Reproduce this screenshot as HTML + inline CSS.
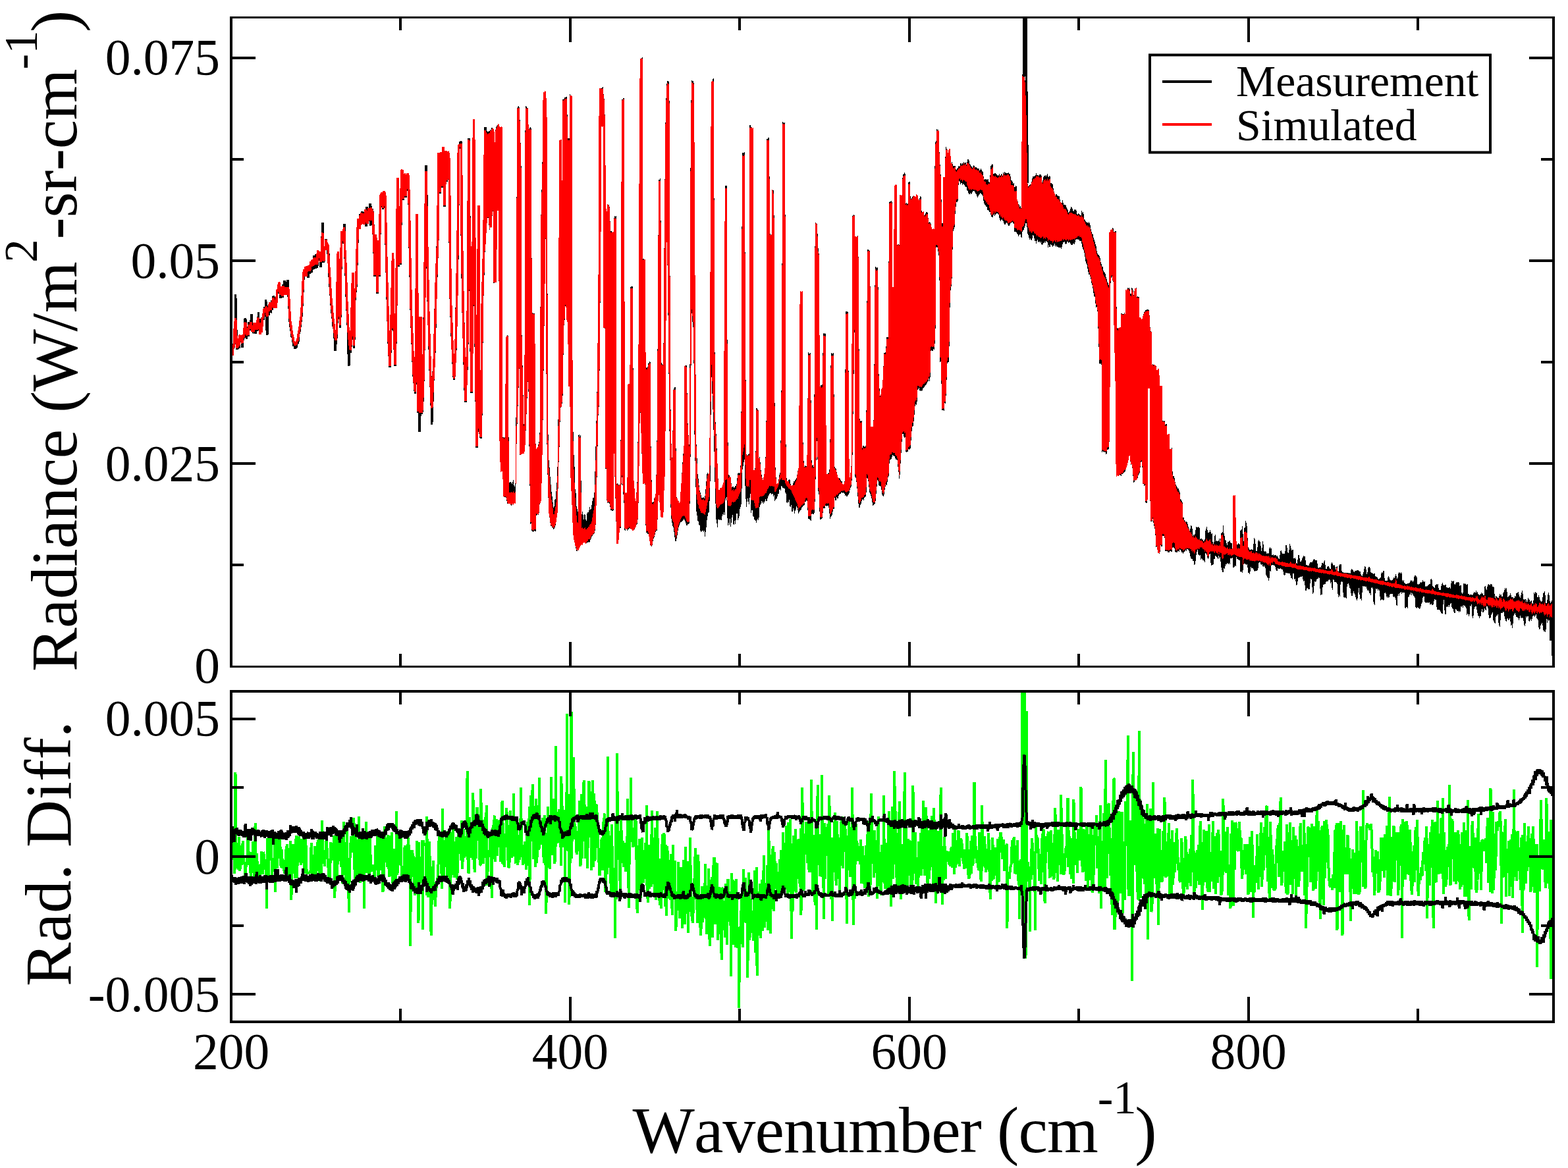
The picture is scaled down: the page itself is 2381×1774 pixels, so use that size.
<!DOCTYPE html>
<html lang="en"><head><meta charset="utf-8"><title>Radiance spectrum: measurement vs simulated</title>
<style>
html,body{margin:0;padding:0;background:#fff;}
body{width:2381px;height:1774px;overflow:hidden;}
svg{display:block;}
text{font-family:"Liberation Serif",serif;fill:#000;}
</style></head><body>
<svg xmlns="http://www.w3.org/2000/svg" width="2381" height="1774" viewBox="0 0 2381 1774">
<rect width="2381" height="1774" fill="#fff"/>
<g stroke-width="3.6" stroke-linejoin="bevel" stroke-linecap="butt" shape-rendering="crispEdges">
<clipPath id="ct"><rect x="351" y="26" width="2008" height="987"/></clipPath>
<g clip-path="url(#ct)">
<path fill="none" stroke="#000" d="M351.3 540.7L352.1 531.7L352.9 540.1L353.7 523.5L354.5 529.8L355.3 522.7L356.1 499.0L356.8 502.4L357.6 484.4L357.6 447.1L358.3 479.8L359.1 520.7L360.0 530.4L360.9 520.4L361.8 526.2L362.7 529.2L363.6 513.5L364.5 513.5L365.4 519.6L366.3 509.9L367.2 518.9L368.1 527.6L369.1 510.6L370.0 513.5L370.9 508.0L371.8 491.7L371.8 484.3L372.7 484.6L373.6 502.6L374.5 515.3L375.4 496.5L376.3 506.2L377.2 510.4L378.1 489.0L379.0 498.0L379.9 501.4L380.9 486.0L381.8 496.2L381.8 477.1L382.7 492.2L383.6 490.5L384.5 504.4L385.4 505.9L386.3 492.1L387.2 495.3L388.1 507.0L389.0 492.6L389.9 498.9L390.7 502.9L391.5 480.9L392.3 485.3L392.3 474.3L393.0 489.9L393.7 483.7L394.5 500.8L395.2 506.1L395.9 499.1L396.7 504.4L397.4 503.1L398.2 481.8L399.0 484.4L399.9 485.7L400.8 472.6L401.7 466.1L402.6 480.5L403.5 471.7L403.5 455.3L404.3 465.7L405.0 497.1L405.7 508.8L406.3 479.0L407.2 463.9L408.1 478.8L409.0 464.4L409.9 460.0L410.8 475.3L411.7 468.1L412.6 456.1L413.5 471.2L414.4 456.3L415.4 449.3L416.3 467.7L417.2 464.4L418.1 450.8L419.0 465.4L419.9 459.0L420.8 442.8L421.7 440.8L422.6 445.3L423.5 429.9L424.4 433.2L425.3 446.3L426.2 453.1L427.2 444.5L428.1 439.9L429.0 452.3L429.9 432.4L430.8 441.7L431.7 426.2L432.6 441.3L433.5 428.6L434.4 446.3L435.3 444.3L436.2 429.9L437.0 425.4L437.7 439.9L439.0 462.0L440.2 487.4L441.0 496.3L441.8 496.7L442.6 505.6L443.5 512.9L444.4 511.7L445.3 520.1L446.1 526.0L446.9 521.7L447.6 529.3L448.4 528.3L449.2 525.3L450.0 528.3L450.8 520.5L451.7 521.9L452.6 520.4L453.5 507.5L454.4 505.6L455.3 501.5L456.2 491.2L457.1 487.4L458.0 477.8L458.9 462.0L460.2 432.9L461.1 419.3L462.0 411.0L462.8 420.3L463.6 408.0L464.4 414.6L465.3 417.8L466.2 406.5L467.1 409.2L468.0 421.6L468.9 407.1L469.8 413.7L470.7 415.3L471.6 397.2L472.5 400.1L473.5 413.4L474.4 398.5L475.3 404.6L476.2 409.0L477.1 388.5L478.0 393.7L478.9 407.5L479.8 386.0L480.7 399.2L481.6 406.7L482.5 384.3L483.4 386.5L484.3 396.0L485.3 382.9L486.2 391.9L487.1 405.7L488.0 395.5L488.9 362.9L489.8 355.6L489.8 338.2L491.1 398.3L491.9 396.3L492.6 378.2L493.4 376.5L494.3 375.6L495.2 362.7L496.2 373.7L496.9 369.8L497.6 386.3L498.3 380.1L499.1 389.6L499.8 411.2L500.7 427.6L501.6 440.2L502.5 451.7L503.4 465.6L504.1 475.3L504.9 477.9L505.6 487.4L506.4 496.9L507.2 496.9L508.0 507.4L509.2 533.3L509.8 521.0L510.7 514.6L511.6 501.9L512.5 414.8L513.4 385.7L514.3 469.3L515.2 396.6L516.5 498.3L517.6 414.8L518.8 354.9L519.8 359.5L520.7 369.4L521.6 362.3L522.5 349.4L522.8 340.3L523.7 383.9L524.5 396.3L525.2 414.8L525.9 439.7L526.7 462.0L527.6 476.4L528.5 498.3L529.7 556.0L530.6 523.7L531.6 533.0L532.5 535.5L533.2 507.8L533.9 487.4L535.2 436.6L536.1 418.4L536.8 477.2L537.5 529.2L538.8 451.1L539.7 443.4L540.6 440.2L541.9 396.6L542.6 373.5L543.4 345.8L544.3 335.0L545.2 332.4L546.0 345.4L546.8 325.5L547.7 337.6L548.5 322.9L549.4 338.0L550.2 320.6L551.0 335.9L551.9 324.1L552.7 336.5L553.5 322.1L554.4 338.4L555.2 322.3L556.0 344.1L556.9 314.2L557.7 334.2L558.5 318.0L559.4 336.0L560.2 315.9L561.0 332.5L561.9 309.1L562.7 342.7L563.5 313.2L564.4 335.6L565.2 317.2L566.1 323.3L567.0 349.5L567.9 367.4L569.1 420.0L569.9 387.0L570.6 358.3L571.4 389.3L572.2 412.9L573.0 445.5L573.8 408.1L574.6 367.4L575.3 392.5L576.0 420.0L576.9 340.2L578.2 298.3L578.9 300.3L579.7 294.7L580.6 303.8L581.5 318.3L582.4 306.7L583.3 291.9L584.2 294.2L585.1 301.9L585.8 345.9L586.6 387.3L587.3 413.7L588.1 449.4L588.9 470.9L589.7 503.6L590.4 524.9L591.2 538.0L592.0 558.0L592.7 536.1L593.5 508.0L594.2 485.4L595.0 455.8L595.8 416.8L596.6 386.5L597.8 485.4L598.6 512.4L599.3 530.5L600.0 556.2L600.7 522.6L601.5 485.4L602.2 418.4L602.9 358.3L603.8 272.0L604.6 342.6L605.5 405.4L606.2 356.4L606.9 314.6L608.0 401.8L608.8 335.3L609.6 262.0L610.9 260.2L611.6 278.5L612.4 303.7L613.3 287.9L614.2 265.6L615.1 281.0L616.0 300.1L616.9 287.3L617.8 269.2L618.7 265.2L619.6 265.6L620.3 282.3L621.1 296.5L622.3 376.5L623.3 420.6L624.2 467.3L625.1 493.4L626.0 513.7L626.9 539.9L627.8 562.2L628.7 578.3L629.6 583.5L630.5 596.5L630.5 598.1L631.2 553.3L632.0 503.6L632.9 327.4L634.1 503.6L635.1 627.3L636.3 482.7L636.9 656.2L637.8 629.2L638.5 552.1L639.2 482.7L640.5 629.2L641.4 616.8L642.3 596.5L643.6 542.0L644.3 482.6L645.0 430.9L645.9 348.5L646.9 261.7L647.2 251.5L647.9 312.2L648.7 376.5L649.6 423.7L650.5 467.3L651.4 496.5L652.3 531.0L653.2 560.2L654.0 577.8L654.8 605.0L655.6 621.9L655.6 645.3L656.3 619.4L657.0 603.2L657.7 578.3L658.7 556.1L659.6 539.9L660.5 507.0L661.4 465.8L662.3 430.9L663.2 409.8L664.1 378.8L665.0 358.3L665.9 234.4L666.8 267.8L667.7 294.4L668.6 260.2L669.6 232.6L670.5 261.5L671.4 285.3L672.3 253.6L673.2 225.4L674.1 273.3L675.0 314.3L675.9 270.4L676.8 230.8L677.7 256.9L678.6 276.2L679.5 250.0L680.4 231.7L681.4 242.6L682.3 249.0L683.2 358.3L684.1 449.1L685.0 471.0L685.9 501.4L686.8 521.7L687.7 536.8L688.6 559.9L689.5 576.5L690.4 556.7L691.3 541.6L692.2 521.7L693.2 472.6L694.1 430.9L694.8 389.0L695.5 340.2L696.4 222.6L697.1 221.0L697.9 226.1L698.6 222.6L699.3 215.4L700.1 216.1L700.4 219.9L701.3 358.3L702.2 415.8L703.1 467.3L704.0 501.4L705.0 539.9L705.9 578.2L706.8 611.0L707.7 585.7L708.6 564.8L709.5 539.9L710.8 434.6L711.7 214.5L711.7 209.7L712.4 289.2L713.1 376.5L714.0 376.5L714.9 489.5L715.9 596.5L716.8 529.2L717.7 467.3L718.6 329.0L719.5 183.1L720.4 313.7L721.3 449.1L722.0 507.2L722.8 558.0L724.0 680.0L725.3 558.0L726.0 432.5L726.7 314.0L727.7 650.9L728.6 657.6L729.5 658.7L730.4 665.5L731.3 568.4L732.2 467.3L733.1 435.1L734.0 409.6L734.9 376.5L735.8 286.3L736.7 199.9L736.7 193.4"/>
<path fill="#000" stroke="none" d="M737.3 194.7L738.2 198.1L739.1 198.5L740.0 200.1L741.1 200.4L742.2 198.7L742.7 198.7L743.6 199.2L744.5 197.1L745.4 198.4L746.4 194.0L747.3 191.9L747.6 195.4L749.1 195.4L749.4 195.4L750.9 201.2L751.3 226.6L751.8 201.2L753.0 194.9L754.2 191.4L754.9 191.4L756.1 189.0L757.2 188.3L758.2 191.0L759.1 194.0L760.0 193.0L760.8 193.6L761.7 192.1L762.5 193.0L763.1 663.5L764.5 663.5L765.4 664.9L766.3 663.5L767.2 665.4L767.8 511.0L768.8 511.9L769.8 509.7L770.8 509.1L771.8 510.4L772.3 635.3L773.0 732.6L774.0 733.8L775.0 729.5L775.9 734.2L776.9 732.8L777.9 736.0L778.8 730.1L779.8 728.3L780.7 739.3L781.7 739.3L782.7 732.7L783.2 648.1L784.1 609.6L784.7 164.0L785.7 164.1L786.7 161.6L787.7 161.1L788.7 163.1L789.2 171.3L790.1 202.1L790.9 230.8L791.7 259.2L792.3 499.3L793.3 545.3L794.3 589.8L795.3 635.2L796.3 679.0L796.8 355.4L797.7 160.3L798.7 161.0L799.7 161.7L800.7 164.8L801.7 163.4L802.3 187.0L803.5 196.1L804.5 193.9L805.4 192.7L806.8 196.2L807.5 391.8L808.1 476.3L809.0 474.4L809.9 477.6L810.8 475.4L811.7 475.9L812.6 526.3L813.5 673.8L814.4 682.2L815.4 680.8L816.4 679.5L817.4 675.2L818.4 672.7L819.5 660.0L820.3 503.6L821.2 345.5L822.1 289.1L823.2 287.3L824.1 171.2L824.8 139.8L825.7 140.8L826.7 139.8L827.7 137.9L828.6 139.5L829.3 149.5L830.4 149.8L831.3 385.9L832.2 647.8L833.5 698.9L834.4 708.2L835.3 721.3L836.2 731.4L837.1 744.7L838.0 750.0L839.0 757.8L839.9 767.1L840.8 772.1L841.7 768.5L842.6 757.6L843.5 758.0L844.4 747.4L845.3 738.4L846.2 715.7L847.1 696.2L848.0 569.4L848.9 210.9L850.0 213.8L851.1 212.6L852.6 212.6L852.9 274.7L854.0 272.6L854.4 150.6L855.3 151.2L856.2 150.6L857.1 147.8L858.0 147.4L858.9 147.8L859.8 146.2L860.7 147.3L861.3 158.9L862.0 209.8L863.5 209.8L864.9 209.8L865.3 142.3L866.2 145.8L867.1 144.0L868.0 146.5L868.9 145.8L869.5 547.5L870.7 674.8L871.6 692.9L872.5 709.0L873.5 743.0L874.4 746.6L875.3 768.1L876.2 772.4L877.1 773.4L878.0 781.7L878.4 661.3L879.4 660.1L880.5 662.6L881.6 661.3L882.2 711.4L883.4 781.8L884.5 776.8L885.5 781.6L886.6 789.1L887.6 780.0L888.6 781.7L889.7 790.3L890.7 790.8L891.7 777.7L892.8 777.8L893.8 778.7L894.9 773.5L895.9 767.4L896.9 777.9L898.0 769.0L898.9 765.0L899.8 759.4L900.7 755.2L901.6 755.9L902.5 747.9L903.4 720.7L904.3 686.0L905.6 636.4L907.0 572.4L908.5 422.2L909.2 193.9L910.3 134.5L911.4 135.0L912.5 134.5L913.0 134.5L913.9 133.4L914.9 132.8L915.8 132.2L916.5 142.6L917.9 152.6L918.8 183.5L919.4 242.5L920.7 329.3L921.6 320.2L922.1 310.7L923.1 310.5L924.2 312.6L925.2 309.1L926.1 322.2L927.0 351.3L928.5 351.3L929.2 350.9L930.4 353.4L931.6 352.8L932.1 331.8L933.0 329.5L933.9 326.7L934.8 329.9L935.7 328.1L936.1 735.7L937.0 733.8L937.9 733.9L938.8 735.7L939.7 737.0L940.6 735.9L941.5 737.0L943.0 635.2L943.7 148.1L944.8 151.4L945.8 150.4L946.9 148.7L947.9 149.9L948.4 411.3L949.2 747.6L950.3 749.2L951.3 749.0L952.4 747.6L953.3 584.1L954.4 582.5L955.4 583.8L956.4 584.7L957.0 438.5L957.9 435.0L958.8 434.6L959.7 435.0L960.6 435.0L961.2 501.0L962.4 728.4L963.3 739.0L964.2 751.9L965.1 765.1L966.1 754.7L967.0 739.0L967.9 726.2L969.1 620.2L970.2 365.6L971.0 149.5L972.0 89.2L973.0 89.7L974.0 88.5L975.0 87.4L976.0 87.2L976.4 393.0L977.3 392.6L978.2 394.4L979.1 393.9L980.0 395.3L980.6 562.0L981.5 558.0L982.4 558.6L983.3 558.7L984.2 551.1L985.1 552.8L986.0 548.9L986.9 548.4L987.8 550.2L988.4 671.7L989.3 719.3L990.2 762.9L991.3 763.3L992.4 762.9L993.3 757.2L994.2 756.8L995.1 751.8L996.0 746.9L996.9 701.7L997.8 654.6L998.7 499.8L1000.0 272.5L1001.1 274.1L1002.2 271.5L1003.3 271.0L1004.2 551.0L1005.2 552.4L1006.2 554.1L1007.3 553.6L1008.4 389.8L1009.3 294.8L1010.2 198.8L1011.4 151.5L1012.7 123.4L1014.2 123.0L1015.3 124.4L1016.4 123.9L1017.8 496.6L1018.7 654.6L1019.9 682.9L1021.1 706.6L1022.0 592.3L1023.0 591.4L1024.0 588.6L1025.0 586.8L1026.0 588.8L1026.9 752.1L1027.8 756.2L1028.7 757.5L1029.6 760.3L1030.5 761.7L1031.4 763.9L1032.3 765.7L1033.2 752.0L1034.1 740.3L1035.1 725.5L1036.0 708.0L1036.9 697.7L1037.8 685.3L1038.7 675.0L1039.2 557.4L1040.1 555.6L1041.0 553.6L1042.0 556.2L1042.9 554.7L1044.1 636.9L1045.0 651.2L1045.9 668.7L1046.9 679.2L1047.8 497.3L1048.7 194.5L1050.1 121.8L1051.2 122.6L1052.2 123.4L1053.2 121.8L1054.1 133.7L1055.0 314.5L1055.9 497.2L1057.4 673.1L1058.5 696.2L1059.6 721.6L1060.7 728.3L1061.7 739.4L1062.8 746.6L1063.9 748.1L1065.0 755.9L1066.1 756.0L1067.2 756.5L1068.3 755.0L1069.4 757.5L1070.5 752.7L1071.4 744.1L1072.3 732.9L1073.2 723.4L1074.1 714.5L1075.0 722.9L1075.9 719.1L1076.8 720.4L1078.1 620.5L1078.8 276.5L1080.1 124.5L1081.0 123.8L1081.9 123.5L1082.8 118.5L1083.7 119.1L1084.6 321.6L1085.9 628.0L1086.8 646.7L1087.7 662.5L1088.6 682.7L1089.5 703.9L1090.4 725.1L1091.3 744.0L1092.2 745.0L1093.2 742.7L1094.1 740.7L1095.0 742.0L1095.9 740.3L1096.8 738.7L1097.7 736.4L1098.6 733.1L1099.5 537.0L1100.4 344.1L1101.3 282.0L1102.2 281.6L1103.1 282.5L1104.0 282.0L1104.6 559.3L1105.9 720.6L1106.8 721.0L1107.7 722.7L1108.6 723.9L1109.5 724.6L1110.4 733.2L1111.3 740.6L1112.4 739.3L1113.4 738.6L1114.5 741.1L1115.5 739.9L1116.6 737.8L1117.7 738.5L1118.6 734.1L1119.5 726.3L1120.4 718.8L1121.3 718.0L1122.2 720.1L1123.1 717.1L1124.0 718.8L1125.3 688.9L1126.4 361.6L1127.3 231.4L1128.4 232.5L1129.6 231.9L1130.7 230.6L1131.3 342.5L1132.2 517.4L1133.1 689.7L1134.0 690.7L1134.9 692.5L1135.8 690.3L1136.7 689.9L1137.6 688.7L1138.5 190.1L1140.0 190.1L1140.0 191.2L1140.9 194.0L1141.8 193.4L1142.7 196.1L1143.6 194.4L1144.5 714.9L1145.4 715.1L1146.4 711.0L1147.3 712.3L1148.0 620.6L1148.9 620.0L1149.9 620.7L1150.8 622.7L1151.8 622.6L1152.3 696.1L1153.6 693.4L1154.5 701.7L1155.4 712.6L1156.3 720.6L1157.2 723.0L1158.2 731.3L1159.1 726.7L1160.0 724.1L1160.9 718.5L1161.8 707.6L1162.7 691.0L1163.6 632.9L1164.1 211.3L1165.1 211.4L1166.1 209.6L1167.1 208.8L1168.1 209.6L1169.1 352.9L1170.0 357.1L1170.9 356.5L1171.8 355.9L1172.1 287.8L1173.2 288.4L1174.3 289.2L1175.4 290.5L1176.3 584.1L1177.2 706.2L1178.1 716.3L1179.0 734.9L1179.9 735.9L1180.9 733.2L1181.8 734.9L1182.7 725.8L1183.6 720.8L1184.5 718.4L1185.4 674.9L1186.3 634.8L1187.6 384.6L1188.1 185.4L1189.1 184.4L1190.1 187.6L1191.1 185.5L1192.1 185.6L1192.7 390.3L1193.6 707.5L1194.5 725.6L1195.4 731.0L1196.3 731.9L1197.2 730.5L1198.1 726.2L1199.0 729.4L1199.9 728.8L1200.8 737.6L1201.7 738.1L1202.8 737.0L1203.9 736.9L1205.0 731.1L1206.1 731.1L1207.2 730.2L1208.1 727.5L1209.0 727.9L1209.9 724.7L1210.8 719.7L1211.7 714.1L1212.6 710.2L1213.5 619.0L1214.1 476.5L1215.0 443.6L1216.0 441.7L1217.0 445.4L1218.0 441.7L1219.0 443.6L1219.5 672.4L1220.8 708.7L1221.7 709.0L1222.6 707.1L1223.5 708.3L1224.4 707.9L1225.3 707.4L1226.2 638.4L1227.2 534.6L1228.1 536.6L1229.0 536.8L1229.9 536.4L1230.8 535.3L1231.7 626.7L1232.6 706.6L1233.5 707.2L1234.4 705.0L1235.3 709.4L1236.2 708.8L1237.1 404.8L1238.0 337.6L1239.1 338.4L1240.2 341.9L1241.3 335.7L1241.7 372.0L1242.8 379.4L1243.9 388.5L1244.9 588.3L1245.9 586.6L1246.9 583.6L1247.9 585.5L1248.9 583.7L1249.9 506.9L1250.8 505.8L1251.8 507.0L1252.8 506.0L1253.8 507.7L1254.4 634.9L1255.3 720.3L1256.2 721.5L1257.1 717.9L1258.0 719.8L1258.9 716.1L1260.2 710.6L1261.3 563.2L1262.0 536.3L1263.0 536.7L1263.9 537.4L1264.9 536.0L1265.8 536.2L1266.6 606.7L1267.5 708.6L1268.6 711.5L1269.8 712.2L1270.7 718.5L1271.6 721.4L1272.5 725.2L1273.5 725.6L1274.4 726.2L1275.3 726.6L1276.2 728.3L1277.1 731.4L1278.0 731.2L1278.9 731.6L1279.8 736.1L1280.7 736.7L1281.9 733.8L1283.1 728.5L1283.4 584.3L1284.0 472.7L1285.0 473.1L1286.0 472.4L1287.0 473.8L1288.0 475.1L1288.9 631.3L1289.8 729.4L1290.7 723.9L1291.6 717.8L1292.5 709.8L1293.4 573.2L1294.0 328.0L1295.0 327.0L1296.0 326.4L1297.0 326.0L1298.0 328.0L1298.5 358.9L1299.2 358.9L1300.1 359.7L1301.1 360.1L1302.0 357.8L1302.9 358.7L1304.0 415.9L1304.9 619.7L1305.6 638.5L1306.6 639.4L1307.5 640.0L1308.5 638.5L1309.2 680.3L1310.7 676.7L1311.6 677.4L1312.5 678.1L1313.4 678.8L1314.3 677.2L1315.2 677.1L1316.1 526.0L1317.0 379.3L1318.0 378.4L1319.0 378.9L1320.0 380.7L1321.0 380.7L1322.1 498.3L1322.5 648.6L1323.4 649.0L1324.3 648.2L1325.2 649.2L1326.1 647.7L1327.0 626.8L1328.1 469.2L1328.8 406.6L1329.8 404.6L1330.8 406.8L1331.8 407.2L1332.8 405.9L1333.9 452.2L1334.6 584.8L1335.8 592.1L1337.0 607.3L1337.9 592.7L1338.8 591.1L1339.7 589.1L1341.2 566.5L1342.1 536.5L1343.1 535.8L1344.1 536.1L1345.2 533.9L1346.1 512.1L1347.0 511.2L1347.9 512.3L1348.8 512.1L1349.2 447.4L1350.1 307.2L1350.6 307.2L1351.5 306.2L1352.4 305.8L1353.3 304.1L1354.3 307.0L1355.2 306.1L1355.5 436.7L1357.0 436.7L1357.9 281.9L1358.9 283.0L1359.9 280.2L1360.9 279.6L1361.9 281.3L1362.4 372.5L1363.5 370.9L1364.6 370.9L1365.7 371.8L1366.1 296.1L1367.1 295.9L1368.1 297.3L1369.2 296.7L1370.2 297.3L1370.6 263.1L1371.5 265.1L1372.4 264.0L1373.3 261.9L1374.2 264.1L1375.1 264.0L1375.5 308.5L1376.6 307.9L1377.7 309.9L1378.8 308.5L1379.1 277.2L1380.1 276.7L1381.1 275.2L1382.0 275.9L1382.4 297.8L1383.3 302.0L1384.2 301.1L1385.1 300.8L1386.0 297.8L1386.9 298.6L1387.8 297.4L1388.8 298.6L1389.7 298.7L1390.6 299.9L1391.5 295.6L1392.4 296.5L1393.3 296.5L1394.2 301.2L1395.1 303.7L1396.0 304.5L1396.9 299.1L1397.8 298.1L1398.7 299.2L1399.3 318.7L1400.3 323.0L1401.3 322.9L1402.3 321.3L1403.3 323.2L1403.6 329.6L1404.7 325.4L1405.7 323.2L1406.7 321.7L1407.7 322.3L1408.7 323.6L1409.6 331.4L1410.5 338.1L1411.4 336.5L1412.4 338.1L1413.3 339.0L1414.2 342.9L1415.1 348.3L1416.0 347.6L1416.9 348.7L1417.8 346.8L1418.7 348.3L1419.1 267.7L1420.5 216.4L1421.4 216.4L1422.3 196.4L1423.3 196.9L1424.2 196.6L1425.1 198.8L1426.0 198.5L1426.3 226.1L1427.2 245.2L1428.2 260.8L1429.1 271.7L1430.0 340.2L1431.0 338.8L1432.0 340.2L1432.3 269.3L1433.8 269.3L1434.5 269.3L1436.0 223.0L1436.9 223.9L1437.8 227.5L1438.7 227.5L1439.6 232.9L1441.0 226.6L1441.8 226.6L1442.9 226.0L1444.1 247.8L1445.0 247.5L1445.9 244.6L1446.9 251.0L1447.8 252.4L1448.7 252.3L1449.6 251.8L1450.5 251.8L1451.4 256.3L1452.3 258.9L1453.2 255.5L1454.1 257.4L1455.0 252.0L1455.6 252.4L1456.6 252.9L1457.6 251.8L1458.6 247.8L1459.6 247.5L1460.6 249.8L1461.6 247.7L1462.7 248.6L1463.7 245.7L1464.8 249.1L1465.8 245.5L1466.8 247.1L1467.7 250.2L1468.6 245.9L1469.6 241.1L1470.5 242.0L1471.4 243.4L1472.3 248.3L1473.2 249.6L1474.1 251.4L1475.1 252.1L1476.1 255.0L1477.1 254.4L1478.1 250.4L1479.0 251.5L1480.0 251.9L1481.0 255.9L1482.0 252.4L1483.0 255.5L1484.0 255.0L1485.0 257.1L1486.0 254.8L1487.1 258.3L1488.1 260.9L1489.1 254.5L1490.2 257.4L1491.2 260.1L1492.2 258.8L1493.2 266.0L1494.1 273.2L1495.0 272.9L1495.9 271.8L1496.8 272.8L1497.7 273.3L1498.6 271.9L1499.5 273.4L1500.4 271.5L1501.3 276.3L1502.2 276.8L1503.1 276.5L1504.0 252.8L1505.0 252.1L1506.0 250.5L1507.0 247.5L1508.0 252.8L1508.6 266.1L1509.7 263.3L1510.8 263.2L1511.9 262.3L1512.9 265.0L1514.0 264.1L1515.1 267.6L1516.2 266.3L1517.3 263.8L1518.4 266.8L1519.5 266.3L1520.4 263.9L1521.3 264.7L1522.4 267.3L1523.5 262.3L1524.6 264.4L1525.7 260.9L1526.7 262.6L1527.8 263.1L1528.9 263.0L1530.0 263.9L1531.1 261.0L1532.2 263.8L1533.1 264.1L1534.0 263.3L1534.9 271.3L1535.8 275.5L1536.9 273.1L1537.9 277.7L1539.0 279.3L1540.0 276.1L1540.0 285.7L1540.9 282.4L1541.8 285.3L1542.7 281.7L1543.6 283.5L1544.5 302.7L1545.4 305.8L1546.4 309.8L1547.3 309.4L1548.2 314.4L1549.1 312.3L1550.0 314.9L1550.9 316.9L1551.3 258.9L1552.0 115.0L1553.0 111.1L1554.0 112.3L1555.0 113.4L1556.0 112.5L1557.2 134.1L1558.2 156.2L1559.1 198.0L1559.6 234.1L1560.3 277.9L1561.8 284.3L1562.7 281.3L1563.6 281.2L1564.5 280.2L1565.4 280.7L1566.3 276.5L1567.2 273.0L1568.1 268.2L1569.1 266.9L1570.0 268.3L1570.9 267.9L1571.8 266.2L1572.7 266.0L1573.6 262.9L1574.5 266.1L1575.5 266.2L1576.6 265.5L1577.6 267.0L1578.6 265.1L1579.7 264.5L1580.7 265.3L1581.8 267.7L1582.7 279.5L1583.6 273.4L1584.5 268.8L1585.4 267.3L1586.4 267.5L1587.4 265.3L1588.4 267.8L1589.4 266.8L1590.4 263.9L1591.4 267.9L1592.5 268.7L1593.5 267.3L1594.5 267.9L1595.4 278.0L1596.3 278.0L1597.2 278.9L1598.1 279.0L1599.0 282.0L1599.9 288.2L1600.8 293.0L1601.7 294.0L1602.6 296.8L1603.5 294.7L1604.5 294.7L1605.4 297.5L1606.3 297.4L1607.2 297.6L1608.1 298.4L1609.0 297.4L1609.9 307.2L1610.8 306.3L1611.7 308.0L1612.6 308.0L1613.5 303.7L1614.4 307.2L1615.4 311.3L1616.3 311.5L1617.2 310.9L1618.1 311.7L1619.0 312.1L1619.9 316.5L1620.8 317.6L1621.7 319.8L1622.8 324.6L1623.9 320.2L1625.0 320.0L1626.1 314.4L1627.2 314.3L1628.2 316.3L1629.2 318.9L1630.3 321.4L1631.3 317.8L1632.3 319.2L1633.4 317.9L1634.4 319.7L1635.3 324.0L1636.2 326.7L1637.1 324.5L1638.0 323.0L1639.0 326.4L1639.9 325.8L1640.8 327.0L1641.7 326.7L1642.6 319.2L1643.5 322.8L1644.4 321.7L1645.3 322.8L1646.2 332.3L1647.1 334.3L1648.0 334.6L1648.9 337.5L1649.9 336.8L1650.8 338.7L1651.7 337.5L1652.6 339.0L1653.5 337.3L1654.4 338.3L1655.3 340.8L1656.2 347.1L1657.1 349.8L1658.0 354.7L1658.9 355.6L1659.8 356.9L1660.7 361.7L1661.7 364.5L1662.6 367.8L1663.5 370.9L1664.4 373.6L1665.3 379.5L1666.2 384.0L1667.1 387.4L1668.0 386.8L1669.3 388.0L1670.4 391.4L1671.5 397.9L1672.5 400.9L1673.5 405.0L1674.4 404.2L1675.3 410.3L1676.2 412.4L1677.1 414.0L1678.0 414.8L1678.9 416.1L1679.8 422.7L1680.7 424.2L1681.6 428.1L1682.8 431.0L1684.0 434.5L1684.3 352.7L1685.3 352.7L1686.2 349.0L1687.1 349.2L1688.0 347.7L1688.9 348.3L1689.8 344.9L1691.1 349.5L1691.6 352.4L1692.5 351.6L1693.4 350.7L1694.3 350.7L1695.2 350.0L1695.6 498.9L1696.6 498.1L1697.6 498.9L1698.0 497.5L1699.0 498.9L1700.1 497.7L1701.1 497.1L1702.1 496.1L1702.5 476.1L1703.6 476.2L1704.6 476.9L1705.7 477.3L1706.7 477.2L1707.8 474.7L1708.9 477.6L1709.2 440.3L1710.3 441.6L1711.3 439.4L1712.4 436.6L1713.4 438.0L1714.3 436.5L1715.2 436.7L1716.1 442.9L1717.0 450.3L1717.9 443.5L1718.8 434.2L1719.8 439.2L1720.7 442.1L1721.6 448.5L1722.5 442.1L1723.4 437.6L1724.5 437.8L1725.6 437.3L1726.1 451.3L1727.0 449.7L1727.9 451.0L1728.8 451.1L1729.7 450.5L1730.3 482.1L1731.4 482.6L1732.5 483.8L1733.4 485.2L1734.3 485.2L1735.2 480.2L1736.1 479.4L1737.0 474.5L1737.9 473.2L1738.8 472.7L1739.2 471.6L1740.4 471.1L1741.5 470.3L1742.5 470.3L1743.4 470.3L1744.8 471.7L1745.5 479.3L1746.1 491.5L1747.0 503.3L1747.9 503.2L1748.8 504.4L1749.2 554.3L1750.6 552.5L1751.5 554.0L1752.4 553.8L1753.3 553.9L1754.3 555.4L1755.2 554.4L1756.1 559.6L1757.0 564.4L1757.9 560.5L1759.0 560.7L1760.1 560.5L1761.2 586.0L1762.4 586.0L1763.3 586.2L1764.2 586.4L1765.1 586.0L1765.5 639.0L1766.5 639.4L1767.4 640.3L1768.4 637.7L1769.1 645.0L1770.1 644.1L1771.1 644.1L1772.0 645.0L1772.4 660.4L1773.3 660.8L1774.2 660.2L1775.1 659.3L1776.0 660.4L1776.4 682.2L1777.3 682.2L1778.2 682.4L1779.1 680.0L1780.0 679.2L1780.6 722.4L1781.5 722.5L1782.4 722.4L1783.3 724.5L1784.2 730.3L1785.1 734.5L1786.0 738.0L1786.9 738.9L1787.8 740.7L1788.8 743.0L1789.7 742.3L1790.6 745.5L1791.5 747.8L1792.4 758.3L1793.5 759.0L1794.6 761.2L1795.7 762.9L1796.4 786.0L1797.5 786.1L1798.6 790.7L1799.6 790.9L1800.6 793.3L1801.5 792.0L1802.4 792.9L1803.3 795.2L1804.2 798.7L1805.1 801.7L1806.0 803.6L1806.9 807.7L1807.8 800.7L1808.7 797.0L1809.6 798.9L1810.5 803.1L1811.4 813.8L1812.4 811.7L1813.3 814.2L1814.2 810.8L1815.1 810.3L1816.0 798.6L1816.9 801.8L1817.8 801.0L1818.7 801.2L1819.6 800.0L1820.5 800.7L1821.4 799.2L1822.3 819.0L1823.3 818.1L1824.3 818.0L1825.3 819.6L1826.4 819.1L1827.4 821.7L1828.4 821.2L1829.5 819.4L1830.5 805.6L1831.4 803.1L1832.3 799.0L1833.2 803.5L1834.1 808.5L1835.1 809.0L1836.0 809.9L1836.9 806.4L1837.8 804.4L1838.7 809.1L1839.6 811.0L1840.6 809.7L1841.6 824.6L1842.6 826.4L1843.6 822.6L1844.6 813.2L1845.6 811.4L1846.7 823.9L1847.7 820.4L1848.7 822.1L1849.6 821.9L1850.5 821.2L1851.4 817.4L1852.3 822.0L1853.2 826.8L1853.8 810.2L1854.7 809.8L1855.6 809.2L1856.5 808.4L1857.4 795.4L1858.1 811.0L1859.1 809.7L1860.0 819.8L1861.0 819.8L1862.0 822.8L1863.0 827.8L1863.9 827.3L1864.9 821.1L1865.9 824.1L1866.8 821.5L1867.8 820.9L1868.8 824.8L1869.8 824.8L1870.8 824.5L1871.5 834.8L1871.9 786.6L1872.3 754.0L1873.2 751.8L1874.1 754.5L1875.0 751.5L1875.9 754.0L1876.5 786.6L1877.4 820.2L1878.1 832.9L1878.8 822.7L1879.8 828.9L1880.8 822.9L1881.8 827.6L1882.8 826.6L1883.2 805.2L1884.1 806.9L1885.0 803.4L1885.9 805.0L1886.8 796.4L1887.3 808.0L1888.6 823.3L1889.5 802.0L1890.4 802.8L1891.3 790.4L1892.2 793.0L1893.2 795.0L1894.1 804.7L1895.0 831.1L1896.0 830.3L1897.0 836.0L1898.0 834.3L1899.1 836.0L1900.1 833.3L1901.1 834.9L1902.1 835.9L1903.1 833.7L1904.1 816.0L1905.1 819.1L1906.1 817.7L1907.1 836.4L1908.1 837.5L1909.1 836.3L1910.1 823.2L1911.1 820.1L1912.1 821.1L1913.0 823.3L1914.0 823.2L1915.1 835.8L1916.1 839.1L1917.1 822.1L1918.2 822.0L1919.2 836.5L1920.3 838.6L1921.3 836.3L1922.3 837.9L1923.4 840.6L1924.4 840.2L1925.4 841.5L1926.5 839.8L1927.5 832.8L1928.6 831.0L1929.5 833.5L1930.4 831.8L1931.3 842.9L1932.3 842.7L1933.3 842.0L1934.2 844.0L1935.2 843.2L1936.2 843.9L1937.1 842.1L1938.1 845.0L1939.0 844.9L1940.0 843.0L1940.0 842.8L1941.0 848.2L1942.0 848.2L1943.0 848.9L1944.0 837.9L1945.0 835.6L1946.1 836.9L1947.1 841.5L1948.1 840.5L1949.1 842.3L1950.1 840.2L1951.1 842.6L1952.1 828.4L1953.1 827.5L1954.1 827.8L1955.1 838.9L1956.1 840.0L1957.1 840.0L1958.2 825.7L1959.1 826.7L1960.0 832.7L1960.9 833.9L1961.8 836.6L1962.7 834.1L1963.6 835.3L1964.5 848.2L1965.4 847.7L1966.3 847.8L1967.2 846.3L1968.1 854.9L1969.1 856.2L1970.0 856.6L1971.0 843.6L1972.0 842.4L1973.0 844.0L1974.0 852.1L1975.0 853.0L1976.0 853.6L1977.0 849.1L1978.0 847.5L1979.0 844.6L1980.0 843.8L1981.0 845.4L1982.0 844.0L1983.0 858.2L1984.0 857.1L1985.0 859.3L1986.0 858.9L1987.0 859.0L1988.0 858.9L1989.0 854.0L1990.0 853.5L1991.0 854.1L1992.0 854.8L1993.0 853.2L1994.0 850.8L1995.0 848.6L1996.0 849.6L1997.0 851.4L1998.0 850.6L1999.0 851.6L2000.0 850.2L2001.0 861.5L2001.9 862.4L2002.9 862.6L2003.9 860.9L2004.9 861.1L2005.9 863.0L2006.9 855.8L2007.9 855.1L2008.9 855.6L2009.9 856.9L2010.9 850.6L2011.9 850.9L2012.9 863.0L2013.9 864.2L2014.9 864.4L2015.9 859.5L2016.9 860.8L2017.9 860.2L2018.9 863.9L2019.9 864.8L2020.8 864.0L2021.7 854.2L2022.6 854.5L2023.5 855.6L2024.4 858.0L2025.3 859.5L2026.2 858.4L2027.2 858.7L2028.1 865.0L2029.0 865.4L2029.9 858.2L2030.8 861.2L2031.7 867.9L2032.7 868.3L2033.7 857.3L2034.7 856.9L2035.7 857.0L2036.7 857.6L2037.7 868.8L2038.8 869.0L2039.8 868.7L2040.8 870.5L2041.8 869.5L2042.8 869.5L2043.8 869.9L2044.8 869.8L2045.8 869.5L2046.8 869.6L2047.8 869.6L2048.8 871.0L2049.9 869.2L2050.9 871.6L2051.9 862.5L2052.9 864.2L2053.9 864.8L2054.9 867.3L2055.9 868.4L2056.9 868.9L2057.9 866.1L2058.9 867.1L2059.9 867.2L2060.9 864.7L2062.0 866.2L2063.0 865.5L2064.0 868.6L2065.0 867.8L2066.0 869.2L2067.0 874.3L2068.0 874.3L2069.0 875.6L2070.0 869.1L2071.0 868.7L2072.0 859.9L2073.1 861.0L2074.1 860.7L2075.1 872.2L2076.1 872.6L2077.1 862.8L2078.0 862.4L2078.9 860.7L2079.8 861.8L2080.7 863.9L2081.7 869.7L2082.7 869.8L2083.7 869.6L2084.7 871.4L2085.7 871.9L2086.8 871.0L2087.8 871.5L2088.8 876.4L2089.8 876.1L2090.8 875.7L2091.8 877.5L2092.8 879.8L2093.8 880.6L2094.8 878.6L2095.8 877.6L2096.8 877.2L2097.8 868.9L2098.8 869.3L2099.8 869.7L2100.8 865.5L2101.8 868.0L2102.8 882.8L2103.9 881.1L2104.9 881.8L2105.9 882.9L2106.9 881.3L2107.9 874.9L2108.9 875.7L2109.9 877.1L2110.9 881.1L2111.9 881.0L2112.9 882.1L2113.9 880.9L2114.9 881.1L2115.9 877.1L2116.9 877.3L2117.9 877.9L2118.8 873.9L2119.8 871.3L2120.7 875.7L2121.6 879.1L2122.6 877.3L2123.6 870.3L2124.6 868.9L2125.6 869.6L2126.5 870.9L2127.5 869.3L2128.5 870.6L2129.5 880.7L2130.5 882.6L2131.5 881.1L2132.5 885.2L2133.5 885.8L2134.5 886.5L2135.5 887.1L2136.5 886.5L2137.5 885.6L2138.5 885.9L2139.5 885.6L2140.5 885.5L2141.5 883.1L2142.5 881.4L2143.5 882.2L2144.5 882.4L2145.5 884.0L2146.4 883.1L2147.4 876.7L2148.4 873.5L2149.4 873.8L2150.4 875.0L2151.4 876.1L2152.4 887.1L2153.4 888.4L2154.4 887.4L2155.4 887.3L2156.4 885.1L2157.4 884.0L2158.4 885.3L2159.4 884.5L2160.4 880.4L2161.4 882.4L2162.4 883.8L2163.4 882.0L2164.4 891.5L2165.4 889.5L2166.4 890.7L2167.3 890.7L2168.3 889.1L2169.3 888.2L2170.3 886.9L2171.3 888.9L2172.3 879.7L2173.3 879.6L2174.2 876.6L2175.1 889.1L2176.0 891.8L2176.9 891.0L2177.9 893.1L2178.9 893.3L2179.8 886.8L2180.8 888.1L2181.8 887.0L2182.8 888.0L2183.8 887.1L2184.8 895.5L2185.8 895.8L2186.8 896.3L2187.8 896.3L2188.8 887.7L2189.8 886.0L2190.8 884.8L2191.8 889.0L2192.8 889.0L2193.8 889.6L2194.7 887.2L2195.7 888.7L2196.7 892.3L2197.7 891.7L2198.7 893.9L2199.7 893.1L2200.7 892.3L2201.7 891.5L2202.7 894.4L2203.7 883.5L2204.7 882.0L2205.7 882.8L2206.7 882.5L2207.7 882.1L2208.7 888.4L2209.6 887.9L2210.6 886.1L2211.6 884.3L2212.6 885.2L2213.6 883.5L2214.6 884.0L2215.6 885.3L2216.6 890.4L2217.6 888.6L2218.6 889.6L2219.6 900.8L2220.6 902.1L2221.6 900.2L2222.6 884.9L2223.6 887.3L2224.6 885.5L2225.5 887.4L2226.5 887.5L2227.5 888.0L2228.5 887.0L2229.5 901.6L2230.5 901.7L2231.5 904.3L2232.5 903.1L2233.5 903.1L2234.5 902.9L2235.6 903.8L2236.6 902.7L2237.6 901.2L2238.6 899.3L2239.6 899.7L2240.6 899.9L2241.6 896.7L2242.6 899.9L2243.6 899.3L2244.6 902.7L2245.6 902.9L2246.7 904.2L2247.7 902.7L2248.7 901.5L2249.7 899.8L2250.7 903.0L2251.7 900.4L2252.7 904.6L2253.7 903.5L2254.7 887.8L2255.7 890.6L2256.7 894.2L2257.7 896.0L2258.8 889.7L2259.8 887.4L2260.8 887.5L2261.8 888.6L2262.8 889.2L2263.8 886.3L2264.8 887.7L2265.8 888.7L2266.8 892.0L2267.8 890.2L2268.8 893.1L2269.9 906.9L2270.9 908.3L2271.9 902.3L2272.9 907.8L2273.9 906.7L2274.9 908.4L2275.9 908.0L2276.9 903.4L2277.9 901.5L2278.9 905.9L2279.9 900.9L2280.9 909.2L2282.0 903.7L2283.0 897.9L2284.0 900.7L2285.0 891.5L2286.0 894.6L2287.0 895.3L2288.0 891.7L2289.0 906.3L2290.0 908.5L2291.0 903.0L2292.0 906.0L2293.1 901.4L2294.1 901.6L2295.1 907.5L2296.1 905.4L2297.1 908.1L2298.1 906.5L2299.1 912.8L2300.1 902.2L2301.1 908.4L2302.1 902.1L2303.1 900.5L2304.1 901.8L2305.2 898.3L2306.2 901.3L2307.2 905.1L2308.2 908.3L2309.2 905.9L2310.2 901.4L2311.2 896.1L2312.2 899.1L2313.2 909.3L2314.2 910.9L2315.2 910.2L2316.3 909.4L2317.3 914.7L2318.3 909.7L2319.3 915.6L2320.3 907.7L2321.3 909.5L2322.3 910.2L2323.3 914.3L2324.3 913.0L2325.2 911.3L2326.2 914.9L2327.2 917.0L2328.2 918.3L2329.2 898.2L2330.2 904.8L2331.1 897.1L2332.1 901.7L2333.1 897.0L2334.1 906.5L2335.1 907.8L2336.1 905.8L2337.0 902.6L2338.0 910.4L2339.0 911.5L2340.0 914.6L2341.0 914.0L2342.1 910.8L2343.1 900.8L2344.1 900.6L2345.2 898.2L2346.2 897.8L2347.2 915.9L2348.3 916.3L2349.3 912.6L2350.3 904.0L2351.4 899.3L2352.5 903.6L2353.6 913.6L2354.7 917.1L2355.8 912.8L2357.1 911.2L2358.0 913.0L2358.9 917.0L2358.9 937.9L2358.0 1014.5L2357.1 1014.6L2355.8 973.4L2354.7 972.3L2353.6 975.2L2352.5 942.1L2351.4 942.7L2350.3 940.6L2349.3 947.1L2348.3 938.4L2347.2 963.6L2346.2 957.7L2345.2 960.0L2344.1 959.1L2343.1 955.8L2342.1 945.0L2341.0 946.9L2340.0 948.7L2339.0 952.4L2338.0 958.1L2337.0 954.4L2336.1 951.7L2335.1 935.1L2334.1 943.0L2333.1 936.3L2332.1 931.1L2331.1 937.1L2330.2 936.7L2329.2 934.1L2328.2 935.4L2327.2 936.7L2326.2 941.7L2325.2 944.2L2324.3 939.1L2323.3 942.6L2322.3 944.3L2321.3 943.3L2320.3 933.7L2319.3 937.0L2318.3 938.4L2317.3 934.8L2316.3 950.1L2315.2 950.8L2314.2 948.0L2313.2 940.3L2312.2 938.6L2311.2 938.2L2310.2 939.5L2309.2 938.0L2308.2 934.1L2307.2 941.7L2306.2 941.6L2305.2 938.4L2304.1 938.5L2303.1 935.9L2302.1 937.7L2301.1 931.3L2300.1 930.1L2299.1 934.8L2298.1 934.8L2297.1 955.6L2296.1 952.1L2295.1 946.9L2294.1 951.8L2293.1 939.2L2292.0 938.1L2291.0 943.4L2290.0 940.7L2289.0 938.1L2288.0 942.8L2287.0 945.0L2286.0 941.6L2285.0 938.3L2284.0 933.4L2283.0 927.3L2282.0 930.7L2280.9 931.7L2279.9 929.1L2278.9 933.6L2277.9 954.8L2276.9 946.8L2275.9 954.3L2274.9 932.3L2273.9 933.5L2272.9 936.5L2271.9 931.8L2270.9 946.2L2269.9 947.7L2268.8 942.2L2267.8 947.5L2266.8 929.1L2265.8 932.4L2264.8 932.2L2263.8 938.5L2262.8 938.4L2261.8 938.9L2260.8 938.1L2259.8 924.9L2258.8 922.2L2257.7 919.2L2256.7 926.5L2255.7 926.7L2254.7 923.6L2253.7 927.9L2252.7 929.9L2251.7 931.3L2250.7 924.9L2249.7 926.9L2248.7 936.7L2247.7 935.5L2246.7 939.1L2245.6 935.5L2244.6 935.5L2243.6 931.3L2242.6 926.1L2241.6 920.9L2240.6 920.5L2239.6 921.7L2238.6 923.8L2237.6 935.0L2236.6 939.2L2235.6 937.6L2234.5 918.4L2233.5 921.1L2232.5 920.4L2231.5 933.3L2230.5 935.7L2229.5 933.1L2228.5 932.3L2227.5 934.3L2226.5 924.3L2225.5 921.8L2224.6 920.2L2223.6 920.0L2222.6 918.3L2221.6 923.1L2220.6 919.9L2219.6 921.7L2218.6 920.6L2217.6 929.2L2216.6 927.7L2215.6 929.7L2214.6 928.0L2213.6 927.6L2212.6 928.1L2211.6 925.7L2210.6 924.5L2209.6 931.0L2208.7 931.3L2207.7 929.8L2206.7 925.4L2205.7 924.0L2204.7 923.3L2203.7 916.4L2202.7 916.1L2201.7 918.3L2200.7 923.0L2199.7 918.7L2198.7 921.8L2197.7 921.1L2196.7 919.4L2195.7 933.1L2194.7 932.8L2193.8 933.4L2192.8 910.6L2191.8 912.3L2190.8 932.1L2189.8 932.8L2188.8 931.0L2187.8 929.9L2186.8 927.6L2185.8 925.5L2184.8 926.0L2183.8 925.3L2182.8 926.1L2181.8 926.5L2180.8 910.1L2179.8 911.5L2178.9 909.7L2177.9 909.3L2176.9 917.9L2176.0 917.1L2175.1 921.4L2174.2 917.1L2173.3 916.8L2172.3 918.1L2171.3 917.8L2170.3 913.8L2169.3 914.9L2168.3 916.6L2167.3 914.0L2166.4 915.0L2165.4 915.8L2164.4 914.9L2163.4 914.2L2162.4 904.8L2161.4 905.8L2160.4 907.9L2159.4 916.2L2158.4 917.4L2157.4 921.7L2156.4 924.2L2155.4 925.0L2154.4 923.4L2153.4 922.9L2152.4 922.0L2151.4 924.0L2150.4 922.5L2149.4 922.2L2148.4 905.8L2147.4 906.0L2146.4 905.4L2145.5 902.9L2144.5 900.7L2143.5 904.5L2142.5 900.3L2141.5 903.2L2140.5 902.8L2139.5 905.6L2138.5 906.5L2137.5 923.9L2136.5 922.0L2135.5 921.9L2134.5 924.1L2133.5 923.4L2132.5 899.9L2131.5 899.6L2130.5 899.8L2129.5 900.1L2128.5 902.4L2127.5 899.1L2126.5 900.0L2125.6 900.7L2124.6 905.7L2123.6 902.2L2122.6 903.9L2121.6 919.9L2120.7 921.4L2119.8 911.2L2118.8 909.3L2117.9 905.8L2116.9 906.5L2115.9 908.3L2114.9 901.8L2113.9 902.9L2112.9 901.4L2111.9 902.1L2110.9 902.1L2109.9 905.4L2108.9 909.7L2107.9 904.4L2106.9 907.4L2105.9 908.3L2104.9 902.1L2103.9 901.6L2102.8 897.1L2101.8 909.7L2100.8 912.8L2099.8 911.3L2098.8 909.6L2097.8 910.4L2096.8 913.4L2095.8 909.5L2094.8 897.7L2093.8 894.3L2092.8 898.0L2091.8 893.2L2090.8 896.1L2089.8 893.9L2088.8 892.7L2087.8 919.6L2086.8 916.2L2085.7 918.5L2084.7 894.2L2083.7 892.5L2082.7 891.0L2081.7 905.0L2080.7 900.3L2079.8 901.5L2078.9 898.6L2078.0 896.3L2077.1 895.7L2076.1 898.2L2075.1 891.1L2074.1 890.5L2073.1 891.7L2072.0 890.0L2071.0 889.5L2070.0 892.8L2069.0 887.3L2068.0 913.1L2067.0 910.2L2066.0 908.5L2065.0 911.1L2064.0 894.4L2063.0 892.6L2062.0 907.2L2060.9 911.7L2059.9 911.4L2058.9 908.5L2057.9 903.4L2056.9 902.2L2055.9 898.3L2054.9 898.5L2053.9 905.7L2052.9 905.2L2051.9 905.0L2050.9 894.1L2049.9 893.7L2048.8 890.5L2047.8 885.2L2046.8 888.6L2045.8 884.0L2044.8 909.1L2043.8 909.3L2042.8 905.8L2041.8 908.8L2040.8 907.1L2039.8 907.0L2038.8 884.1L2037.7 883.1L2036.7 883.6L2035.7 884.4L2034.7 906.8L2033.7 902.8L2032.7 907.6L2031.7 906.2L2030.8 887.1L2029.9 885.3L2029.0 884.1L2028.1 883.4L2027.2 884.7L2026.2 883.3L2025.3 880.8L2024.4 880.4L2023.5 896.6L2022.6 893.6L2021.7 882.8L2020.8 887.0L2019.9 882.4L2018.9 879.6L2017.9 879.6L2016.9 883.3L2015.9 881.6L2014.9 884.2L2013.9 882.2L2012.9 887.2L2011.9 886.2L2010.9 887.2L2009.9 890.4L2008.9 885.1L2007.9 904.2L2006.9 902.3L2005.9 903.3L2004.9 904.4L2003.9 878.5L2002.9 876.4L2001.9 879.3L2001.0 878.9L2000.0 878.3L1999.0 882.6L1998.0 883.0L1997.0 884.9L1996.0 881.6L1995.0 898.6L1994.0 902.4L1993.0 901.8L1992.0 881.7L1991.0 879.2L1990.0 878.4L1989.0 894.5L1988.0 895.6L1987.0 894.9L1986.0 894.7L1985.0 892.2L1984.0 896.2L1983.0 898.2L1982.0 895.9L1981.0 883.1L1980.0 880.1L1979.0 886.1L1978.0 874.6L1977.0 874.9L1976.0 877.8L1975.0 875.1L1974.0 877.8L1973.0 876.5L1972.0 877.2L1971.0 879.4L1970.0 886.5L1969.1 889.7L1968.1 888.7L1967.2 879.2L1966.3 879.4L1965.4 880.0L1964.5 870.8L1963.6 869.5L1962.7 880.6L1961.8 877.7L1960.9 878.6L1960.0 878.3L1959.1 871.1L1958.2 871.5L1957.1 871.2L1956.1 870.2L1955.1 870.6L1954.1 870.6L1953.1 870.0L1952.1 870.0L1951.1 874.6L1950.1 873.9L1949.1 872.1L1948.1 866.0L1947.1 864.8L1946.1 864.7L1945.0 863.5L1944.0 862.6L1943.0 864.6L1942.0 864.2L1941.0 863.1L1940.0 862.5L1940.0 867.1L1939.0 867.2L1938.1 867.4L1937.1 862.7L1936.2 860.0L1935.2 859.1L1934.2 858.3L1933.3 857.3L1932.3 858.6L1931.3 857.3L1930.4 859.6L1929.5 867.7L1928.6 865.5L1927.5 878.6L1926.5 881.7L1925.4 877.5L1924.4 877.1L1923.4 875.3L1922.3 872.2L1921.3 860.8L1920.3 860.9L1919.2 858.8L1918.2 861.4L1917.1 858.5L1916.1 856.4L1915.1 859.3L1914.0 854.7L1913.0 854.2L1912.1 854.3L1911.1 855.6L1910.1 867.3L1909.1 864.6L1908.1 869.1L1907.1 864.8L1906.1 869.0L1905.1 867.8L1904.1 866.3L1903.1 864.3L1902.1 862.4L1901.1 863.4L1900.1 862.1L1899.1 860.8L1898.0 874.3L1897.0 869.1L1896.0 870.9L1895.0 869.5L1894.1 856.5L1893.2 857.8L1892.2 857.4L1891.3 857.2L1890.4 855.8L1889.5 856.4L1888.6 855.8L1887.3 867.9L1886.8 869.5L1885.9 869.7L1885.0 866.7L1884.1 871.0L1883.2 867.1L1882.8 850.3L1881.8 851.8L1880.8 849.9L1879.8 848.9L1878.8 849.9L1878.1 848.5L1877.4 845.9L1876.5 860.1L1875.9 859.0L1875.0 859.7L1874.1 861.2L1873.2 862.0L1872.3 861.5L1871.9 861.4L1871.5 847.2L1870.8 847.3L1869.8 849.7L1868.8 844.4L1867.8 858.5L1866.8 854.7L1865.9 856.4L1864.9 856.7L1863.9 855.0L1863.0 855.8L1862.0 857.4L1861.0 856.0L1860.0 864.1L1859.1 864.7L1858.1 862.4L1857.4 869.8L1856.5 869.4L1855.6 866.8L1854.7 861.8L1853.8 860.9L1853.2 845.3L1852.3 846.0L1851.4 848.1L1850.5 844.2L1849.6 849.4L1848.7 846.9L1847.7 846.3L1846.7 845.8L1845.6 843.9L1844.6 848.8L1843.6 847.9L1842.6 856.6L1841.6 858.4L1840.6 857.7L1839.6 859.1L1838.7 858.2L1837.8 841.6L1836.9 840.6L1836.0 843.3L1835.1 850.0L1834.1 847.8L1833.2 847.3L1832.3 841.4L1831.4 840.4L1830.5 839.5L1829.5 854.2L1828.4 852.2L1827.4 851.0L1826.4 850.7L1825.3 848.5L1824.3 848.1L1823.3 850.4L1822.3 840.6L1821.4 844.5L1820.5 842.9L1819.6 843.1L1818.7 834.8L1817.8 837.6L1816.9 837.7L1816.0 850.8L1815.1 853.2L1814.2 859.2L1813.3 857.6L1812.4 850.9L1811.4 851.6L1810.5 849.2L1809.6 849.5L1808.7 847.7L1807.8 848.4L1806.9 838.9L1806.0 840.4L1805.1 833.6L1804.2 835.0L1803.3 833.7L1802.4 833.9L1801.5 836.7L1800.6 835.0L1799.6 836.8L1798.6 838.4L1797.5 839.2L1796.4 840.7L1795.7 838.5L1794.6 839.2L1793.5 837.3L1792.4 835.1L1791.5 835.3L1790.6 837.7L1789.7 837.4L1788.8 836.6L1787.8 838.8L1786.9 839.8L1786.0 838.4L1785.1 839.7L1784.2 836.7L1783.3 831.3L1782.4 832.2L1781.5 831.1L1780.6 830.6L1780.0 837.2L1779.1 837.8L1778.2 837.4L1777.3 836.3L1776.4 837.2L1776.0 838.4L1775.1 839.5L1774.2 838.9L1773.3 839.2L1772.4 836.5L1772.0 836.5L1771.1 837.9L1770.1 836.7L1769.1 837.1L1768.4 812.6L1767.4 813.9L1766.5 814.2L1765.5 813.8L1765.1 830.2L1764.2 830.2L1763.3 829.7L1762.4 828.2L1761.2 840.9L1760.1 840.9L1759.0 839.9L1757.9 839.2L1757.0 828.3L1756.1 831.7L1755.2 830.8L1754.3 807.2L1753.3 802.4L1752.4 798.0L1751.5 793.7L1750.6 788.0L1749.2 792.5L1748.8 792.5L1747.9 792.1L1747.0 792.5L1746.1 735.3L1745.5 589.5L1744.8 589.5L1743.4 589.5L1742.5 760.2L1741.5 763.8L1740.4 763.6L1739.2 762.7L1738.8 736.7L1737.9 738.1L1737.0 736.8L1736.1 733.7L1735.2 734.3L1734.3 702.2L1733.4 701.0L1732.5 702.2L1731.4 711.1L1730.3 719.5L1729.7 719.5L1728.8 721.2L1727.9 724.4L1727.0 727.2L1726.1 729.1L1725.6 729.1L1724.5 730.4L1723.4 729.1L1722.5 731.6L1721.6 733.4L1720.7 725.4L1719.8 712.9L1718.8 705.1L1717.9 706.2L1717.0 705.6L1716.1 696.6L1715.2 688.5L1714.3 693.3L1713.4 699.4L1712.4 702.8L1711.3 706.8L1710.3 710.1L1709.2 713.0L1708.9 716.4L1707.8 716.1L1706.7 717.9L1705.7 718.5L1704.6 720.5L1703.6 719.5L1702.5 722.7L1702.1 722.7L1701.1 721.9L1700.1 720.5L1699.0 722.0L1698.0 723.3L1697.6 723.2L1696.6 722.1L1695.6 723.2L1695.2 723.5L1694.3 699.9L1693.4 561.5L1692.5 536.3L1691.6 508.8L1691.1 427.8L1689.8 427.8L1688.9 421.6L1688.0 417.0L1687.1 425.6L1686.2 431.6L1685.3 638.6L1684.3 679.5L1684.0 682.0L1682.8 683.2L1681.6 682.5L1680.7 688.6L1679.8 691.1L1678.9 687.3L1678.0 685.9L1677.1 686.8L1676.2 686.8L1675.3 685.4L1674.4 685.1L1673.5 686.6L1672.5 554.0L1671.5 552.4L1670.4 552.7L1669.3 551.8L1668.0 511.5L1667.1 488.1L1666.2 465.0L1665.3 466.8L1664.4 467.3L1663.5 460.6L1662.6 451.2L1661.7 451.0L1660.7 446.3L1659.8 439.8L1658.9 434.0L1658.0 432.1L1657.1 428.2L1656.2 421.5L1655.3 420.0L1654.4 416.6L1653.5 416.6L1652.6 413.7L1651.7 409.8L1650.8 403.5L1649.9 399.9L1648.9 399.9L1648.0 393.2L1647.1 386.7L1646.2 383.1L1645.3 378.5L1644.4 377.7L1643.5 374.9L1642.6 370.2L1641.7 366.7L1640.8 364.4L1639.9 368.0L1639.0 363.4L1638.0 363.9L1637.1 364.3L1636.2 361.8L1635.3 364.2L1634.4 362.7L1633.4 364.5L1632.3 368.6L1631.3 371.5L1630.3 369.6L1629.2 369.7L1628.2 373.0L1627.2 371.3L1626.1 372.1L1625.0 369.0L1623.9 366.7L1622.8 370.0L1621.7 367.9L1620.8 365.1L1619.9 369.9L1619.0 371.2L1618.1 370.7L1617.2 369.0L1616.3 366.9L1615.4 367.8L1614.4 368.4L1613.5 370.9L1612.6 374.7L1611.7 378.9L1610.8 375.5L1609.9 376.3L1609.0 375.3L1608.1 376.9L1607.2 375.2L1606.3 375.4L1605.4 375.2L1604.5 372.5L1603.5 374.8L1602.6 373.4L1601.7 369.6L1600.8 373.5L1599.9 372.0L1599.0 375.0L1598.1 375.0L1597.2 371.6L1596.3 371.6L1595.4 371.2L1594.5 374.6L1593.5 374.9L1592.5 372.2L1591.4 376.1L1590.4 367.1L1589.4 366.9L1588.4 366.1L1587.4 369.0L1586.4 366.9L1585.4 369.6L1584.5 369.2L1583.6 371.0L1582.7 372.0L1581.8 372.3L1580.7 367.1L1579.7 368.9L1578.6 367.2L1577.6 366.9L1576.6 368.3L1575.5 363.9L1574.5 365.8L1573.6 370.1L1572.7 365.3L1571.8 366.4L1570.9 365.8L1570.0 357.4L1569.1 359.3L1568.1 355.4L1567.2 364.9L1566.3 365.3L1565.4 363.5L1564.5 362.2L1563.6 363.9L1562.7 361.9L1561.8 357.1L1560.3 355.1L1559.6 345.8L1559.1 343.4L1558.2 337.1L1557.2 339.4L1556.0 345.4L1555.0 346.4L1554.0 351.6L1553.0 347.4L1552.0 356.5L1551.3 362.2L1550.9 361.9L1550.0 356.6L1549.1 355.3L1548.2 356.0L1547.3 357.0L1546.4 359.0L1545.4 355.7L1544.5 355.4L1543.6 353.6L1542.7 352.3L1541.8 351.6L1540.9 354.3L1540.0 349.7L1540.0 339.4L1539.0 340.9L1537.9 336.7L1536.9 337.8L1535.8 337.4L1534.9 338.4L1534.0 339.5L1533.1 342.5L1532.2 342.9L1531.1 342.3L1530.0 340.6L1528.9 337.6L1527.8 338.3L1526.7 340.9L1525.7 341.0L1524.6 339.0L1523.5 336.4L1522.4 334.5L1521.3 332.5L1520.4 334.7L1519.5 336.1L1518.4 333.4L1517.3 330.7L1516.2 324.3L1515.1 325.3L1514.0 323.6L1512.9 324.8L1511.9 324.6L1510.8 329.6L1509.7 324.2L1508.6 326.2L1508.0 330.7L1507.0 328.3L1506.0 331.3L1505.0 326.6L1504.0 326.0L1503.1 319.2L1502.2 323.6L1501.3 318.9L1500.4 318.7L1499.5 318.7L1498.6 314.0L1497.7 314.5L1496.8 312.6L1495.9 311.2L1495.0 311.2L1494.1 307.1L1493.2 303.6L1492.2 295.4L1491.2 295.9L1490.2 294.3L1489.1 293.5L1488.1 292.6L1487.1 296.0L1486.0 296.9L1485.0 298.4L1484.0 300.7L1483.0 294.5L1482.0 295.1L1481.0 293.1L1480.0 290.8L1479.0 288.6L1478.1 290.3L1477.1 289.5L1476.1 293.1L1475.1 294.8L1474.1 295.0L1473.2 291.6L1472.3 295.7L1471.4 295.1L1470.5 293.2L1469.6 290.2L1468.6 289.6L1467.7 284.1L1466.8 284.9L1465.8 283.2L1464.8 281.1L1463.7 280.3L1462.7 278.2L1461.6 280.8L1460.6 277.7L1459.6 277.5L1458.6 279.9L1457.6 276.7L1456.6 274.7L1455.6 276.9L1455.0 306.5L1454.1 304.1L1453.2 308.5L1452.3 307.1L1451.4 315.4L1450.5 325.1L1449.6 344.5L1448.7 347.5L1447.8 349.0L1446.9 355.1L1445.9 417.9L1445.0 430.6L1444.1 438.6L1442.9 443.0L1441.8 512.1L1441.0 550.5L1439.6 550.1L1438.7 547.7L1437.8 570.6L1436.9 592.3L1436.0 613.1L1434.5 611.9L1433.8 624.8L1432.3 622.3L1432.0 621.6L1431.0 623.9L1430.0 623.0L1429.1 548.9L1428.2 548.5L1427.2 550.4L1426.3 389.3L1426.0 390.7L1425.1 386.4L1424.2 379.4L1423.3 375.2L1422.3 375.0L1421.4 375.7L1420.5 500.1L1419.1 530.8L1418.7 531.8L1417.8 528.3L1416.9 533.2L1416.0 533.1L1415.1 532.8L1414.2 531.1L1413.3 533.2L1412.4 578.6L1411.4 579.5L1410.5 574.7L1409.6 579.5L1408.7 579.3L1407.7 581.8L1406.7 583.1L1405.7 585.4L1404.7 585.8L1403.6 588.0L1403.3 588.7L1402.3 588.6L1401.3 590.9L1400.3 593.5L1399.3 594.2L1398.7 593.4L1397.8 593.2L1396.9 594.4L1396.0 591.0L1395.1 588.2L1394.2 592.0L1393.3 592.2L1392.4 612.6L1391.5 615.0L1390.6 614.3L1389.7 613.9L1388.8 627.1L1387.8 636.1L1386.9 647.0L1386.0 647.7L1385.1 647.6L1384.2 658.4L1383.3 671.8L1382.4 682.3L1382.0 681.6L1381.1 682.8L1380.1 683.4L1379.1 681.6L1378.8 686.1L1377.7 686.3L1376.6 686.9L1375.5 685.5L1375.1 662.5L1374.2 665.1L1373.3 664.9L1372.4 662.2L1371.5 658.8L1370.6 659.2L1370.2 659.1L1369.2 677.1L1368.1 694.0L1367.1 710.3L1366.1 727.6L1365.7 728.3L1364.6 717.5L1363.5 709.0L1362.4 698.3L1361.9 697.9L1360.9 697.1L1359.9 698.3L1358.9 692.7L1357.9 692.9L1357.0 692.6L1355.5 691.0L1355.2 692.5L1354.3 694.7L1353.3 697.3L1352.4 698.4L1351.5 697.5L1350.6 699.2L1350.1 725.6L1349.2 721.7L1348.8 723.3L1347.9 730.0L1347.0 735.0L1346.1 739.2L1345.2 734.6L1344.1 741.9L1343.1 745.1L1342.1 754.5L1341.2 754.4L1339.7 752.4L1338.8 746.2L1337.9 739.9L1337.0 737.3L1335.8 738.6L1334.6 737.7L1333.9 733.1L1332.8 726.5L1331.8 736.1L1330.8 746.0L1329.8 759.0L1328.8 765.5L1328.1 765.1L1327.0 766.2L1326.1 768.5L1325.2 767.7L1324.3 761.4L1323.4 756.2L1322.5 753.0L1322.1 750.3L1321.0 750.3L1320.0 745.7L1319.0 734.5L1318.0 727.6L1317.0 726.4L1316.1 726.0L1315.2 759.4L1314.3 752.3L1313.4 755.1L1312.5 756.1L1311.6 759.9L1310.7 758.3L1309.2 759.8L1308.5 761.2L1307.5 764.6L1306.6 766.1L1305.6 771.2L1304.9 770.8L1304.0 770.5L1302.9 758.5L1302.0 747.0L1301.1 737.4L1300.1 728.3L1299.2 724.4L1298.5 723.7L1298.0 474.7L1297.0 536.9L1296.0 599.7L1295.0 658.9L1294.0 723.8L1293.4 731.7L1292.5 739.0L1291.6 740.3L1290.7 743.0L1289.8 748.1L1288.9 750.0L1288.0 752.1L1287.0 752.8L1286.0 754.9L1285.0 752.1L1284.0 752.0L1283.4 752.7L1283.1 751.1L1281.9 749.5L1280.7 747.9L1279.8 749.2L1278.9 747.8L1278.0 747.5L1277.1 749.0L1276.2 750.8L1275.3 750.3L1274.4 750.8L1273.5 752.8L1272.5 756.8L1271.6 757.7L1270.7 754.3L1269.8 759.5L1268.6 760.2L1267.5 756.1L1266.6 772.7L1265.8 771.5L1264.9 774.7L1263.9 781.4L1263.0 782.5L1262.0 784.6L1261.3 785.4L1260.2 788.5L1258.9 771.8L1258.0 770.4L1257.1 766.6L1256.2 768.9L1255.3 768.4L1254.4 767.5L1253.8 767.0L1252.8 771.6L1251.8 772.6L1250.8 771.1L1249.9 774.2L1248.9 787.7L1247.9 787.2L1246.9 789.2L1245.9 787.7L1244.9 791.9L1243.9 752.8L1242.8 746.8L1241.7 743.0L1241.3 649.4L1240.2 678.4L1239.1 712.3L1238.0 741.8L1237.1 779.8L1236.2 777.9L1235.3 782.3L1234.4 781.1L1233.5 779.8L1232.6 779.3L1231.7 791.3L1230.8 789.9L1229.9 791.2L1229.0 786.2L1228.1 789.1L1227.2 788.1L1226.2 769.6L1225.3 758.7L1224.4 760.1L1223.5 761.7L1222.6 761.8L1221.7 766.4L1220.8 768.5L1219.5 768.2L1219.0 771.0L1218.0 768.9L1217.0 773.6L1216.0 774.7L1215.0 776.1L1214.1 776.0L1213.5 777.7L1212.6 780.3L1211.7 775.1L1210.8 772.5L1209.9 767.7L1209.0 770.8L1208.1 775.9L1207.2 775.9L1206.1 782.8L1205.0 768.9L1203.9 775.0L1202.8 780.9L1201.7 767.4L1200.8 766.8L1199.9 775.1L1199.0 760.5L1198.1 757.7L1197.2 766.0L1196.3 761.0L1195.4 764.7L1194.5 762.7L1193.6 750.3L1192.7 751.0L1192.1 739.7L1191.1 744.4L1190.1 739.6L1189.1 742.8L1188.1 739.9L1187.6 738.9L1186.3 737.8L1185.4 745.9L1184.5 742.5L1183.6 743.8L1182.7 750.4L1181.8 749.1L1180.9 753.1L1179.9 756.4L1179.0 758.2L1178.1 757.4L1177.2 759.4L1176.3 761.7L1175.4 750.7L1174.3 754.2L1173.2 747.7L1172.1 751.1L1171.8 752.0L1170.9 748.5L1170.0 749.3L1169.1 749.3L1168.1 751.3L1167.1 752.7L1166.1 755.2L1165.1 758.3L1164.1 762.9L1163.6 761.0L1162.7 757.4L1161.8 760.2L1160.9 761.9L1160.0 765.0L1159.1 765.2L1158.2 760.8L1157.2 765.3L1156.3 760.3L1155.4 765.8L1154.5 767.1L1153.6 768.9L1152.3 789.3L1151.8 791.3L1150.8 787.1L1149.9 788.8L1148.9 791.4L1148.0 797.1L1147.3 788.8L1146.4 790.0L1145.4 788.4L1144.5 784.9L1143.6 784.3L1142.7 776.0L1141.8 771.0L1140.9 782.2L1140.0 774.6L1140.0 747.7L1138.5 756.0L1137.6 766.5L1136.7 762.9L1135.8 755.9L1134.9 758.9L1134.0 766.4L1133.1 772.7L1132.2 749.5L1131.3 734.2L1130.7 697.0L1129.6 700.9L1128.4 708.9L1127.3 714.3L1126.4 745.8L1125.3 770.4L1124.0 769.6L1123.1 775.3L1122.2 788.2L1121.3 786.5L1120.4 790.4L1119.5 780.1L1118.6 779.5L1117.7 788.7L1116.6 796.0L1115.5 790.5L1114.5 797.0L1113.4 796.1L1112.4 779.7L1111.3 787.8L1110.4 794.7L1109.5 799.8L1108.6 787.0L1107.7 798.1L1106.8 790.8L1105.9 800.8L1104.6 791.9L1104.0 754.7L1103.1 756.0L1102.2 762.7L1101.3 754.7L1100.4 785.4L1099.5 778.2L1098.6 781.8L1097.7 781.0L1096.8 779.9L1095.9 791.5L1095.0 788.8L1094.1 791.1L1093.2 787.2L1092.2 791.0L1091.3 788.6L1090.4 789.0L1089.5 801.0L1088.6 795.6L1087.7 793.3L1086.8 773.4L1085.9 749.2L1084.6 688.8L1083.7 658.6L1082.8 630.5L1081.9 605.0L1081.0 589.7L1080.1 558.4L1078.8 719.5L1078.1 747.5L1076.8 778.4L1075.9 778.4L1075.0 780.8L1074.1 786.7L1073.2 791.5L1072.3 804.6L1071.4 808.0L1070.5 814.7L1069.4 805.1L1068.3 808.8L1067.2 804.4L1066.1 807.5L1065.0 806.2L1063.9 810.3L1062.8 797.8L1061.7 798.6L1060.7 792.3L1059.6 791.8L1058.5 783.0L1057.4 776.4L1055.9 715.4L1055.0 679.6L1054.1 643.0L1053.2 503.0L1052.2 494.2L1051.2 486.0L1050.1 469.5L1048.7 679.3L1047.8 752.0L1046.9 794.2L1045.9 796.9L1045.0 796.0L1044.1 796.2L1042.9 799.9L1042.0 796.1L1041.0 793.4L1040.1 790.3L1039.2 790.2L1038.7 788.3L1037.8 788.9L1036.9 792.8L1036.0 789.7L1035.1 793.7L1034.1 791.9L1033.2 793.6L1032.3 795.7L1031.4 798.5L1030.5 801.2L1029.6 805.6L1028.7 812.3L1027.8 817.0L1026.9 820.4L1026.0 825.1L1025.0 818.8L1024.0 813.4L1023.0 803.3L1022.0 799.4L1021.1 798.7L1019.9 789.5L1018.7 786.3L1017.8 712.3L1016.4 649.8L1015.3 549.1L1014.2 449.6L1012.7 347.3L1011.4 501.6L1010.2 710.8L1009.3 727.9L1008.4 747.1L1007.3 784.7L1006.2 785.4L1005.2 785.8L1004.2 784.7L1003.3 784.8L1002.2 770.2L1001.1 757.7L1000.0 746.7L998.7 784.6L997.8 805.5L996.9 805.9L996.0 805.5L995.1 809.6L994.2 813.1L993.3 816.8L992.4 818.1L991.3 822.6L990.2 830.2L989.3 830.1L988.4 829.2L987.8 829.2L986.9 824.7L986.0 819.1L985.1 812.2L984.2 810.5L983.3 810.5L982.4 809.3L981.5 809.4L980.6 809.0L980.0 736.4L979.1 735.9L978.2 733.0L977.3 735.7L976.4 734.9L976.0 734.9L975.0 703.5L974.0 673.7L973.0 642.8L972.0 611.5L971.0 675.4L970.2 729.9L969.1 784.4L967.9 794.6L967.0 797.5L966.1 797.3L965.1 802.0L964.2 802.4L963.3 804.5L962.4 804.9L961.2 805.8L960.6 805.8L959.7 803.1L958.8 803.6L957.9 803.4L957.0 801.1L956.4 803.9L955.4 801.9L954.4 804.3L953.3 803.9L952.4 806.6L951.3 803.8L950.3 803.3L949.2 807.7L948.4 805.0L947.9 768.7L946.9 755.7L945.8 740.9L944.8 728.5L943.7 713.1L943.0 802.1L941.5 802.1L940.6 807.1L939.7 817.4L938.8 825.6L937.9 825.7L937.0 825.9L936.1 826.9L935.7 798.7L934.8 766.0L933.9 736.7L933.0 707.0L932.1 674.6L931.6 775.3L930.4 776.1L929.2 775.3L928.5 775.3L927.0 775.3L926.1 764.6L925.2 764.6L924.2 763.1L923.1 763.6L922.1 764.4L921.6 764.4L920.7 711.7L919.4 711.7L918.8 498.5L917.9 498.5L916.5 497.4L915.8 191.1L914.9 192.9L913.9 192.4L913.0 191.5L912.5 356.2L911.4 472.5L910.3 585.3L909.2 631.1L908.5 631.1L907.0 702.0L905.6 766.0L904.3 802.9L903.4 806.2L902.5 810.2L901.6 811.5L900.7 810.8L899.8 814.2L898.9 813.5L898.0 816.7L896.9 819.3L895.9 821.0L894.9 825.0L893.8 822.9L892.8 824.4L891.7 824.2L890.7 825.4L889.7 825.2L888.6 824.5L887.6 823.3L886.6 824.2L885.5 824.9L884.5 828.5L883.4 826.5L882.2 828.4L881.6 828.3L880.5 830.5L879.4 832.9L878.4 835.6L878.0 835.6L877.1 834.4L876.2 838.0L875.3 836.9L874.4 832.9L873.5 828.5L872.5 823.9L871.6 820.6L870.7 815.8L869.5 794.0L868.9 773.8L868.0 756.6L867.1 736.3L866.2 719.4L865.3 586.8L864.9 586.8L863.5 586.8L862.0 488.8L861.3 488.4L860.7 488.4L859.8 472.0L858.9 458.0L858.0 474.9L857.1 494.3L856.2 494.3L855.3 552.2L854.4 608.1L854.0 608.1L852.9 618.2L852.6 618.2L851.1 619.9L850.0 660.5L848.9 702.1L848.0 702.1L847.1 775.9L846.2 780.4L845.3 787.3L844.4 794.1L843.5 798.2L842.6 800.5L841.7 802.5L840.8 805.6L839.9 801.4L839.0 803.0L838.0 799.7L837.1 798.7L836.2 798.5L835.3 792.6L834.4 784.9L833.5 780.4L832.2 748.7L831.3 712.4L830.4 668.8L829.3 543.9L828.6 356.9L827.7 420.1L826.7 482.5L825.7 549.5L824.8 612.3L824.1 676.3L823.2 699.6L822.1 754.1L821.2 765.0L820.3 764.0L819.5 766.0L818.4 780.5L817.4 782.3L816.4 781.4L815.4 782.2L814.4 783.0L813.5 807.5L812.6 807.5L811.7 806.3L810.8 805.8L809.9 808.0L809.0 807.8L808.1 806.2L807.5 806.2L806.8 794.4L805.4 795.8L804.5 737.8L803.5 677.8L802.3 577.5L801.7 575.7L800.7 600.6L799.7 625.0L798.7 650.1L797.7 674.1L796.8 681.4L796.3 689.6L795.3 687.7L794.3 689.2L793.3 688.3L792.3 689.4L791.7 690.0L790.9 690.0L790.1 691.7L789.2 690.0L788.7 554.3L787.7 584.4L786.7 612.6L785.7 639.5L784.7 665.9L784.1 693.1L783.2 758.5L782.7 764.8L781.7 763.7L780.7 763.3L779.8 766.7L778.8 764.7L777.9 766.3L776.9 767.7L775.9 767.9L775.0 766.3L774.0 764.1L773.0 765.0L772.3 765.0L771.8 765.0L770.8 765.8L769.8 762.3L768.8 756.9L767.8 754.5L767.2 754.5L766.3 754.6L765.4 754.6L764.5 753.9L763.1 715.7L762.5 715.7L761.7 715.7L760.8 717.0L760.0 716.0L759.1 689.7L758.2 659.4L757.2 319.5L756.1 319.2L754.9 319.9L754.2 428.9L753.0 429.3L751.8 428.9L751.3 428.9L750.9 429.6L749.4 429.6L749.1 320.7L747.6 320.7L747.3 345.8L746.4 344.1L745.4 345.8L744.5 344.4L743.6 349.0L742.7 347.4L742.2 332.0L741.1 330.5L740.0 330.5L739.1 345.3L738.2 358.0L737.3 374.0Z"/>
<path fill="#000" stroke="none" d="M1553 26L1559.8 26L1560 116L1561 160L1562 278L1558.5 278L1557 116L1553 116Z"/>
<path fill="none" stroke="#f00" d="M351.3 539.7L352.1 533.2L352.9 539.7L353.7 527.1L354.5 528.8L355.3 523.2L356.1 500.2L356.8 497.5L357.6 483.4L358.3 499.1L359.1 519.7L360.0 528.6L360.9 519.5L361.8 525.2L362.7 524.7L363.6 508.7L364.5 512.5L365.4 519.3L366.3 509.0L367.2 517.9L368.1 521.2L369.1 508.3L370.0 512.5L370.9 504.8L371.8 490.7L372.7 490.2L373.6 501.6L374.5 510.0L375.4 498.7L376.3 505.2L377.2 509.0L378.1 493.6L379.0 497.0L379.9 499.2L380.9 489.2L381.8 495.2L382.7 503.6L383.6 496.6L384.5 503.4L385.4 502.9L386.3 490.1L387.2 494.3L388.1 500.6L389.0 490.3L389.9 497.9L390.7 500.7L391.5 482.5L392.3 484.3L393.0 497.0L393.7 490.0L394.5 499.8L395.2 507.9L395.9 497.3L396.7 503.4L397.4 504.4L398.2 482.7L399.0 483.4L399.9 480.5L400.8 471.6L401.7 468.1L402.6 474.6L403.5 470.7L404.5 465.3L405.4 480.4L406.3 478.0L407.2 467.2L408.1 472.4L409.0 463.4L409.9 459.4L410.8 470.4L411.7 467.1L412.6 458.8L413.5 464.9L414.4 455.3L415.4 452.3L416.3 468.2L417.2 463.4L418.1 455.4L419.0 467.4L419.9 458.0L420.8 441.7L421.7 439.8L422.6 442.3L423.5 428.9L424.4 431.0L425.3 445.3L426.2 447.7L427.2 443.5L428.1 435.6L429.0 449.9L429.9 434.0L430.8 440.7L431.7 447.5L432.6 436.6L433.5 447.7L434.4 445.3L435.2 436.6L436.1 447.7L436.9 436.5L437.7 438.9L439.0 458.0L440.2 483.4L441.0 490.0L441.8 494.2L442.6 501.6L443.5 507.9L444.4 510.7L445.3 516.1L446.1 519.4L446.9 519.3L447.6 522.8L448.4 524.3L449.2 521.9L450.0 522.3L450.8 518.1L451.7 517.9L452.6 513.0L453.5 505.9L454.4 501.6L455.3 496.0L456.2 488.3L457.1 483.4L458.0 471.5L458.9 458.0L460.2 428.9L461.1 414.1L462.0 409.0L462.8 419.1L463.6 405.5L464.4 412.6L465.3 419.8L466.2 404.3L467.1 407.2L468.0 411.9L468.9 403.7L469.8 411.7L470.7 410.1L471.6 398.7L472.5 398.1L473.5 404.9L474.4 394.6L475.3 402.6L476.2 402.7L477.1 392.4L478.0 391.7L478.9 401.7L479.8 390.7L480.7 397.2L481.6 401.7L482.5 380.3L483.4 384.5L484.3 391.4L485.3 382.5L486.2 389.9L487.1 397.7L488.0 393.5L488.9 366.8L489.8 353.6L491.1 396.3L491.9 395.4L492.6 375.5L493.4 374.5L494.3 380.2L495.2 364.0L496.2 371.7L496.9 379.8L497.6 370.6L498.3 378.1L499.1 396.9L499.8 407.2L500.7 421.0L501.6 436.2L502.5 449.7L503.4 461.6L504.1 467.4L504.9 477.1L505.6 483.4L506.4 489.0L507.2 497.2L508.0 503.4L508.9 509.3L509.8 517.0L510.7 508.5L511.6 497.9L512.5 410.8L513.4 381.7L514.3 465.3L515.2 392.6L516.5 494.3L517.6 410.8L518.8 350.9L519.8 357.7L520.7 365.4L521.6 356.5L522.5 345.4L523.7 379.9L524.5 394.2L525.2 410.8L525.9 434.9L526.7 458.0L527.6 475.0L528.5 494.3L529.2 503.7L529.9 510.1L530.6 519.7L531.6 526.4L532.5 531.5L533.2 506.3L533.9 483.4L535.2 432.6L536.1 414.4L536.8 471.0L537.5 525.2L538.8 447.1L539.7 441.2L540.6 436.2L541.9 392.6L542.6 367.7L543.4 341.8L544.3 332.1L545.2 334.4L546.0 347.7L546.8 327.0L547.7 342.0L548.5 323.0L549.4 339.9L550.2 324.5L551.0 339.1L551.9 323.7L552.7 341.2L553.5 323.6L554.4 338.3L555.2 318.3L556.0 334.2L556.9 319.6L557.7 340.4L558.5 321.4L559.4 334.6L560.2 315.8L561.0 334.1L561.9 321.1L562.7 335.3L563.5 315.4L564.4 331.3L565.2 318.3L566.1 325.3L567.0 349.6L567.9 365.4L569.1 418.0L569.9 385.4L570.6 356.3L571.4 386.6L572.2 412.6L573.0 443.5L573.8 405.3L574.6 365.4L575.3 390.6L576.0 418.0L576.9 338.2L578.2 296.3L578.9 296.0L579.7 292.7L580.6 302.6L581.5 316.3L582.4 304.3L583.3 289.9L584.2 294.0L585.1 299.9L585.8 343.4L586.6 385.3L587.3 413.0L588.1 444.3L588.9 470.8L589.7 501.6L590.4 521.5L591.2 537.0L592.0 556.0L592.7 532.8L593.5 505.9L594.2 483.4L595.0 451.9L595.8 415.7L596.6 384.5L597.8 483.4L598.6 508.1L599.3 529.8L600.0 554.2L600.7 519.8L601.5 483.4L602.2 418.2L602.9 356.3L603.8 270.0L604.6 337.7L605.5 403.4L606.2 356.9L606.9 312.6L608.0 399.8L608.8 331.1L609.6 260.0L610.9 258.2L611.6 278.8L612.4 301.7L613.3 283.8L614.2 263.6L615.1 279.0L616.0 298.1L616.9 283.5L617.8 267.2L618.7 264.8L619.6 263.6L620.3 281.0L621.1 294.5L622.3 374.5L623.3 418.0L624.2 465.3L625.1 491.4L626.0 512.5L626.9 537.9L627.8 559.0L628.7 576.3L629.6 583.5L630.5 594.5L631.2 548.9L632.0 501.6L632.9 325.4L634.1 501.6L635.1 625.3L636.3 480.7L637.0 552.3L637.8 627.2L638.5 555.7L639.2 480.7L640.5 627.2L641.4 609.3L642.3 594.5L643.6 540.0L644.3 485.8L645.0 428.9L645.9 343.3L646.9 259.7L647.8 318.1L648.7 374.5L649.6 418.9L650.5 465.3L651.4 496.9L652.3 525.8L653.2 558.2L654.0 579.7L654.8 597.6L655.6 619.9L656.3 606.0L657.0 589.0L657.7 576.3L658.7 558.7L659.6 537.9L660.5 499.7L661.4 467.1L662.3 428.9L663.2 402.9L664.1 381.9L665.0 356.3L665.9 232.4L666.8 261.8L667.7 292.4L668.6 263.1L669.6 230.6L670.5 256.1L671.4 283.3L672.3 254.3L673.2 223.4L674.1 266.3L675.0 312.3L675.9 271.9L676.8 228.8L677.7 250.3L678.6 274.2L679.5 253.9L680.4 229.7L681.4 236.9L682.3 247.0L683.2 356.3L684.1 447.1L685.0 472.4L685.9 494.6L686.8 519.7L687.7 539.8L688.6 555.0L689.5 574.5L690.4 557.9L691.3 536.9L692.2 519.7L693.2 475.2L694.1 428.9L694.8 382.2L695.5 338.2L696.4 220.6L697.1 222.4L697.9 219.8L698.6 220.6L699.5 221.0L700.4 217.9L701.3 356.3L702.2 408.9L703.1 465.3L704.0 503.3L705.0 537.9L705.9 571.7L706.8 609.0L707.7 585.9L708.6 560.1L709.5 537.9L710.8 432.6L711.7 212.5L712.4 295.3L713.1 374.5L714.0 374.5L714.9 483.8L715.9 594.5L716.8 530.8L717.7 465.3L718.6 322.2L719.5 181.1L720.4 315.4L721.3 447.1L722.0 500.4L722.8 556.0L724.0 678.0L725.3 556.0L726.0 435.3L726.7 312.0L727.7 648.9L728.6 652.1L729.5 659.2L730.4 663.5L731.3 563.7L732.2 465.3L733.1 435.8L734.0 404.0L734.9 374.5L735.8 286.9L736.7 197.9"/>
<path fill="#f00" stroke="none" d="M737.3 197.9L738.2 201.4L739.1 201.7L740.0 203.4L741.1 203.7L742.2 201.6L742.7 201.6L743.6 202.2L744.5 197.7L745.4 199.0L746.4 197.3L747.3 195.2L747.6 195.2L749.1 195.2L749.4 195.2L750.9 201.6L751.3 227.0L751.8 201.6L753.0 196.0L754.2 192.5L754.9 192.5L756.1 188.6L757.2 188.0L758.2 190.7L759.1 193.5L760.0 192.5L760.8 193.1L761.7 191.6L762.5 192.5L763.1 665.4L764.5 665.4L765.4 666.9L766.3 665.5L767.2 665.4L767.8 511.0L768.8 511.9L769.8 509.7L770.8 509.7L771.8 511.0L772.3 638.2L773.0 747.1L774.0 748.9L775.0 746.7L775.9 748.9L776.9 746.4L777.9 748.6L778.8 747.1L779.8 746.1L780.7 748.8L781.7 748.9L782.7 747.1L783.2 661.8L784.1 620.0L784.7 164.3L785.7 164.5L786.7 164.6L787.7 164.1L788.7 164.3L789.2 172.5L790.1 203.3L790.9 232.0L791.7 261.5L792.3 501.6L793.3 548.0L794.3 592.5L795.3 637.9L796.3 681.7L796.8 358.1L797.7 163.4L798.7 164.2L799.7 164.8L800.7 164.9L801.7 163.4L802.3 187.0L803.5 196.1L804.5 197.3L805.4 196.1L806.8 197.0L807.5 392.6L808.1 477.1L809.0 475.2L809.9 478.8L810.8 476.6L811.7 477.1L812.6 527.0L813.5 674.5L814.4 681.7L815.4 680.4L816.4 679.0L817.4 677.0L818.4 674.5L819.5 661.8L820.3 505.4L821.2 347.2L822.1 292.4L823.2 290.5L824.1 170.7L824.8 139.3L825.7 140.3L826.7 139.5L827.7 137.6L828.6 139.3L829.3 149.3L830.4 149.3L831.3 385.4L832.2 656.3L833.5 710.8L834.4 721.0L835.3 733.1L836.2 747.1L837.1 756.3L838.0 762.8L839.0 767.1L839.9 776.1L840.8 783.4L841.7 780.2L842.6 775.5L843.5 769.8L844.4 765.3L845.3 748.3L846.2 729.7L847.1 710.8L848.0 570.6L848.9 212.1L850.0 213.3L851.1 212.1L852.6 212.1L852.9 274.2L854.0 274.2L854.4 152.2L855.3 152.8L856.2 152.2L857.1 150.4L858.0 150.0L858.9 150.4L859.8 149.3L860.7 150.4L861.3 162.0L862.0 212.8L863.5 212.8L864.9 212.8L865.3 145.3L866.2 145.3L867.1 143.5L868.0 146.0L868.9 145.3L869.5 547.0L870.7 692.6L871.6 715.4L872.5 733.4L873.5 756.2L874.4 768.5L875.3 779.8L876.2 792.5L877.1 794.4L878.0 792.5L878.4 663.6L879.4 662.4L880.5 664.9L881.6 663.6L882.2 728.9L883.4 801.6L884.5 801.4L885.5 802.5L886.6 803.6L887.6 801.9L888.6 801.3L889.7 804.6L890.7 803.4L891.7 801.8L892.8 801.6L893.8 799.3L894.9 799.9L895.9 795.6L896.9 795.8L898.0 794.3L898.9 790.8L899.8 783.2L900.7 779.6L901.6 774.3L902.5 768.9L903.4 739.5L904.3 710.8L905.6 638.2L907.0 574.2L908.5 421.7L909.2 193.4L910.3 134.0L911.4 134.5L912.5 134.0L913.0 134.0L913.9 135.2L914.9 134.6L915.8 134.0L916.5 143.5L917.9 153.5L918.8 184.3L919.4 243.3L920.7 329.1L921.6 320.0L922.1 310.5L923.1 310.3L924.2 312.4L925.2 310.5L926.1 323.6L927.0 352.7L928.5 352.7L929.2 352.3L930.4 352.9L931.6 352.3L932.1 331.3L933.0 332.6L933.9 329.8L934.8 333.1L935.7 331.3L936.1 737.1L937.0 735.2L937.9 735.3L938.8 737.1L939.7 738.4L940.6 736.0L941.5 737.1L943.0 638.2L943.7 151.1L944.8 152.7L945.8 151.6L946.9 149.9L947.9 151.1L948.4 410.8L949.2 747.1L950.3 748.7L951.3 748.5L952.4 747.1L953.3 584.2L954.4 582.6L955.4 583.3L956.4 584.2L957.0 438.0L957.9 437.9L958.8 437.6L959.7 437.9L960.6 438.0L961.2 501.6L962.4 728.9L963.3 739.2L964.2 752.1L965.1 765.3L966.1 754.9L967.0 741.8L967.9 728.9L969.1 620.0L970.2 365.4L971.0 149.3L972.0 89.0L973.0 89.4L974.0 88.2L975.0 89.3L976.0 89.0L976.4 394.8L977.3 394.4L978.2 393.9L979.1 393.4L980.0 394.8L980.6 561.5L981.5 560.8L982.4 561.4L983.3 561.5L984.2 553.0L985.1 554.6L986.0 551.7L986.9 551.2L987.8 553.0L988.4 674.5L989.3 721.7L990.2 765.3L991.3 765.6L992.4 765.3L993.3 759.5L994.2 757.0L995.1 752.0L996.0 747.1L996.9 701.9L997.8 656.3L998.7 501.6L1000.0 274.2L1001.1 275.8L1002.2 274.7L1003.3 274.2L1004.2 554.2L1005.2 553.0L1006.2 554.7L1007.3 554.2L1008.4 390.8L1009.3 295.8L1010.2 199.8L1011.4 154.4L1012.7 126.2L1014.2 126.2L1015.3 127.7L1016.4 127.1L1017.8 497.9L1018.7 656.3L1019.9 683.4L1021.1 707.2L1022.0 592.9L1023.0 592.0L1024.0 592.7L1025.0 590.9L1026.0 592.9L1026.9 756.2L1027.8 755.7L1028.7 757.0L1029.6 759.8L1030.5 761.2L1031.4 763.5L1032.3 765.3L1033.2 751.6L1034.1 739.9L1035.1 725.1L1036.0 710.8L1036.9 700.5L1037.8 688.0L1038.7 674.5L1039.2 556.9L1040.1 555.1L1041.0 555.8L1042.0 558.5L1042.9 556.9L1044.1 638.2L1045.0 652.4L1045.9 670.0L1046.9 683.5L1047.8 501.6L1048.7 198.8L1050.1 124.9L1051.2 125.7L1052.2 126.5L1053.2 124.9L1054.1 134.4L1055.0 315.2L1055.9 497.9L1057.4 674.5L1058.5 703.6L1059.6 728.9L1060.7 735.6L1061.7 741.3L1062.8 748.5L1063.9 751.9L1065.0 759.8L1066.1 759.0L1067.2 759.4L1068.3 758.0L1069.4 760.4L1070.5 759.8L1071.4 751.2L1072.3 740.1L1073.2 730.6L1074.1 721.7L1075.0 722.4L1075.9 718.6L1076.8 719.9L1078.1 620.0L1078.8 276.0L1080.1 124.0L1081.0 123.3L1081.9 123.0L1082.8 123.4L1083.7 124.0L1084.6 324.5L1085.9 630.9L1086.8 649.6L1087.7 665.4L1088.6 685.6L1089.5 704.4L1090.4 725.6L1091.3 743.5L1092.2 744.5L1093.2 742.2L1094.1 740.2L1095.0 741.5L1095.9 739.8L1096.8 738.2L1097.7 735.9L1098.6 732.6L1099.5 536.5L1100.4 343.6L1101.3 286.0L1102.2 285.6L1103.1 286.5L1104.0 286.0L1104.6 563.3L1105.9 725.3L1106.8 725.7L1107.7 723.4L1108.6 724.6L1109.5 725.3L1110.4 733.9L1111.3 745.3L1112.4 743.9L1113.4 743.2L1114.5 745.8L1115.5 744.5L1116.6 742.8L1117.7 743.5L1118.6 737.9L1119.5 730.1L1120.4 721.7L1121.3 720.9L1122.2 723.0L1123.1 720.0L1124.0 721.7L1125.3 692.6L1126.4 365.4L1127.3 235.2L1128.4 237.1L1129.6 236.5L1130.7 235.2L1131.3 343.6L1132.2 518.5L1133.1 690.8L1134.0 691.5L1134.9 693.4L1135.8 691.1L1136.7 690.7L1137.6 692.6L1138.5 193.9L1140.0 193.9L1140.0 193.9L1140.9 193.5L1141.8 192.9L1142.7 195.6L1143.6 193.9L1144.5 714.4L1145.4 714.6L1146.4 713.1L1147.3 714.4L1148.0 622.7L1148.9 621.6L1149.9 622.3L1150.8 624.4L1151.8 622.7L1152.3 696.3L1153.6 696.3L1154.5 704.6L1155.4 715.5L1156.3 723.5L1157.2 725.9L1158.2 730.8L1159.1 726.2L1160.0 723.6L1160.9 718.0L1161.8 707.1L1162.7 692.6L1163.6 634.5L1164.1 213.0L1165.1 213.0L1166.1 213.0L1167.1 212.2L1168.1 213.0L1169.1 356.3L1170.0 357.4L1170.9 356.9L1171.8 356.3L1172.1 288.2L1173.2 288.8L1174.3 293.8L1175.4 295.1L1176.3 588.7L1177.2 710.8L1178.1 720.9L1179.0 734.4L1179.9 735.4L1180.9 732.7L1181.8 734.4L1182.7 729.2L1183.6 724.2L1184.5 721.7L1185.4 678.2L1186.3 638.2L1187.6 387.2L1188.1 188.0L1189.1 187.0L1190.1 189.6L1191.1 187.5L1192.1 188.0L1192.7 392.6L1193.6 710.8L1194.5 728.9L1195.4 730.8L1196.3 731.7L1197.2 730.2L1198.1 732.6L1199.0 735.8L1199.9 735.2L1200.8 737.5L1201.7 738.0L1202.8 736.9L1203.9 736.8L1205.0 736.8L1206.1 736.9L1207.2 734.4L1208.1 731.1L1209.0 730.9L1209.9 727.1L1210.8 720.3L1211.7 714.7L1212.6 710.8L1213.5 619.6L1214.1 477.1L1215.0 443.1L1216.0 441.2L1217.0 444.9L1218.0 441.2L1219.0 443.1L1219.5 674.5L1220.8 710.8L1221.7 710.3L1222.6 708.3L1223.5 709.6L1224.4 709.1L1225.3 707.2L1226.2 638.2L1227.2 537.9L1228.1 539.9L1229.0 539.4L1229.9 539.0L1230.8 537.9L1231.7 630.9L1232.6 710.8L1233.5 711.4L1234.4 709.1L1235.3 711.5L1236.2 710.8L1237.1 407.2L1238.0 340.0L1239.1 338.0L1240.2 341.5L1241.3 340.0L1241.7 376.3L1242.8 383.7L1243.9 388.1L1244.9 587.8L1245.9 586.2L1246.9 587.7L1247.9 589.6L1248.9 587.8L1249.9 511.0L1250.8 509.1L1251.8 510.3L1252.8 509.3L1253.8 511.0L1254.4 634.5L1255.3 719.9L1256.2 721.1L1257.1 719.3L1258.0 721.2L1258.9 719.9L1260.2 714.4L1261.3 566.9L1262.0 540.1L1263.0 540.4L1263.9 541.2L1264.9 539.8L1265.8 540.1L1266.6 610.5L1267.5 710.8L1268.6 713.7L1269.8 714.4L1270.7 718.6L1271.6 721.6L1272.5 725.3L1273.5 725.8L1274.4 728.6L1275.3 729.1L1276.2 730.8L1277.1 733.8L1278.0 732.4L1278.9 732.8L1279.8 735.6L1280.7 736.2L1281.9 734.3L1283.1 728.9L1283.4 588.7L1284.0 477.1L1285.0 477.5L1286.0 476.8L1287.0 475.7L1288.0 477.1L1288.9 630.9L1289.8 728.9L1290.7 723.5L1291.6 717.4L1292.5 710.8L1293.4 574.2L1294.0 329.1L1295.0 328.1L1296.0 327.5L1297.0 327.1L1298.0 329.1L1298.5 359.0L1299.2 359.0L1300.1 359.9L1301.1 360.3L1302.0 358.0L1302.9 359.0L1304.0 416.2L1304.9 620.0L1305.6 640.9L1306.6 641.8L1307.5 642.3L1308.5 640.9L1309.2 683.5L1310.7 679.9L1311.6 680.6L1312.5 680.6L1313.4 681.3L1314.3 680.0L1315.2 679.9L1316.1 528.8L1317.0 382.1L1318.0 381.2L1319.0 380.4L1320.0 382.2L1321.0 382.1L1322.1 499.8L1322.5 648.1L1323.4 648.5L1324.3 647.7L1325.2 648.7L1326.1 648.1L1327.0 627.3L1328.1 472.5L1328.8 409.9L1329.8 409.0L1330.8 411.2L1331.8 411.6L1332.8 409.9L1333.9 456.2L1334.6 588.7L1335.8 596.1L1337.0 606.9L1337.9 592.4L1338.8 590.7L1339.7 588.7L1341.2 566.9L1342.1 537.0L1343.1 538.2L1344.1 538.6L1345.2 537.0L1346.1 515.2L1347.0 514.3L1347.9 515.4L1348.8 515.2L1349.2 448.9L1350.1 308.7L1350.6 308.7L1351.5 307.8L1352.4 308.4L1353.3 306.7L1354.3 309.6L1355.2 308.7L1355.5 436.2L1357.0 436.2L1357.9 281.5L1358.9 282.5L1359.9 279.8L1360.9 279.8L1361.9 281.5L1362.4 372.7L1363.5 371.1L1364.6 371.7L1365.7 372.7L1366.1 296.9L1367.1 295.5L1368.1 296.9L1369.2 296.3L1370.2 296.9L1370.6 266.4L1371.5 268.4L1372.4 267.3L1373.3 265.2L1374.2 267.4L1375.1 266.4L1375.5 310.9L1376.6 310.3L1377.7 312.3L1378.8 310.9L1379.1 280.0L1380.1 279.5L1381.1 279.3L1382.0 280.0L1382.4 302.0L1383.3 303.2L1384.2 302.3L1385.1 302.0L1386.0 299.0L1386.9 298.2L1387.8 296.9L1388.8 298.2L1389.7 298.2L1390.6 299.4L1391.5 295.1L1392.4 296.0L1393.3 296.0L1394.2 300.7L1395.1 303.3L1396.0 304.1L1396.9 303.1L1397.8 302.2L1398.7 303.3L1399.3 322.7L1400.3 322.5L1401.3 322.4L1402.3 320.8L1403.3 322.7L1403.6 329.1L1404.7 328.9L1405.7 326.6L1406.7 325.2L1407.7 325.8L1408.7 325.4L1409.6 333.2L1410.5 340.0L1411.4 338.4L1412.4 340.0L1413.3 340.0L1414.2 343.9L1415.1 348.1L1416.0 347.4L1416.9 348.5L1417.8 346.6L1418.7 348.1L1419.1 270.6L1420.5 219.2L1421.4 219.2L1422.3 199.2L1423.3 197.7L1424.2 197.3L1425.1 199.5L1426.0 199.2L1426.3 227.9L1427.2 247.0L1428.2 262.6L1429.1 276.0L1430.0 344.5L1431.0 343.2L1432.0 344.5L1432.3 269.1L1433.8 269.1L1434.5 269.1L1436.0 227.0L1436.9 228.0L1437.8 227.0L1438.7 227.0L1439.6 232.4L1441.0 226.1L1441.8 226.1L1442.9 226.1L1444.1 247.9L1445.0 247.6L1445.9 247.9L1446.9 254.2L1447.8 255.7L1448.7 255.5L1449.6 254.2L1450.5 254.2L1451.4 260.3L1452.3 261.5L1453.2 258.7L1454.1 260.2L1455.0 256.0L1455.6 256.0L1456.6 255.6L1457.6 255.0L1458.6 251.5L1459.6 250.6L1460.6 251.9L1461.6 250.4L1462.7 251.0L1463.7 247.8L1464.8 252.2L1465.8 248.3L1466.8 250.6L1467.7 251.8L1468.6 247.1L1469.6 247.0L1470.5 248.3L1471.4 248.3L1472.3 250.7L1473.2 253.0L1474.1 254.2L1475.1 255.4L1476.1 257.6L1477.1 256.9L1478.1 253.3L1479.0 254.0L1480.0 254.8L1481.0 259.4L1482.0 256.4L1483.0 258.0L1484.0 258.1L1485.0 259.7L1486.0 257.7L1487.1 261.0L1488.1 264.4L1489.1 260.2L1490.2 262.7L1491.2 265.8L1492.2 265.1L1493.2 267.1L1494.1 274.2L1495.0 276.5L1495.9 275.0L1496.8 276.0L1497.7 280.9L1498.6 279.6L1499.5 281.1L1500.4 278.8L1501.3 279.6L1502.2 278.8L1503.1 279.6L1504.0 255.1L1505.0 258.0L1506.0 256.2L1507.0 253.5L1508.0 255.1L1508.6 268.8L1509.7 268.1L1510.8 268.2L1511.9 267.1L1512.9 269.8L1514.0 268.8L1515.1 271.0L1516.2 269.4L1517.3 266.8L1518.4 268.7L1519.5 268.8L1520.4 266.2L1521.3 266.9L1522.4 269.5L1523.5 264.3L1524.6 266.9L1525.7 264.3L1526.7 266.9L1527.8 267.6L1528.9 265.6L1530.0 265.3L1531.1 264.3L1532.2 266.9L1533.1 266.5L1534.0 270.6L1534.9 278.5L1535.8 282.0L1536.9 280.3L1537.9 280.7L1539.0 282.2L1540.0 282.0L1540.0 290.5L1540.9 289.5L1541.8 292.2L1542.7 289.1L1543.6 290.5L1544.5 303.3L1545.4 306.4L1546.4 310.4L1547.3 312.8L1548.2 317.8L1549.1 315.6L1550.0 315.9L1550.9 317.8L1551.3 259.7L1552.0 116.2L1553.0 114.8L1554.0 116.3L1555.0 117.4L1556.0 116.2L1557.2 138.0L1558.2 159.8L1559.1 201.6L1559.6 237.9L1560.3 279.6L1561.8 286.0L1562.7 282.8L1563.6 282.6L1564.5 281.9L1565.4 280.7L1566.3 276.9L1567.2 277.4L1568.1 272.7L1569.1 271.2L1570.0 272.4L1570.9 271.3L1571.8 269.9L1572.7 269.6L1573.6 266.3L1574.5 267.8L1575.5 268.2L1576.6 267.3L1577.6 269.2L1578.6 269.7L1579.7 269.3L1580.7 269.9L1581.8 267.8L1582.7 279.6L1583.6 279.4L1584.5 274.8L1585.4 273.3L1586.4 273.4L1587.4 272.2L1588.4 274.9L1589.4 273.8L1590.4 270.7L1591.4 275.0L1592.5 273.3L1593.5 271.7L1594.5 272.4L1595.4 282.4L1596.3 284.6L1597.2 285.4L1598.1 285.7L1599.0 288.7L1599.9 288.4L1600.8 293.2L1601.7 294.2L1602.6 296.9L1603.5 299.1L1604.5 299.1L1605.4 301.8L1606.3 302.5L1607.2 302.3L1608.1 303.6L1609.0 302.5L1609.9 307.8L1610.8 307.3L1611.7 308.7L1612.6 309.9L1613.5 311.3L1614.4 314.1L1615.4 317.4L1616.3 317.4L1617.2 317.2L1618.1 317.8L1619.0 318.6L1619.9 321.5L1620.8 321.6L1621.7 325.4L1622.8 326.8L1623.9 322.8L1625.0 322.9L1626.1 322.4L1627.2 322.7L1628.2 323.4L1629.2 324.4L1630.3 325.0L1631.3 324.6L1632.3 325.8L1633.4 325.1L1634.4 327.3L1635.3 326.6L1636.2 329.2L1637.1 326.9L1638.0 326.4L1639.0 328.3L1639.9 328.9L1640.8 329.4L1641.7 328.3L1642.6 327.3L1643.5 330.2L1644.4 329.3L1645.3 330.9L1646.2 335.4L1647.1 336.9L1648.0 338.2L1648.9 341.2L1649.9 342.1L1650.8 343.3L1651.7 341.8L1652.6 345.5L1653.5 343.1L1654.4 344.5L1655.3 346.5L1656.2 349.1L1657.1 353.2L1658.0 358.1L1658.9 359.1L1659.8 363.5L1660.7 368.4L1661.7 370.4L1662.6 374.5L1663.5 377.0L1664.4 379.9L1665.3 385.9L1666.2 387.2L1667.1 391.2L1668.0 390.8L1669.3 392.6L1670.4 395.1L1671.5 403.2L1672.5 405.3L1673.5 409.0L1674.4 411.4L1675.3 416.3L1676.2 418.8L1677.1 420.1L1678.0 421.7L1678.9 422.3L1679.8 426.4L1680.7 428.9L1681.6 432.6L1682.8 435.3L1684.0 438.0L1684.3 352.7L1685.3 352.7L1686.2 349.1L1687.1 349.2L1688.0 348.1L1688.9 348.8L1689.8 348.1L1691.1 352.7L1691.6 352.7L1692.5 351.8L1693.4 352.7L1694.3 352.7L1695.2 352.7L1695.6 501.6L1696.6 500.8L1697.6 501.6L1698.0 497.0L1699.0 498.4L1700.1 497.2L1701.1 496.6L1702.1 497.0L1702.5 477.1L1703.6 477.2L1704.6 477.9L1705.7 478.3L1706.7 478.2L1707.8 475.7L1708.9 477.1L1709.2 439.8L1710.3 441.1L1711.3 438.9L1712.4 438.5L1713.4 439.8L1714.3 438.4L1715.2 439.8L1716.1 446.1L1717.0 453.5L1717.9 446.7L1718.8 437.1L1719.8 442.1L1720.7 445.0L1721.6 448.9L1722.5 442.5L1723.4 438.0L1724.5 438.5L1725.6 438.0L1726.1 452.0L1727.0 451.2L1727.9 452.4L1728.8 452.6L1729.7 452.0L1730.3 481.6L1731.4 482.1L1732.5 483.4L1733.4 484.9L1734.3 484.9L1735.2 479.8L1736.1 479.0L1737.0 476.2L1737.9 474.8L1738.8 474.3L1739.2 473.4L1740.4 473.0L1741.5 472.2L1742.5 472.2L1743.4 472.2L1744.8 472.2L1745.5 479.8L1746.1 492.5L1747.0 504.3L1747.9 504.2L1748.8 504.3L1749.2 554.2L1750.6 554.2L1751.5 555.7L1752.4 553.6L1753.3 553.7L1754.3 555.1L1755.2 555.1L1756.1 560.3L1757.0 565.1L1757.9 560.0L1759.0 560.2L1760.1 560.0L1761.2 586.0L1762.4 586.0L1763.3 586.2L1764.2 586.3L1765.1 586.0L1765.5 640.0L1766.5 640.3L1767.4 641.2L1768.4 640.0L1769.1 647.2L1770.1 646.4L1771.1 646.3L1772.0 647.2L1772.4 659.9L1773.3 660.3L1774.2 659.7L1775.1 658.8L1776.0 659.9L1776.4 681.7L1777.3 681.7L1778.2 681.9L1779.1 682.6L1780.0 681.7L1780.6 727.1L1781.5 727.0L1782.4 727.2L1783.3 728.9L1784.2 731.8L1785.1 736.2L1786.0 739.7L1786.9 743.5L1787.8 745.3L1788.8 747.7L1789.7 746.9L1790.6 748.9L1791.5 750.7L1792.4 760.7L1793.5 762.5L1794.6 763.6L1795.7 765.3L1796.4 788.9L1797.5 789.2L1798.6 791.9L1799.6 792.5L1800.6 794.6L1801.5 795.9L1802.4 797.0L1803.3 799.8L1804.2 803.2L1805.1 803.3L1806.0 805.4L1806.9 808.8L1807.8 809.2L1808.7 807.9L1809.6 811.1L1810.5 814.3L1811.4 816.6L1812.4 814.2L1813.3 816.7L1814.2 816.1L1815.1 814.7L1816.0 813.4L1816.9 817.5L1817.8 817.3L1818.7 819.7L1819.6 819.3L1820.5 819.5L1821.4 818.7L1822.3 820.9L1823.3 821.5L1824.3 821.1L1825.3 822.2L1826.4 822.4L1827.4 825.0L1828.4 823.7L1829.5 822.3L1830.5 823.4L1831.4 820.6L1832.3 817.0L1833.2 820.7L1834.1 820.9L1835.1 821.5L1836.0 822.2L1836.9 817.9L1837.8 819.3L1838.7 824.1L1839.6 827.0L1840.6 824.9L1841.6 827.4L1842.6 828.7L1843.6 825.5L1844.6 828.4L1845.6 827.1L1846.7 829.9L1847.7 826.9L1848.7 828.8L1849.6 829.4L1850.5 828.7L1851.4 826.6L1852.3 829.6L1853.2 828.8L1853.8 813.4L1854.7 813.3L1855.6 812.5L1856.5 811.7L1857.4 813.4L1858.1 830.6L1859.1 829.4L1860.0 830.9L1861.0 830.2L1862.0 834.0L1863.0 831.2L1863.9 831.6L1864.9 832.8L1865.9 834.8L1866.8 833.3L1867.8 832.0L1868.8 835.0L1869.8 833.6L1870.8 834.3L1871.5 834.3L1871.9 786.1L1872.3 753.5L1873.2 751.3L1874.1 754.0L1875.0 751.0L1875.9 753.5L1876.5 786.1L1877.4 819.7L1878.1 832.4L1878.8 832.4L1879.8 834.9L1880.8 830.5L1881.8 833.8L1882.8 832.4L1883.2 816.1L1884.1 817.8L1885.0 815.3L1885.9 816.8L1886.8 816.1L1887.3 828.8L1888.6 828.8L1889.5 808.3L1890.4 808.2L1891.3 805.9L1892.2 808.8L1893.2 809.5L1894.1 808.3L1895.0 836.1L1896.0 834.1L1897.0 839.2L1898.0 837.2L1899.1 838.0L1900.1 835.9L1901.1 839.6L1902.1 840.4L1903.1 839.7L1904.1 838.5L1905.1 841.4L1906.1 839.6L1907.1 838.7L1908.1 839.0L1909.1 839.2L1910.1 842.3L1911.1 840.4L1912.1 840.5L1913.0 842.3L1914.0 842.4L1915.1 841.5L1916.1 844.6L1917.1 843.0L1918.2 844.4L1919.2 843.9L1920.3 845.5L1921.3 844.2L1922.3 845.1L1923.4 843.7L1924.4 844.5L1925.4 844.7L1926.5 844.1L1927.5 846.7L1928.6 845.1L1929.5 848.0L1930.4 846.1L1931.3 847.1L1932.3 845.7L1933.3 846.0L1934.2 848.4L1935.2 846.6L1936.2 847.2L1937.1 845.6L1938.1 848.3L1939.0 849.9L1940.0 848.8L1940.0 852.5L1941.0 852.4L1942.0 852.8L1943.0 852.4L1944.0 853.8L1945.0 854.0L1946.1 853.0L1947.1 853.0L1948.1 853.4L1949.1 854.9L1950.1 853.7L1951.1 854.0L1952.1 855.0L1953.1 854.7L1954.1 854.8L1955.1 855.1L1956.1 855.8L1957.1 856.2L1958.2 855.8L1959.1 853.8L1960.0 852.5L1960.9 854.8L1961.8 856.2L1962.7 855.6L1963.6 856.4L1964.5 855.9L1965.4 856.7L1966.3 856.7L1967.2 854.4L1968.1 857.0L1969.1 858.4L1970.0 858.7L1971.0 859.3L1972.0 858.3L1973.0 859.2L1974.0 859.0L1975.0 858.8L1976.0 859.7L1977.0 860.4L1978.0 859.5L1979.0 859.9L1980.0 859.9L1981.0 861.2L1982.0 860.2L1983.0 861.0L1984.0 860.8L1985.0 861.9L1986.0 861.9L1987.0 861.9L1988.0 861.4L1989.0 862.2L1990.0 862.6L1991.0 862.1L1992.0 863.0L1993.0 861.9L1994.0 863.6L1995.0 862.3L1996.0 862.5L1997.0 863.8L1998.0 862.9L1999.0 864.5L2000.0 863.6L2001.0 863.7L2001.9 863.7L2002.9 865.1L2003.9 864.0L2004.9 864.8L2005.9 865.6L2006.9 865.3L2007.9 864.9L2008.9 864.7L2009.9 865.9L2010.9 865.3L2011.9 866.3L2012.9 865.7L2013.9 866.9L2014.9 867.1L2015.9 866.6L2016.9 867.2L2017.9 866.6L2018.9 867.1L2019.9 867.4L2020.8 866.1L2021.7 864.7L2022.6 864.3L2023.5 865.7L2024.4 868.3L2025.3 868.9L2026.2 868.4L2027.2 868.0L2028.1 867.8L2029.0 868.3L2029.9 859.8L2030.8 864.3L2031.7 869.3L2032.7 869.5L2033.7 869.9L2034.7 869.5L2035.7 870.2L2036.7 869.8L2037.7 870.8L2038.8 871.2L2039.8 870.3L2040.8 871.6L2041.8 871.2L2042.8 870.9L2043.8 871.5L2044.8 871.3L2045.8 871.7L2046.8 871.8L2047.8 872.1L2048.8 872.7L2049.9 872.1L2050.9 873.6L2051.9 872.4L2052.9 873.7L2053.9 874.3L2054.9 874.2L2055.9 874.1L2056.9 874.6L2057.9 873.6L2058.9 874.5L2059.9 874.6L2060.9 874.4L2062.0 875.4L2063.0 875.3L2064.0 875.2L2065.0 875.4L2066.0 875.5L2067.0 876.1L2068.0 876.0L2069.0 877.0L2070.0 876.5L2071.0 876.7L2072.0 876.4L2073.1 877.3L2074.1 877.7L2075.1 877.0L2076.1 877.7L2077.1 878.0L2078.0 876.7L2078.9 875.2L2079.8 876.7L2080.7 878.7L2081.7 878.7L2082.7 879.2L2083.7 878.7L2084.7 878.9L2085.7 880.2L2086.8 879.7L2087.8 879.5L2088.8 880.8L2089.8 880.0L2090.8 880.2L2091.8 880.8L2092.8 881.2L2093.8 882.1L2094.8 882.5L2095.8 882.4L2096.8 882.1L2097.8 881.9L2098.8 882.4L2099.8 882.2L2100.8 882.3L2101.8 883.9L2102.8 883.8L2103.9 883.4L2104.9 884.1L2105.9 884.8L2106.9 883.6L2107.9 884.2L2108.9 884.7L2109.9 885.6L2110.9 885.2L2111.9 885.3L2112.9 886.3L2113.9 885.5L2114.9 886.1L2115.9 886.1L2116.9 885.7L2117.9 886.7L2118.8 882.4L2119.8 879.4L2120.7 883.1L2121.6 887.4L2122.6 887.1L2123.6 887.3L2124.6 887.2L2125.6 888.5L2126.5 888.4L2127.5 888.4L2128.5 888.9L2129.5 889.1L2130.5 889.8L2131.5 889.5L2132.5 889.4L2133.5 889.8L2134.5 890.1L2135.5 890.7L2136.5 889.4L2137.5 890.1L2138.5 890.0L2139.5 891.0L2140.5 890.1L2141.5 891.6L2142.5 890.9L2143.5 890.8L2144.5 891.6L2145.5 892.2L2146.4 892.4L2147.4 892.7L2148.4 891.8L2149.4 891.9L2150.4 892.2L2151.4 893.4L2152.4 893.0L2153.4 894.0L2154.4 892.6L2155.4 893.8L2156.4 893.2L2157.4 893.3L2158.4 894.8L2159.4 894.2L2160.4 894.6L2161.4 894.7L2162.4 895.5L2163.4 895.7L2164.4 895.8L2165.4 894.8L2166.4 896.1L2167.3 895.6L2168.3 896.4L2169.3 895.8L2170.3 896.0L2171.3 896.8L2172.3 897.1L2173.3 896.8L2174.2 896.1L2175.1 893.9L2176.0 894.9L2176.9 896.4L2177.9 897.9L2178.9 897.9L2179.8 897.9L2180.8 898.2L2181.8 899.3L2182.8 898.3L2183.8 899.1L2184.8 899.4L2185.8 899.1L2186.8 899.7L2187.8 900.3L2188.8 900.3L2189.8 900.6L2190.8 899.4L2191.8 900.6L2192.8 900.0L2193.8 901.4L2194.7 900.3L2195.7 901.4L2196.7 900.8L2197.7 900.8L2198.7 901.5L2199.7 900.9L2200.7 902.3L2201.7 901.5L2202.7 902.2L2203.7 902.2L2204.7 902.9L2205.7 903.0L2206.7 902.8L2207.7 903.4L2208.7 903.6L2209.6 904.0L2210.6 903.5L2211.6 903.1L2212.6 903.5L2213.6 903.7L2214.6 903.6L2215.6 904.5L2216.6 904.8L2217.6 904.6L2218.6 905.2L2219.6 904.3L2220.6 905.1L2221.6 906.0L2222.6 905.4L2223.6 906.2L2224.6 904.9L2225.5 906.5L2226.5 905.8L2227.5 906.9L2228.5 906.5L2229.5 906.7L2230.5 906.7L2231.5 906.9L2232.5 907.4L2233.5 906.8L2234.5 908.2L2235.6 907.4L2236.6 907.3L2237.6 908.1L2238.6 908.2L2239.6 909.0L2240.6 908.0L2241.6 904.9L2242.6 907.1L2243.6 904.9L2244.6 909.6L2245.6 910.1L2246.7 911.2L2247.7 911.2L2248.7 907.9L2249.7 905.6L2250.7 908.6L2251.7 905.3L2252.7 907.1L2253.7 908.6L2254.7 904.7L2255.7 905.7L2256.7 910.4L2257.7 911.5L2258.8 911.1L2259.8 907.4L2260.8 906.2L2261.8 907.4L2262.8 908.5L2263.8 906.0L2264.8 908.5L2265.8 907.6L2266.8 908.8L2267.8 908.2L2268.8 910.4L2269.9 909.8L2270.9 912.9L2271.9 905.4L2272.9 910.7L2273.9 910.1L2274.9 912.7L2275.9 911.4L2276.9 907.7L2277.9 906.5L2278.9 910.5L2279.9 906.3L2280.9 913.1L2282.0 914.1L2283.0 906.8L2284.0 911.6L2285.0 910.6L2286.0 913.5L2287.0 914.1L2288.0 911.2L2289.0 913.6L2290.0 913.7L2291.0 911.1L2292.0 912.7L2293.1 908.9L2294.1 908.9L2295.1 912.3L2296.1 908.4L2297.1 910.7L2298.1 911.0L2299.1 916.2L2300.1 911.3L2301.1 916.3L2302.1 910.8L2303.1 913.4L2304.1 913.3L2305.2 910.4L2306.2 913.4L2307.2 911.0L2308.2 914.3L2309.2 912.1L2310.2 915.7L2311.2 911.7L2312.2 914.2L2313.2 915.8L2314.2 916.6L2315.2 913.6L2316.3 914.8L2317.3 918.9L2318.3 914.3L2319.3 918.2L2320.3 916.4L2321.3 917.0L2322.3 919.1L2323.3 919.1L2324.3 917.3L2325.2 914.7L2326.2 919.1L2327.2 921.5L2328.2 921.2L2329.2 914.6L2330.2 921.8L2331.1 915.0L2332.1 918.3L2333.1 914.4L2334.1 921.6L2335.1 921.5L2336.1 919.7L2337.0 917.3L2338.0 915.4L2339.0 915.5L2340.0 918.8L2341.0 917.2L2342.1 916.2L2343.1 918.9L2344.1 918.7L2345.2 915.0L2346.2 915.7L2347.2 920.1L2348.3 920.3L2349.3 917.8L2350.3 917.9L2351.4 915.2L2352.5 920.2L2353.6 917.3L2354.7 920.8L2355.8 917.0L2357.1 917.0L2358.0 919.8L2358.9 917.0L2358.9 937.9L2358.0 934.8L2357.1 937.9L2355.8 937.9L2354.7 934.9L2353.6 938.7L2352.5 933.1L2351.4 932.8L2350.3 934.3L2349.3 937.9L2348.3 930.8L2347.2 935.1L2346.2 932.2L2345.2 935.9L2344.1 931.7L2343.1 929.4L2342.1 928.8L2341.0 930.1L2340.0 931.5L2339.0 928.2L2338.0 933.7L2337.0 930.6L2336.1 929.2L2335.1 928.2L2334.1 934.0L2333.1 929.1L2332.1 927.4L2331.1 932.2L2330.2 932.0L2329.2 930.2L2328.2 929.1L2327.2 931.7L2326.2 933.5L2325.2 928.9L2324.3 925.6L2323.3 929.5L2322.3 930.6L2321.3 928.8L2320.3 925.1L2319.3 927.1L2318.3 927.0L2317.3 924.6L2316.3 926.8L2315.2 928.2L2314.2 925.2L2313.2 929.9L2312.2 926.8L2311.2 927.1L2310.2 923.9L2309.2 923.9L2308.2 923.9L2307.2 930.1L2306.2 930.5L2305.2 928.9L2304.1 927.6L2303.1 927.0L2302.1 926.8L2301.1 923.2L2300.1 923.3L2299.1 925.0L2298.1 927.3L2297.1 929.8L2296.1 927.6L2295.1 922.5L2294.1 926.8L2293.1 925.5L2292.0 925.3L2291.0 929.7L2290.0 928.3L2289.0 922.6L2288.0 926.4L2287.0 928.1L2286.0 927.3L2285.0 925.2L2284.0 921.0L2283.0 920.9L2282.0 922.5L2280.9 924.7L2279.9 923.1L2278.9 926.3L2277.9 926.7L2276.9 919.8L2275.9 926.8L2274.9 919.3L2273.9 922.0L2272.9 924.4L2271.9 920.0L2270.9 919.8L2269.9 923.6L2268.8 917.7L2267.8 922.9L2266.8 920.6L2265.8 923.8L2264.8 922.3L2263.8 917.8L2262.8 921.6L2261.8 918.4L2260.8 920.6L2259.8 919.5L2258.8 917.1L2257.7 915.1L2256.7 921.2L2255.7 919.8L2254.7 919.5L2253.7 922.0L2252.7 919.6L2251.7 920.5L2250.7 914.6L2249.7 919.5L2248.7 917.0L2247.7 914.8L2246.7 918.0L2245.6 916.3L2244.6 917.1L2243.6 918.2L2242.6 914.9L2241.6 912.8L2240.6 912.2L2239.6 913.8L2238.6 914.5L2237.6 912.2L2236.6 914.5L2235.6 913.1L2234.5 913.5L2233.5 913.8L2232.5 913.3L2231.5 912.2L2230.5 912.1L2229.5 911.5L2228.5 911.7L2227.5 911.2L2226.5 911.5L2225.5 911.8L2224.6 910.7L2223.6 911.3L2222.6 910.2L2221.6 911.3L2220.6 909.7L2219.6 910.0L2218.6 910.3L2217.6 909.5L2216.6 909.1L2215.6 910.0L2214.6 910.0L2213.6 909.0L2212.6 909.4L2211.6 908.8L2210.6 908.0L2209.6 908.0L2208.7 907.9L2207.7 907.8L2206.7 907.8L2205.7 907.7L2204.7 907.0L2203.7 907.7L2202.7 907.0L2201.7 907.9L2200.7 907.5L2199.7 906.4L2198.7 906.7L2197.7 906.5L2196.7 906.9L2195.7 906.3L2194.7 906.5L2193.8 905.6L2192.8 905.2L2191.8 905.3L2190.8 904.8L2189.8 905.5L2188.8 904.4L2187.8 904.1L2186.8 904.8L2185.8 903.6L2184.8 903.6L2183.8 903.4L2182.8 904.2L2181.8 903.4L2180.8 903.1L2179.8 904.2L2178.9 902.6L2177.9 903.0L2176.9 902.8L2176.0 901.9L2175.1 902.5L2174.2 903.1L2173.3 902.1L2172.3 901.3L2171.3 901.7L2170.3 901.0L2169.3 901.2L2168.3 902.0L2167.3 901.2L2166.4 901.0L2165.4 901.2L2164.4 901.1L2163.4 900.0L2162.4 900.5L2161.4 900.1L2160.4 900.4L2159.4 899.9L2158.4 900.2L2157.4 898.7L2156.4 898.4L2155.4 899.7L2154.4 898.1L2153.4 898.9L2152.4 897.9L2151.4 899.0L2150.4 897.9L2149.4 898.0L2148.4 896.9L2147.4 897.5L2146.4 897.9L2145.5 896.3L2144.5 896.5L2143.5 897.0L2142.5 895.9L2141.5 896.6L2140.5 896.3L2139.5 895.4L2138.5 895.8L2137.5 895.5L2136.5 894.8L2135.5 895.3L2134.5 895.6L2133.5 895.2L2132.5 895.6L2131.5 894.2L2130.5 893.9L2129.5 894.4L2128.5 894.0L2127.5 893.9L2126.5 893.0L2125.6 893.6L2124.6 893.6L2123.6 892.5L2122.6 893.2L2121.6 892.9L2120.7 892.7L2119.8 892.5L2118.8 892.9L2117.9 892.1L2116.9 891.6L2115.9 891.3L2114.9 891.7L2113.9 891.6L2112.9 891.8L2111.9 890.1L2110.9 890.4L2109.9 890.9L2108.9 890.7L2107.9 889.6L2106.9 890.4L2105.9 889.6L2104.9 889.3L2103.9 889.6L2102.8 888.6L2101.8 887.9L2100.8 888.3L2099.8 888.8L2098.8 887.9L2097.8 887.4L2096.8 888.1L2095.8 887.6L2094.8 887.5L2093.8 886.8L2092.8 887.0L2091.8 886.2L2090.8 886.3L2089.8 886.1L2088.8 886.5L2087.8 886.2L2086.8 884.6L2085.7 884.9L2084.7 885.2L2083.7 884.2L2082.7 884.8L2081.7 884.6L2080.7 884.0L2079.8 882.9L2078.9 883.4L2078.0 884.0L2077.1 883.1L2076.1 882.1L2075.1 883.3L2074.1 883.1L2073.1 883.1L2072.0 881.8L2071.0 882.7L2070.0 881.4L2069.0 880.9L2068.0 881.0L2067.0 881.6L2066.0 881.5L2065.0 880.5L2064.0 880.2L2063.0 881.2L2062.0 880.0L2060.9 880.3L2059.9 880.0L2058.9 879.3L2057.9 879.0L2056.9 879.8L2055.9 878.8L2054.9 878.4L2053.9 878.6L2052.9 878.0L2051.9 878.8L2050.9 878.6L2049.9 878.7L2048.8 877.1L2047.8 878.2L2046.8 877.7L2045.8 877.9L2044.8 877.1L2043.8 877.4L2042.8 877.3L2041.8 877.2L2040.8 876.5L2039.8 875.9L2038.8 876.3L2037.7 875.3L2036.7 875.7L2035.7 876.0L2034.7 875.3L2033.7 874.8L2032.7 875.7L2031.7 874.7L2030.8 874.9L2029.9 874.3L2029.0 874.0L2028.1 873.3L2027.2 873.6L2026.2 873.9L2025.3 873.5L2024.4 873.4L2023.5 872.8L2022.6 873.1L2021.7 872.5L2020.8 872.0L2019.9 872.5L2018.9 872.2L2017.9 873.0L2016.9 871.6L2015.9 872.4L2014.9 871.4L2013.9 871.3L2012.9 871.8L2011.9 870.7L2010.9 871.0L2009.9 870.6L2008.9 870.8L2007.9 869.7L2006.9 870.7L2005.9 870.3L2004.9 869.7L2003.9 870.1L2002.9 870.1L2001.9 869.3L2001.0 869.2L2000.0 869.5L1999.0 868.9L1998.0 869.1L1997.0 868.9L1996.0 868.0L1995.0 868.8L1994.0 867.7L1993.0 867.1L1992.0 867.7L1991.0 868.3L1990.0 867.0L1989.0 867.7L1988.0 867.6L1987.0 867.5L1986.0 866.2L1985.0 867.1L1984.0 865.7L1983.0 865.6L1982.0 866.7L1981.0 866.1L1980.0 865.5L1979.0 866.2L1978.0 864.5L1977.0 865.2L1976.0 865.6L1975.0 865.0L1974.0 865.0L1973.0 864.9L1972.0 864.5L1971.0 864.7L1970.0 864.5L1969.1 863.8L1968.1 863.5L1967.2 863.1L1966.3 862.5L1965.4 862.0L1964.5 862.8L1963.6 861.5L1962.7 862.8L1961.8 862.0L1960.9 860.9L1960.0 861.3L1959.1 861.0L1958.2 861.3L1957.1 861.6L1956.1 861.1L1955.1 860.2L1954.1 860.9L1953.1 860.8L1952.1 860.5L1951.1 860.7L1950.1 859.4L1949.1 859.6L1948.1 859.9L1947.1 859.6L1946.1 859.3L1945.0 859.0L1944.0 857.9L1943.0 859.1L1942.0 858.7L1941.0 857.6L1940.0 858.0L1940.0 856.0L1939.0 857.2L1938.1 856.0L1937.1 858.1L1936.2 854.7L1935.2 853.8L1934.2 853.2L1933.3 852.9L1932.3 856.5L1931.3 853.9L1930.4 855.1L1929.5 858.8L1928.6 858.8L1927.5 856.4L1926.5 858.8L1925.4 856.3L1924.4 858.4L1923.4 856.2L1922.3 855.0L1921.3 854.2L1920.3 855.2L1919.2 853.0L1918.2 854.0L1917.1 853.5L1916.1 851.7L1915.1 854.5L1914.0 852.4L1913.0 850.7L1912.1 851.3L1911.1 852.4L1910.1 851.8L1909.1 850.3L1908.1 852.4L1907.1 850.1L1906.1 852.8L1905.1 853.4L1904.1 851.6L1903.1 851.5L1902.1 851.9L1901.1 852.6L1900.1 851.6L1899.1 851.0L1898.0 853.3L1897.0 849.0L1896.0 849.9L1895.0 850.6L1894.1 848.8L1893.2 851.2L1892.2 849.8L1891.3 848.6L1890.4 848.1L1889.5 848.8L1888.6 848.8L1887.3 859.7L1886.8 847.0L1885.9 847.1L1885.0 844.4L1884.1 848.1L1883.2 845.1L1882.8 845.1L1881.8 847.0L1880.8 844.3L1879.8 845.0L1878.8 845.1L1878.1 845.1L1877.4 843.3L1876.5 843.3L1875.9 843.3L1875.0 842.9L1874.1 841.4L1873.2 842.3L1872.3 843.3L1871.9 843.3L1871.5 843.3L1870.8 843.3L1869.8 845.2L1868.8 841.5L1867.8 844.6L1866.8 842.4L1865.9 842.2L1864.9 844.2L1863.9 840.5L1863.0 839.9L1862.0 842.5L1861.0 840.9L1860.0 843.1L1859.1 843.6L1858.1 841.5L1857.4 849.7L1856.5 849.1L1855.6 847.1L1854.7 840.5L1853.8 839.7L1853.2 839.7L1852.3 839.2L1851.4 842.1L1850.5 838.3L1849.6 841.9L1848.7 839.7L1847.7 839.7L1846.7 839.9L1845.6 836.9L1844.6 839.6L1843.6 839.3L1842.6 836.7L1841.6 838.2L1840.6 836.9L1839.6 837.9L1838.7 837.2L1837.8 837.4L1836.9 837.9L1836.0 840.1L1835.1 847.0L1834.1 845.6L1833.2 843.2L1832.3 837.9L1831.4 838.3L1830.5 836.1L1829.5 837.9L1828.4 834.6L1827.4 833.8L1826.4 833.8L1825.3 831.0L1824.3 830.6L1823.3 832.4L1822.3 830.9L1821.4 834.9L1820.5 832.7L1819.6 833.8L1818.7 832.4L1817.8 834.8L1816.9 834.1L1816.0 834.3L1815.1 835.7L1814.2 840.6L1813.3 840.9L1812.4 836.2L1811.4 839.0L1810.5 836.1L1809.6 836.9L1808.7 834.3L1807.8 835.0L1806.9 832.4L1806.0 833.9L1805.1 832.4L1804.2 833.0L1803.3 832.4L1802.4 832.2L1801.5 834.0L1800.6 833.1L1799.6 834.3L1798.6 835.4L1797.5 836.1L1796.4 836.1L1795.7 834.3L1794.6 834.4L1793.5 834.4L1792.4 832.4L1791.5 832.4L1790.6 834.7L1789.7 834.2L1788.8 833.8L1787.8 836.1L1786.9 836.2L1786.0 835.3L1785.1 836.1L1784.2 829.4L1783.3 823.4L1782.4 824.2L1781.5 823.7L1780.6 823.4L1780.0 835.2L1779.1 835.7L1778.2 835.4L1777.3 834.2L1776.4 835.2L1776.0 835.2L1775.1 836.2L1774.2 835.6L1773.3 835.9L1772.4 835.2L1772.0 835.2L1771.1 836.6L1770.1 834.7L1769.1 835.2L1768.4 810.6L1767.4 811.9L1766.5 811.1L1765.5 810.6L1765.1 827.0L1764.2 827.0L1763.3 828.5L1762.4 827.0L1761.2 839.7L1760.1 839.7L1759.0 840.4L1757.9 839.7L1757.0 828.8L1756.1 829.7L1755.2 828.8L1754.3 805.2L1753.3 800.3L1752.4 795.2L1751.5 790.9L1750.6 785.2L1749.2 791.6L1748.8 791.6L1747.9 791.2L1747.0 791.6L1746.1 734.4L1745.5 590.0L1744.8 590.0L1743.4 590.0L1742.5 760.7L1741.5 760.7L1740.4 760.5L1739.2 760.7L1738.8 734.8L1737.9 736.1L1737.0 734.8L1736.1 734.1L1735.2 734.8L1734.3 699.9L1733.4 698.7L1732.5 699.9L1731.4 708.8L1730.3 717.7L1729.7 717.7L1728.8 719.4L1727.9 722.6L1727.0 726.7L1726.1 728.6L1725.6 728.6L1724.5 729.9L1723.4 728.6L1722.5 728.9L1721.6 730.8L1720.7 722.8L1719.8 712.3L1718.8 704.4L1717.9 705.0L1717.0 704.4L1716.1 697.1L1715.2 689.0L1714.3 693.8L1713.4 699.9L1712.4 703.3L1711.3 707.3L1710.3 710.6L1709.2 713.5L1708.9 713.5L1707.8 713.2L1706.7 715.0L1705.7 717.2L1704.6 719.3L1703.6 718.2L1702.5 720.8L1702.1 720.8L1701.1 720.0L1700.1 720.7L1699.0 722.2L1698.0 723.5L1697.6 723.5L1696.6 722.4L1695.6 723.5L1695.2 723.5L1694.3 699.9L1693.4 561.5L1692.5 536.3L1691.6 508.8L1691.1 427.1L1689.8 427.1L1688.9 420.9L1688.0 414.4L1687.1 423.0L1686.2 428.9L1685.3 638.2L1684.3 679.0L1684.0 679.0L1682.8 679.3L1681.6 679.0L1680.7 684.5L1679.8 686.7L1678.9 686.1L1678.0 684.5L1677.1 685.5L1676.2 685.4L1675.3 683.7L1674.4 683.4L1673.5 684.5L1672.5 547.0L1671.5 546.4L1670.4 545.6L1669.3 547.0L1668.0 507.0L1667.1 485.8L1666.2 463.4L1665.3 463.5L1664.4 463.4L1663.5 456.2L1662.6 447.1L1661.7 444.5L1660.7 438.7L1659.8 436.3L1658.9 431.2L1658.0 428.9L1657.1 426.1L1656.2 419.0L1655.3 417.6L1654.4 414.1L1653.5 410.2L1652.6 406.8L1651.7 402.6L1650.8 396.2L1649.9 392.7L1648.9 392.4L1648.0 386.3L1647.1 382.6L1646.2 379.0L1645.3 374.5L1644.4 370.5L1643.5 368.4L1642.6 362.7L1641.7 360.1L1640.8 358.8L1639.9 362.2L1639.0 357.4L1638.0 359.0L1637.1 359.7L1636.2 358.9L1635.3 361.2L1634.4 360.9L1633.4 362.0L1632.3 361.8L1631.3 364.0L1630.3 362.7L1629.2 362.7L1628.2 365.1L1627.2 363.6L1626.1 364.4L1625.0 365.5L1623.9 362.5L1622.8 366.7L1621.7 364.5L1620.8 362.0L1619.9 364.7L1619.0 365.8L1618.1 364.5L1617.2 363.1L1616.3 363.1L1615.4 364.6L1614.4 365.4L1613.5 363.4L1612.6 364.6L1611.7 366.3L1610.8 365.5L1609.9 366.3L1609.0 364.7L1608.1 368.5L1607.2 366.3L1606.3 366.9L1605.4 367.9L1604.5 365.1L1603.5 368.2L1602.6 367.2L1601.7 365.3L1600.8 365.5L1599.9 365.7L1599.0 368.1L1598.1 369.2L1597.2 364.7L1596.3 365.9L1595.4 366.3L1594.5 365.4L1593.5 364.1L1592.5 364.0L1591.4 366.2L1590.4 361.9L1589.4 360.5L1588.4 360.1L1587.4 363.2L1586.4 361.3L1585.4 360.9L1584.5 362.9L1583.6 359.0L1582.7 359.9L1581.8 359.9L1580.7 362.2L1579.7 360.9L1578.6 359.8L1577.6 359.9L1576.6 358.9L1575.5 357.2L1574.5 359.0L1573.6 357.6L1572.7 354.6L1571.8 355.4L1570.9 355.7L1570.0 351.8L1569.1 352.5L1568.1 350.7L1567.2 353.9L1566.3 354.5L1565.4 353.2L1564.5 350.7L1563.6 352.4L1562.7 349.6L1561.8 347.2L1560.3 343.6L1559.6 338.2L1559.1 332.7L1558.2 332.7L1557.2 332.7L1556.0 338.2L1555.0 341.6L1554.0 344.7L1553.0 343.4L1552.0 347.2L1551.3 352.7L1550.9 352.7L1550.0 350.2L1549.1 349.3L1548.2 350.9L1547.3 348.8L1546.4 349.5L1545.4 349.8L1544.5 349.1L1543.6 347.2L1542.7 347.2L1541.8 345.4L1540.9 347.0L1540.0 343.6L1540.0 336.3L1539.0 338.0L1537.9 334.1L1536.9 335.3L1535.8 336.3L1534.9 337.0L1534.0 338.2L1533.1 337.9L1532.2 338.2L1531.1 340.1L1530.0 337.4L1528.9 334.3L1527.8 335.8L1526.7 334.5L1525.7 334.5L1524.6 332.2L1523.5 330.0L1522.4 332.1L1521.3 330.9L1520.4 328.4L1519.5 329.1L1518.4 326.1L1517.3 327.6L1516.2 321.9L1515.1 322.5L1514.0 321.8L1512.9 321.2L1511.9 321.7L1510.8 325.8L1509.7 321.0L1508.6 323.6L1508.0 327.3L1507.0 325.2L1506.0 327.7L1505.0 325.3L1504.0 323.6L1503.1 317.8L1502.2 314.8L1501.3 310.5L1500.4 310.9L1499.5 310.1L1498.6 306.9L1497.7 308.1L1496.8 305.4L1495.9 304.0L1495.0 304.7L1494.1 301.4L1493.2 297.9L1492.2 288.7L1491.2 289.2L1490.2 288.5L1489.1 287.9L1488.1 287.8L1487.1 290.6L1486.0 288.8L1485.0 290.5L1484.0 292.2L1483.0 288.6L1482.0 289.1L1481.0 287.8L1480.0 289.3L1479.0 286.9L1478.1 288.5L1477.1 287.3L1476.1 287.1L1475.1 288.4L1474.1 288.7L1473.2 286.4L1472.3 289.1L1471.4 288.4L1470.5 286.2L1469.6 283.3L1468.6 281.3L1467.7 275.7L1466.8 276.0L1465.8 275.1L1464.8 274.3L1463.7 273.0L1462.7 273.7L1461.6 276.4L1460.6 273.0L1459.6 272.4L1458.6 273.9L1457.6 271.2L1456.6 271.6L1455.6 274.2L1455.0 303.3L1454.1 301.5L1453.2 303.6L1452.3 303.3L1451.4 310.0L1450.5 320.0L1449.6 340.9L1448.7 343.0L1447.8 345.2L1446.9 350.0L1445.9 415.3L1445.0 427.6L1444.1 436.2L1442.9 436.2L1441.8 505.2L1441.0 543.3L1439.6 543.3L1438.7 543.3L1437.8 566.0L1436.9 589.1L1436.0 609.6L1434.5 609.6L1433.8 621.8L1432.3 620.0L1432.0 620.0L1431.0 621.3L1430.0 620.0L1429.1 543.3L1428.2 542.7L1427.2 543.3L1426.3 383.5L1426.0 383.5L1425.1 382.5L1424.2 375.8L1423.3 372.8L1422.3 371.7L1421.4 371.7L1420.5 495.2L1419.1 527.0L1418.7 527.0L1417.8 525.2L1416.9 526.5L1416.0 527.1L1415.1 527.0L1414.2 525.6L1413.3 527.0L1412.4 571.5L1411.4 572.5L1410.5 571.5L1409.6 576.1L1408.7 576.9L1407.7 579.8L1406.7 578.5L1405.7 580.7L1404.7 580.8L1403.6 583.3L1403.3 583.3L1402.3 582.7L1401.3 584.0L1400.3 586.6L1399.3 587.8L1398.7 587.8L1397.8 586.9L1396.9 588.5L1396.0 587.6L1395.1 586.0L1394.2 586.5L1393.3 586.0L1392.4 606.9L1391.5 608.5L1390.6 608.2L1389.7 606.9L1388.8 620.0L1387.8 630.3L1386.9 641.8L1386.0 641.2L1385.1 641.8L1384.2 652.5L1383.3 667.6L1382.4 677.7L1382.0 677.7L1381.1 677.2L1380.1 679.5L1379.1 678.1L1378.8 683.5L1377.7 682.8L1376.6 684.3L1375.5 683.5L1375.1 656.3L1374.2 657.3L1373.3 657.8L1372.4 654.9L1371.5 656.4L1370.6 657.2L1370.2 657.2L1369.2 671.9L1368.1 689.7L1367.1 705.1L1366.1 723.5L1365.7 723.5L1364.6 715.3L1363.5 705.2L1362.4 694.4L1361.9 694.4L1360.9 691.5L1359.9 693.2L1358.9 688.2L1357.9 688.1L1357.0 688.1L1355.5 687.2L1355.2 687.2L1354.3 687.3L1353.3 690.1L1352.4 690.3L1351.5 691.5L1350.6 692.6L1350.1 719.0L1349.2 719.0L1348.8 721.7L1347.9 726.8L1347.0 729.8L1346.1 732.6L1345.2 732.6L1344.1 739.1L1343.1 742.8L1342.1 750.4L1341.2 750.4L1339.7 747.1L1338.8 741.5L1337.9 732.6L1337.0 730.8L1335.8 731.4L1334.6 730.8L1333.9 728.9L1332.8 721.7L1331.8 731.8L1330.8 741.9L1329.8 753.8L1328.8 763.4L1328.1 763.4L1327.0 763.4L1326.1 763.4L1325.2 760.7L1324.3 756.3L1323.4 751.2L1322.5 748.0L1322.1 747.1L1321.0 745.3L1320.0 740.3L1319.0 732.1L1318.0 724.9L1317.0 719.9L1316.1 719.9L1315.2 751.6L1314.3 750.6L1313.4 752.7L1312.5 751.8L1311.6 755.5L1310.7 754.4L1309.2 756.2L1308.5 756.2L1307.5 760.5L1306.6 761.8L1305.6 764.3L1304.9 764.3L1304.0 764.3L1302.9 751.6L1302.0 743.9L1301.1 734.9L1300.1 726.2L1299.2 719.9L1298.5 719.9L1298.0 470.7L1297.0 531.1L1296.0 593.9L1295.0 656.4L1294.0 719.9L1293.4 728.9L1292.5 736.2L1291.6 737.3L1290.7 740.9L1289.8 745.3L1288.9 745.3L1288.0 747.1L1287.0 745.2L1286.0 747.9L1285.0 747.4L1284.0 747.1L1283.4 747.1L1283.1 745.3L1281.9 744.4L1280.7 745.3L1279.8 745.8L1278.9 745.0L1278.0 745.3L1277.1 745.8L1276.2 747.1L1275.3 747.1L1274.4 749.2L1273.5 749.4L1272.5 750.7L1271.6 752.0L1270.7 750.1L1269.8 752.5L1268.6 754.6L1267.5 754.4L1266.6 769.8L1265.8 769.8L1264.9 773.1L1263.9 775.9L1263.0 777.0L1262.0 780.7L1261.3 780.7L1260.2 780.7L1258.9 765.3L1258.0 765.5L1257.1 763.4L1256.2 765.4L1255.3 764.3L1254.4 764.3L1253.8 765.3L1252.8 768.2L1251.8 769.6L1250.8 768.4L1249.9 770.7L1248.9 786.1L1247.9 784.5L1246.9 787.6L1245.9 784.2L1244.9 786.1L1243.9 747.1L1242.8 741.4L1241.7 738.0L1241.3 643.6L1240.2 673.5L1239.1 708.4L1238.0 738.0L1237.1 774.3L1236.2 774.3L1235.3 774.6L1234.4 773.4L1233.5 774.3L1232.6 774.3L1231.7 783.4L1230.8 783.4L1229.9 784.4L1229.0 783.4L1228.1 784.6L1227.2 783.4L1226.2 765.3L1225.3 754.4L1224.4 755.7L1223.5 756.9L1222.6 759.7L1221.7 764.2L1220.8 765.3L1219.5 765.3L1219.0 767.1L1218.0 766.0L1217.0 767.9L1216.0 769.2L1215.0 770.7L1214.1 770.7L1213.5 770.7L1212.6 774.3L1211.7 769.4L1210.8 765.8L1209.9 763.4L1209.0 762.8L1208.1 760.1L1207.2 758.0L1206.1 755.5L1205.0 753.1L1203.9 749.7L1202.8 749.2L1201.7 745.3L1200.8 744.6L1199.9 743.6L1199.0 741.6L1198.1 741.7L1197.2 741.6L1196.3 740.1L1195.4 738.7L1194.5 738.0L1193.6 736.2L1192.7 736.2L1192.1 728.9L1191.1 730.0L1190.1 727.7L1189.1 730.1L1188.1 728.9L1187.6 728.9L1186.3 725.3L1185.4 728.2L1184.5 728.9L1183.6 730.4L1182.7 735.7L1181.8 738.0L1180.9 741.1L1179.9 741.7L1179.0 745.3L1178.1 745.9L1177.2 747.1L1176.3 747.1L1175.4 738.0L1174.3 739.4L1173.2 738.6L1172.1 738.0L1171.8 738.0L1170.9 739.3L1170.0 737.8L1169.1 738.0L1168.1 738.0L1167.1 741.8L1166.1 742.2L1165.1 744.3L1164.1 747.1L1163.6 748.9L1162.7 748.9L1161.8 750.3L1160.9 750.7L1160.0 752.6L1159.1 752.6L1158.2 753.5L1157.2 753.5L1156.3 753.5L1155.4 753.9L1154.5 753.8L1153.6 754.4L1152.3 765.3L1151.8 770.7L1150.8 771.1L1149.9 770.8L1148.9 772.6L1148.0 771.6L1147.3 771.6L1146.4 768.1L1145.4 763.4L1144.5 759.8L1143.6 759.8L1142.7 760.1L1141.8 758.6L1140.9 760.7L1140.0 759.8L1140.0 728.9L1138.5 728.9L1137.6 739.8L1136.7 737.5L1135.8 738.9L1134.9 740.1L1134.0 737.0L1133.1 738.0L1132.2 720.7L1131.3 701.7L1130.7 674.5L1129.6 679.7L1128.4 686.8L1127.3 692.6L1126.4 721.7L1125.3 747.1L1124.0 747.1L1123.1 750.3L1122.2 751.9L1121.3 754.3L1120.4 758.0L1119.5 757.0L1118.6 759.2L1117.7 759.8L1116.6 761.8L1115.5 762.1L1114.5 763.5L1113.4 763.2L1112.4 761.5L1111.3 763.4L1110.4 767.7L1109.5 768.9L1108.6 767.8L1107.7 769.5L1106.8 767.3L1105.9 768.9L1104.6 765.3L1104.0 728.9L1103.1 727.3L1102.2 730.6L1101.3 728.9L1100.4 761.6L1099.5 761.5L1098.6 763.4L1097.7 765.4L1096.8 764.2L1095.9 765.3L1095.0 766.7L1094.1 765.9L1093.2 767.6L1092.2 769.5L1091.3 770.7L1090.4 772.6L1089.5 771.9L1088.6 770.2L1087.7 770.7L1086.8 748.5L1085.9 728.9L1084.6 665.4L1083.7 630.9L1082.8 607.2L1081.9 587.0L1081.0 567.2L1080.1 543.3L1078.8 692.6L1078.1 728.9L1076.8 754.4L1075.9 757.6L1075.0 761.2L1074.1 765.3L1073.2 768.9L1072.3 774.1L1071.4 778.3L1070.5 781.6L1069.4 781.2L1068.3 779.6L1067.2 779.6L1066.1 779.1L1065.0 779.8L1063.9 777.9L1062.8 773.5L1061.7 772.7L1060.7 766.9L1059.6 765.3L1058.5 758.5L1057.4 750.7L1055.9 710.8L1055.0 673.8L1054.1 638.2L1053.2 497.9L1052.2 485.5L1051.2 477.2L1050.1 465.3L1048.7 674.5L1047.8 747.1L1046.9 790.7L1045.9 793.0L1045.0 793.0L1044.1 792.5L1042.9 792.5L1042.0 788.6L1041.0 788.0L1040.1 785.1L1039.2 783.4L1038.7 783.4L1037.8 783.3L1036.9 785.3L1036.0 783.4L1035.1 785.6L1034.1 788.1L1033.2 789.2L1032.3 792.5L1031.4 794.3L1030.5 797.3L1029.6 801.6L1028.7 806.8L1027.8 811.6L1026.9 817.0L1026.0 817.0L1025.0 809.5L1024.0 804.9L1023.0 795.8L1022.0 790.7L1021.1 790.7L1019.9 784.2L1018.7 779.8L1017.8 710.8L1016.4 647.2L1015.3 546.5L1014.2 447.1L1012.7 347.2L1011.4 501.6L1010.2 710.8L1009.3 727.9L1008.4 747.1L1007.3 785.2L1006.2 785.9L1005.2 786.3L1004.2 785.2L1003.3 785.2L1002.2 770.6L1001.1 758.1L1000.0 747.1L998.7 783.4L997.8 804.3L996.9 804.7L996.0 804.3L995.1 807.6L994.2 811.1L993.3 814.8L992.4 816.1L991.3 821.2L990.2 828.8L989.3 828.8L988.4 828.8L987.8 828.8L986.9 824.3L986.0 818.8L985.1 811.9L984.2 807.0L983.3 807.0L982.4 805.8L981.5 807.5L980.6 807.0L980.0 734.4L979.1 736.0L978.2 733.1L977.3 735.8L976.4 734.4L976.0 734.4L975.0 703.0L974.0 673.2L973.0 642.3L972.0 610.5L971.0 674.5L970.2 728.9L969.1 783.4L967.9 792.5L967.0 795.4L966.1 796.9L965.1 801.6L964.2 801.9L963.3 804.0L962.4 805.2L961.2 806.1L960.6 806.1L959.7 803.4L958.8 804.1L957.9 803.9L957.0 801.6L956.4 801.6L955.4 799.6L954.4 802.0L953.3 801.6L952.4 804.3L951.3 803.4L950.3 802.9L949.2 804.3L948.4 801.6L947.9 765.3L946.9 752.2L945.8 738.4L944.8 726.0L943.7 710.8L943.0 799.8L941.5 799.8L940.6 807.6L939.7 817.9L938.8 826.1L937.9 826.2L937.0 826.4L936.1 826.1L935.7 797.9L934.8 765.2L933.9 735.9L933.0 706.8L932.1 674.5L931.6 773.4L930.4 774.3L929.2 773.4L928.5 773.4L927.0 773.4L926.1 763.4L925.2 763.4L924.2 762.0L923.1 762.5L922.1 763.4L921.6 763.4L920.7 710.8L919.4 710.8L918.8 497.9L917.9 497.9L916.5 497.9L915.8 191.6L914.9 193.4L913.9 192.9L913.0 191.6L912.5 356.3L911.4 470.4L910.3 583.3L909.2 629.1L908.5 629.1L907.0 699.9L905.6 765.3L904.3 801.6L903.4 804.9L902.5 808.8L901.6 810.2L900.7 810.0L899.8 813.4L898.9 812.7L898.0 814.3L896.9 816.9L895.9 818.6L894.9 820.0L893.8 817.9L892.8 822.3L891.7 822.1L890.7 823.4L889.7 825.7L888.6 825.0L887.6 823.8L886.6 823.8L885.5 824.5L884.5 828.1L883.4 827.0L882.2 828.8L881.6 828.8L880.5 831.0L879.4 833.3L878.4 836.1L878.0 836.1L877.1 834.8L876.2 836.1L875.3 834.9L874.4 831.0L873.5 828.8L872.5 824.2L871.6 820.9L870.7 816.1L869.5 794.3L868.9 774.3L868.0 757.1L867.1 736.8L866.2 719.9L865.3 586.9L864.9 586.9L863.5 586.9L862.0 488.9L861.3 488.9L860.7 488.9L859.8 472.5L858.9 456.2L858.0 473.1L857.1 492.5L856.2 492.5L855.3 550.4L854.4 605.1L854.0 605.1L852.9 617.8L852.6 617.8L851.1 617.8L850.0 658.3L848.9 699.9L848.0 699.9L847.1 776.2L846.2 780.6L845.3 787.6L844.4 794.3L843.5 796.0L842.6 798.3L841.7 800.3L840.8 803.4L839.9 800.3L839.0 801.9L838.0 798.6L837.1 798.1L836.2 797.9L835.3 792.0L834.4 784.3L833.5 779.8L832.2 747.1L831.3 710.8L830.4 667.2L829.3 543.3L828.6 356.3L827.7 419.6L826.7 482.0L825.7 547.7L824.8 610.5L824.1 674.5L823.2 699.9L822.1 754.4L821.2 765.3L820.3 764.2L819.5 765.3L818.4 779.8L817.4 781.5L816.4 780.7L815.4 781.4L814.4 779.8L813.5 804.3L812.6 804.3L811.7 804.3L810.8 803.8L809.9 806.0L809.0 805.9L808.1 804.3L807.5 804.3L806.8 792.5L805.4 792.5L804.5 734.5L803.5 674.5L802.3 574.2L801.7 574.2L800.7 599.1L799.7 623.5L798.7 648.6L797.7 674.5L796.8 681.7L796.3 689.9L795.3 688.2L794.3 689.7L793.3 688.8L792.3 689.9L791.7 689.9L790.9 689.9L790.1 691.5L789.2 689.9L788.7 554.2L787.7 582.3L786.7 610.6L785.7 637.5L784.7 665.4L784.1 692.6L783.2 758.0L782.7 765.3L781.7 764.2L780.7 763.8L779.8 767.2L778.8 765.2L777.9 765.5L776.9 766.9L775.9 767.1L775.0 765.5L774.0 764.4L773.0 765.3L772.3 765.3L771.8 765.3L770.8 764.1L769.8 760.7L768.8 755.2L767.8 754.4L767.2 754.4L766.3 754.5L765.4 755.1L764.5 754.4L763.1 716.2L762.5 716.2L761.7 716.2L760.8 717.3L760.0 716.2L759.1 689.9L758.2 659.9L757.2 320.0L756.1 319.7L754.9 320.0L754.2 428.9L753.0 429.3L751.8 428.9L751.3 428.9L750.9 428.9L749.4 428.9L749.1 320.0L747.6 320.0L747.3 346.3L746.4 344.6L745.4 346.3L744.5 344.9L743.6 347.9L742.7 346.3L742.2 330.9L741.1 329.4L740.0 330.9L739.1 345.7L738.2 358.4L737.3 374.5Z"/>
</g></g>
<clipPath id="cb"><rect x="351" y="1050" width="2008" height="502"/></clipPath>
<g clip-path="url(#cb)" fill="none" stroke-width="4" stroke-linejoin="bevel" stroke-linecap="butt" shape-rendering="crispEdges">
<path stroke="#0f0" d="M351.0 1298.9L352.3 1257.0L353.7 1258.0L354.9 1280.3L356.0 1327.2L357.4 1310.2L357.5 1173.5L358.6 1316.9L360.2 1280.0L361.6 1321.1L363.2 1271.4L364.4 1322.9L366.0 1283.8L367.0 1313.6L368.7 1276.7L369.9 1309.2L371.4 1310.5L372.5 1330.8L373.8 1313.2L375.2 1310.5L376.5 1268.1L378.0 1314.0L379.4 1293.6L380.7 1330.5L381.8 1294.0L383.2 1319.3L384.5 1278.5L385.7 1334.2L386.9 1274.0L387.7 1249.7L388.5 1333.6L389.6 1296.4L391.1 1315.9L392.3 1313.2L393.5 1325.2L394.7 1334.8L396.0 1324.1L397.3 1292.6L399.0 1328.1L400.1 1293.7L401.7 1307.0L403.2 1318.3L404.6 1330.5L405.1 1380.0L406.0 1272.6L407.5 1334.9L409.0 1270.8L410.3 1278.4L411.7 1267.4L413.0 1330.8L414.5 1310.3L415.9 1323.7L417.3 1277.5L417.9 1354.6L418.4 1318.2L419.5 1269.7L421.1 1319.1L422.4 1272.3L423.7 1278.5L425.0 1271.5L426.6 1317.7L427.9 1290.0L429.2 1319.0L430.5 1314.2L432.0 1326.9L433.1 1312.9L434.6 1289.3L436.0 1282.5L437.5 1337.7L438.9 1288.0L440.1 1317.8L441.4 1277.4L441.7 1367.3L442.9 1355.4L444.1 1282.0L445.4 1327.2L446.9 1281.6L448.4 1334.4L449.6 1269.0L451.0 1333.7L452.5 1280.4L454.0 1269.9L455.5 1291.1L456.7 1313.5L458.2 1274.5L459.8 1311.0L461.0 1273.2L462.6 1327.4L464.1 1268.2L465.7 1326.3L467.1 1325.7L468.7 1326.2L470.1 1325.4L471.5 1323.0L472.7 1280.4L474.2 1337.5L475.4 1329.4L476.9 1307.9L478.3 1285.1L479.5 1332.9L480.7 1289.6L482.0 1282.0L483.2 1275.1L484.7 1329.5L486.2 1269.6L487.4 1338.6L489.0 1291.9L489.3 1246.5L490.2 1311.5L491.7 1292.2L492.8 1315.8L494.4 1292.6L495.8 1272.9L496.9 1296.2L498.3 1313.7L499.8 1341.0L500.9 1340.0L502.2 1279.5L503.6 1307.2L504.8 1279.8L506.0 1290.2L507.5 1268.8L508.4 1364.1L508.9 1323.3L510.5 1268.6L512.0 1335.3L513.6 1266.2L515.1 1281.1L516.4 1273.9L517.8 1317.2L519.0 1272.6L520.3 1342.1L521.8 1248.3L523.0 1326.0L524.2 1286.4L525.5 1341.4L526.9 1255.3L528.0 1340.4L529.2 1326.8L529.7 1386.4L530.8 1324.3L532.1 1284.9L533.3 1270.3L534.5 1295.3L535.8 1264.7L537.4 1242.2L538.8 1341.6L540.4 1270.0L541.9 1330.2L543.2 1320.5L544.5 1332.2L545.0 1240.2L545.9 1279.8L547.5 1340.8L548.7 1264.6L550.0 1318.5L551.4 1272.6L552.6 1341.5L552.9 1380.0L553.7 1294.0L555.1 1292.0L556.1 1248.1L556.2 1271.1L557.5 1325.8L559.0 1263.5L560.4 1335.1L561.6 1266.9L563.2 1320.3L564.8 1323.9L566.4 1313.0L567.8 1319.2L569.0 1337.1L570.5 1284.3L571.9 1321.6L573.3 1263.4L574.6 1335.9L575.9 1262.9L577.2 1321.5L578.5 1287.6L579.9 1265.8L581.4 1338.1L581.5 1354.6L582.7 1327.5L584.1 1255.3L585.3 1309.9L586.4 1271.9L587.8 1316.9L589.2 1267.8L590.8 1331.5L592.3 1269.5L593.8 1331.3L595.3 1263.9L595.8 1341.9L596.7 1332.6L598.0 1289.3L599.3 1313.5L600.5 1347.7L601.9 1267.2L602.2 1232.2L603.3 1328.5L604.4 1314.1L605.9 1272.9L607.1 1313.6L608.5 1265.8L610.0 1338.6L611.6 1324.9L613.2 1335.1L614.6 1283.8L615.8 1305.5L617.3 1332.3L618.5 1319.2L619.8 1271.9L621.2 1293.6L622.7 1347.2L622.8 1437.2L623.9 1356.8L625.5 1290.9L627.0 1298.1L628.6 1306.1L629.7 1359.7L630.9 1301.8L632.1 1355.7L633.5 1277.5L634.5 1344.9L635.5 1402.2L635.9 1279.0L637.1 1354.9L638.5 1301.1L639.9 1341.0L641.2 1275.6L641.9 1411.8L642.5 1275.8L643.9 1283.5L645.4 1282.9L646.6 1280.2L647.9 1359.8L648.2 1240.2L649.2 1346.6L650.5 1362.9L652.0 1278.1L653.4 1335.7L654.6 1421.3L654.9 1369.6L656.4 1373.4L657.7 1307.1L659.1 1364.1L660.7 1357.8L660.9 1376.8L661.9 1353.8L663.5 1341.7L665.1 1327.9L666.5 1276.9L668.1 1264.8L669.6 1285.5L671.0 1349.8L672.1 1228.4L672.1 1296.5L673.7 1338.9L675.2 1276.0L676.3 1283.9L677.6 1267.2L678.8 1332.4L679.9 1262.3L681.3 1327.0L682.7 1257.8L683.2 1380.0L684.4 1339.4L685.7 1263.9L687.0 1322.2L688.1 1256.8L689.6 1333.1L690.7 1281.0L692.0 1301.5L693.2 1271.3L694.3 1335.9L695.8 1265.3L697.3 1259.0L698.8 1277.2L699.9 1307.1L701.0 1245.6L702.3 1320.1L703.5 1258.9L704.9 1302.7L706.4 1270.5L707.8 1300.6L709.0 1252.7L709.6 1171.2L710.1 1297.2L711.6 1327.4L713.1 1241.5L714.3 1264.8L715.5 1302.9L716.8 1250.8L718.0 1305.6L718.1 1204.3L719.2 1231.4L720.6 1325.3L721.8 1238.4L723.0 1304.3L724.5 1225.7L725.8 1240.3L727.2 1250.2L728.7 1313.6L730.2 1313.6L730.2 1198.2L731.7 1298.4L733.0 1244.9L734.2 1312.1L735.5 1276.2L736.9 1240.9L738.0 1254.7L738.8 1222.7L739.2 1345.1L740.6 1323.0L741.9 1290.9L743.2 1302.2L744.7 1267.9L746.2 1324.0L746.7 1364.1L747.5 1306.1L748.6 1253.8L749.8 1255.0L751.0 1238.6L752.2 1308.8L753.7 1243.9L755.1 1300.2L756.4 1259.2L757.5 1256.3L758.7 1244.8L760.3 1309.1L761.6 1239.7L762.6 1216.4L762.8 1312.1L763.9 1250.1L765.6 1316.7L766.9 1267.3L768.1 1284.0L769.4 1227.4L770.6 1291.5L772.1 1317.4L773.4 1317.0L774.9 1231.3L776.0 1257.1L777.2 1303.1L778.7 1294.5L779.9 1251.5L780.1 1205.2L781.2 1300.2L782.4 1297.8L783.5 1311.4L785.1 1243.0L786.3 1313.7L787.8 1290.8L789.2 1306.2L790.5 1243.6L791.2 1195.7L791.8 1286.4L793.0 1296.1L794.4 1313.5L795.5 1298.5L796.8 1278.5L798.1 1294.8L799.4 1321.4L800.8 1248.1L802.4 1296.4L803.9 1225.3L803.9 1375.2L805.2 1291.5L806.5 1208.1L807.7 1238.0L808.7 1190.9L808.9 1245.1L810.0 1304.6L811.3 1223.7L812.7 1317.4L814.0 1213.0L815.4 1310.7L816.6 1224.7L817.9 1290.9L818.9 1181.4L819.1 1288.8L820.5 1249.6L821.9 1251.0L823.3 1283.4L824.4 1242.5L825.7 1311.0L826.9 1238.0L828.4 1304.0L829.4 1388.0L829.9 1315.7L831.1 1308.4L832.2 1225.3L833.4 1309.0L834.7 1319.6L836.1 1282.1L837.3 1179.8L837.8 1279.5L839.1 1298.9L840.6 1213.3L842.1 1311.6L843.5 1301.5L843.7 1133.1L844.7 1278.0L846.0 1278.7L847.4 1280.1L848.6 1229.0L849.7 1274.7L850.8 1244.5L852.0 1315.0L852.2 1179.2L853.5 1222.9L855.0 1287.0L856.6 1230.3L857.8 1254.4L858.0 1370.5L858.9 1234.3L860.2 1269.3L861.1 1084.5L861.3 1225.9L862.8 1292.6L864.3 1205.6L864.3 1373.7L865.6 1306.6L866.7 1223.2L867.5 1081.3L868.0 1304.2L869.4 1233.8L870.6 1274.9L870.7 1149.6L871.8 1215.4L873.0 1275.4L874.3 1254.7L875.6 1298.0L877.1 1287.3L878.7 1292.6L880.0 1216.5L881.5 1316.0L882.8 1205.7L884.0 1303.9L885.6 1212.7L886.6 1185.5L887.0 1278.2L888.3 1222.3L889.5 1304.1L890.6 1225.1L892.0 1319.3L893.6 1221.7L894.5 1186.2L895.3 1237.8L896.9 1234.3L898.3 1321.8L899.7 1185.3L900.9 1317.4L902.4 1251.7L902.4 1205.2L903.5 1307.5L904.7 1224.6L906.1 1221.9L907.4 1261.4L908.9 1297.7L910.5 1329.8L912.1 1313.9L913.6 1272.2L914.6 1322.0L915.9 1250.9L917.0 1246.8L918.2 1235.6L919.4 1354.5L920.6 1321.6L922.0 1328.0L923.1 1149.0L923.4 1256.9L924.8 1318.1L926.4 1269.2L927.7 1353.6L929.1 1252.1L930.4 1355.1L931.9 1320.1L933.4 1320.8L934.2 1425.4L935.0 1242.3L936.1 1366.1L937.4 1144.2L937.6 1251.3L939.2 1306.2L940.4 1261.9L941.8 1358.3L943.1 1244.6L944.8 1310.9L946.2 1276.6L947.5 1316.8L948.6 1280.2L950.1 1324.1L951.6 1316.0L953.1 1240.9L953.3 1213.2L954.4 1340.3L954.9 1379.4L955.9 1273.4L957.3 1279.0L958.0 1181.4L958.8 1277.0L960.0 1265.8L961.5 1286.6L963.1 1262.6L964.7 1241.8L965.8 1248.7L967.0 1345.3L967.6 1387.3L968.6 1348.6L969.9 1290.0L971.5 1274.5L973.0 1364.1L974.6 1272.2L975.8 1336.9L977.1 1341.0L978.6 1319.2L979.9 1279.8L981.3 1332.0L981.9 1222.7L982.4 1342.6L983.8 1370.6L985.0 1283.1L986.3 1349.6L987.4 1297.6L988.9 1347.2L989.8 1230.7L990.1 1238.1L991.4 1342.6L992.8 1326.5L994.2 1356.7L995.3 1256.9L996.4 1367.0L998.0 1231.7L999.5 1350.4L1000.7 1347.8L1001.8 1374.6L1002.9 1304.2L1004.3 1380.0L1005.7 1266.9L1007.0 1332.1L1008.5 1264.6L1009.8 1376.6L1010.9 1282.8L1012.1 1391.1L1012.1 1356.5L1013.4 1285.3L1014.8 1365.4L1016.2 1305.9L1017.6 1367.3L1019.1 1296.9L1020.7 1390.1L1021.9 1283.2L1023.4 1344.2L1024.8 1306.7L1026.3 1413.9L1027.5 1377.0L1029.0 1380.4L1030.4 1309.2L1031.7 1395.2L1032.9 1333.2L1034.1 1366.5L1035.4 1317.3L1035.9 1409.6L1036.9 1362.9L1038.3 1305.9L1039.8 1403.5L1040.9 1286.2L1042.1 1379.5L1043.7 1308.1L1044.8 1416.5L1044.9 1404.7L1046.3 1359.7L1047.7 1363.9L1047.9 1272.0L1049.2 1360.6L1050.3 1390.4L1051.9 1401.5L1053.2 1371.3L1054.6 1331.5L1055.9 1287.9L1055.9 1366.0L1057.5 1313.7L1058.8 1401.8L1060.4 1298.4L1061.5 1393.1L1062.9 1400.0L1064.3 1420.7L1065.9 1346.2L1067.2 1401.0L1068.3 1348.3L1069.8 1393.9L1070.9 1311.8L1072.3 1391.3L1073.5 1418.5L1074.7 1399.8L1075.9 1318.6L1077.1 1419.8L1078.1 1437.2L1078.4 1335.8L1079.9 1423.1L1081.1 1331.9L1082.3 1423.5L1083.5 1313.8L1084.5 1302.2L1085.0 1398.3L1086.5 1404.0L1087.8 1317.8L1089.0 1310.7L1090.3 1427.6L1091.9 1347.3L1093.4 1419.2L1094.7 1352.9L1095.6 1457.9L1095.8 1348.9L1097.1 1349.3L1098.5 1413.2L1100.0 1384.9L1101.3 1424.0L1102.5 1341.7L1104.0 1435.2L1105.5 1334.9L1107.1 1382.3L1108.2 1353.6L1109.4 1382.5L1109.9 1483.3L1110.8 1326.2L1111.9 1408.1L1113.1 1336.2L1114.4 1435.2L1115.8 1337.6L1117.0 1438.8L1118.2 1335.4L1119.3 1429.2L1120.5 1440.0L1121.9 1408.2L1122.0 1530.9L1123.5 1417.2L1124.9 1402.8L1126.2 1361.1L1127.6 1438.8L1128.8 1320.5L1130.3 1400.8L1131.6 1332.8L1132.9 1402.3L1134.2 1352.9L1135.3 1484.9L1135.7 1436.7L1137.2 1324.8L1138.4 1428.2L1140.0 1365.0L1141.5 1417.4L1142.9 1385.5L1144.5 1429.0L1146.0 1322.4L1147.1 1446.9L1148.6 1317.1L1149.6 1481.7L1150.0 1409.2L1151.1 1353.6L1152.6 1420.9L1153.8 1342.3L1155.3 1425.4L1156.8 1335.8L1158.4 1413.7L1159.8 1299.1L1161.1 1409.0L1162.5 1379.3L1163.6 1384.7L1165.1 1313.6L1166.4 1413.3L1167.1 1259.3L1167.8 1289.8L1169.4 1405.0L1170.3 1418.1L1171.0 1298.2L1172.2 1357.8L1173.6 1284.6L1175.1 1384.0L1176.2 1294.3L1177.3 1343.2L1178.6 1311.3L1180.1 1358.8L1181.5 1334.2L1182.6 1359.4L1184.0 1305.5L1185.3 1361.1L1186.4 1291.1L1187.8 1350.2L1189.0 1264.0L1190.3 1349.7L1191.7 1280.3L1193.0 1349.5L1194.3 1253.7L1195.6 1357.6L1197.1 1248.6L1198.4 1354.6L1199.8 1244.4L1200.9 1340.4L1202.1 1426.1L1202.3 1281.4L1203.5 1384.5L1205.0 1268.8L1206.5 1354.3L1207.9 1259.2L1209.1 1355.9L1210.7 1274.9L1212.0 1321.9L1213.5 1273.8L1214.6 1347.1L1216.3 1257.9L1216.4 1389.5L1217.7 1315.1L1217.9 1195.7L1219.2 1244.5L1220.5 1352.9L1221.6 1271.8L1222.8 1280.1L1224.4 1248.4L1225.8 1310.7L1227.0 1249.9L1228.6 1324.7L1229.9 1244.1L1231.5 1325.0L1231.6 1183.6L1232.6 1236.4L1234.0 1358.2L1235.1 1268.0L1236.7 1360.4L1237.9 1374.6L1239.4 1257.0L1239.6 1411.8L1240.5 1267.7L1241.8 1192.5L1242.1 1287.2L1243.5 1278.6L1245.0 1330.7L1246.4 1267.0L1247.6 1331.9L1248.1 1176.6L1248.8 1282.8L1250.2 1330.0L1251.3 1395.9L1251.6 1249.6L1252.9 1334.6L1254.3 1256.2L1255.5 1290.0L1257.0 1251.1L1258.5 1358.7L1259.3 1208.4L1260.0 1260.0L1261.6 1366.4L1262.7 1272.4L1264.0 1399.1L1264.1 1329.4L1265.7 1313.0L1266.8 1263.3L1268.2 1233.7L1269.6 1344.8L1271.2 1247.1L1272.5 1330.5L1273.6 1273.5L1274.8 1354.0L1276.1 1281.8L1277.7 1244.0L1278.8 1240.1L1279.9 1318.7L1281.1 1270.4L1282.5 1249.5L1283.9 1262.6L1285.4 1319.9L1285.6 1403.2L1286.6 1268.8L1287.7 1319.8L1289.2 1244.5L1290.7 1332.1L1291.8 1255.7L1292.9 1306.9L1294.1 1277.0L1294.2 1195.7L1295.3 1338.5L1295.8 1405.4L1296.7 1270.7L1297.8 1364.7L1299.4 1248.2L1300.8 1284.2L1302.0 1279.7L1303.1 1308.0L1304.7 1285.3L1305.9 1313.2L1307.1 1274.7L1308.2 1341.5L1309.5 1284.7L1310.8 1303.7L1312.1 1339.8L1313.4 1348.7L1315.0 1284.3L1316.4 1352.4L1317.6 1259.7L1318.8 1362.1L1320.0 1247.5L1321.4 1357.5L1322.8 1204.6L1322.9 1229.0L1324.3 1276.3L1325.7 1266.1L1326.9 1333.4L1328.1 1260.7L1329.6 1317.8L1330.7 1286.4L1332.3 1364.8L1333.7 1240.4L1335.0 1325.2L1336.4 1333.7L1337.9 1360.2L1339.1 1283.2L1340.6 1339.5L1341.7 1273.2L1341.9 1208.4L1343.1 1338.0L1344.3 1349.9L1345.5 1280.2L1346.9 1352.4L1348.3 1347.4L1349.7 1232.1L1350.9 1349.6L1352.0 1252.6L1353.0 1376.8L1353.4 1338.6L1354.8 1225.4L1356.1 1334.8L1357.7 1251.8L1357.8 1171.2L1359.0 1208.8L1360.4 1273.0L1361.8 1348.4L1363.1 1354.7L1364.7 1253.0L1366.2 1217.1L1367.6 1366.1L1368.7 1349.0L1370.2 1332.5L1371.3 1282.4L1372.6 1355.5L1373.7 1173.5L1373.7 1231.9L1375.0 1345.8L1376.1 1253.6L1377.7 1352.7L1378.9 1273.9L1380.2 1329.7L1381.5 1276.0L1382.8 1341.5L1384.0 1357.5L1385.5 1339.1L1386.4 1193.5L1386.9 1236.9L1388.3 1327.1L1389.8 1264.1L1391.3 1342.9L1392.7 1320.1L1394.2 1354.4L1395.3 1277.6L1396.5 1320.3L1398.0 1265.3L1399.3 1329.9L1400.4 1250.9L1401.5 1319.6L1402.2 1216.4L1402.6 1260.6L1403.7 1329.6L1405.0 1238.5L1406.1 1226.5L1407.3 1263.6L1408.7 1352.4L1410.1 1260.8L1411.3 1335.1L1412.7 1250.8L1414.3 1283.1L1415.4 1239.1L1416.8 1336.7L1418.0 1349.6L1418.1 1227.5L1419.4 1283.6L1420.6 1248.6L1421.3 1372.1L1421.9 1334.2L1423.1 1340.8L1424.3 1261.8L1425.9 1345.9L1427.5 1350.4L1428.6 1195.7L1429.0 1347.7L1430.2 1317.5L1430.8 1373.7L1431.5 1285.3L1432.9 1336.9L1434.2 1271.4L1435.7 1334.9L1436.9 1291.7L1437.9 1308.8L1439.5 1293.3L1440.7 1311.3L1442.0 1313.0L1443.5 1315.2L1444.6 1286.1L1446.1 1318.0L1447.4 1265.2L1449.0 1328.4L1450.2 1259.4L1451.3 1318.0L1452.8 1285.8L1454.1 1307.2L1455.5 1261.2L1456.6 1315.8L1457.8 1290.2L1459.1 1273.1L1460.5 1281.0L1461.7 1307.3L1462.9 1306.1L1464.4 1320.0L1465.5 1290.5L1466.9 1319.3L1468.4 1265.1L1469.8 1323.4L1471.2 1334.6L1472.7 1328.4L1473.8 1276.7L1475.0 1326.6L1476.3 1268.6L1477.4 1314.9L1478.9 1276.9L1479.5 1188.4L1480.0 1262.9L1481.3 1281.7L1482.9 1310.8L1484.4 1290.7L1485.7 1322.3L1487.3 1264.2L1488.5 1323.0L1489.8 1339.0L1490.9 1314.2L1491.2 1222.7L1492.0 1285.8L1493.6 1316.2L1495.2 1270.2L1496.7 1324.5L1498.1 1318.4L1499.7 1314.3L1501.3 1264.6L1502.8 1337.4L1503.9 1365.7L1504.3 1291.5L1505.9 1338.4L1507.3 1271.6L1508.5 1335.8L1509.8 1287.6L1511.2 1312.4L1512.4 1287.1L1513.9 1344.1L1515.4 1274.4L1516.5 1340.3L1518.0 1274.7L1519.5 1263.9L1520.9 1273.9L1522.2 1305.0L1523.8 1275.4L1525.4 1322.6L1526.5 1283.9L1527.8 1285.7L1529.0 1281.7L1529.4 1410.2L1530.3 1332.4L1531.5 1324.6L1532.8 1334.9L1534.1 1316.1L1535.4 1316.7L1536.9 1276.0L1538.0 1311.1L1539.6 1271.0L1541.0 1326.6L1542.4 1286.4L1543.5 1328.4L1544.7 1276.0L1546.3 1337.0L1547.5 1343.4L1548.4 1395.9L1548.6 1335.9L1550.0 1305.0L1551.6 1333.0L1552.5 1052.0L1552.7 1263.9L1554.0 1440.0L1554.1 1310.9L1555.4 1270.3L1555.5 1052.0L1556.7 1317.1L1557.5 1456.0L1558.0 1269.8L1559.0 1080.0L1559.1 1338.6L1560.5 1308.8L1561.9 1329.1L1563.1 1315.7L1564.3 1415.0L1564.4 1323.0L1565.7 1336.1L1566.8 1273.2L1568.2 1286.1L1569.7 1317.2L1571.3 1340.1L1572.3 1413.4L1572.6 1255.9L1574.1 1276.6L1575.4 1271.5L1576.8 1293.5L1578.0 1338.4L1579.5 1296.8L1581.0 1342.8L1582.2 1275.2L1583.3 1267.6L1584.5 1259.5L1585.8 1343.8L1586.6 1372.1L1587.3 1317.2L1588.9 1269.7L1590.3 1288.0L1591.7 1262.6L1593.0 1312.6L1594.5 1333.4L1596.1 1260.7L1597.3 1330.6L1598.9 1280.1L1600.5 1335.6L1601.7 1254.3L1602.4 1227.5L1603.1 1285.8L1604.4 1289.0L1605.9 1338.6L1607.0 1260.3L1608.1 1270.1L1609.5 1285.4L1611.0 1327.8L1611.0 1206.8L1612.5 1266.6L1613.6 1313.3L1615.2 1328.9L1616.6 1321.9L1617.8 1288.4L1619.0 1302.8L1620.4 1253.8L1621.5 1211.6L1621.8 1316.6L1623.3 1261.4L1624.9 1327.9L1626.2 1280.1L1627.3 1334.9L1628.5 1272.7L1630.1 1341.8L1630.4 1214.1L1631.5 1263.6L1632.9 1313.8L1634.3 1274.1L1635.9 1325.9L1637.3 1259.1L1638.5 1307.3L1640.1 1274.0L1641.4 1279.1L1641.5 1194.8L1642.6 1274.3L1643.7 1324.5L1645.1 1259.5L1646.4 1323.8L1647.8 1260.1L1649.2 1338.3L1650.5 1252.9L1652.1 1349.4L1653.5 1267.1L1655.0 1336.5L1656.5 1256.1L1657.9 1351.9L1659.2 1355.8L1660.6 1327.5L1661.8 1248.9L1663.4 1283.6L1665.0 1237.9L1666.3 1318.7L1667.9 1281.7L1669.2 1356.5L1670.8 1222.7L1670.8 1250.6L1672.3 1380.0L1672.4 1311.8L1673.6 1277.4L1674.9 1351.8L1676.3 1235.4L1677.9 1351.1L1678.7 1154.4L1679.3 1255.7L1680.9 1333.8L1682.2 1244.6L1683.6 1219.6L1685.2 1284.8L1686.3 1329.5L1687.4 1273.2L1688.7 1390.2L1690.1 1215.9L1691.4 1358.1L1691.4 1183.0L1692.1 1183.0L1692.1 1411.8L1692.7 1269.7L1693.0 1411.8L1694.0 1376.1L1695.3 1229.7L1696.7 1379.2L1698.3 1356.9L1699.4 1232.1L1700.6 1239.8L1702.1 1356.6L1703.7 1233.1L1705.1 1387.0L1706.6 1278.3L1707.8 1366.5L1709.1 1217.5L1710.6 1242.2L1712.1 1209.1L1712.8 1117.2L1713.4 1350.1L1714.5 1360.8L1716.0 1341.0L1717.4 1246.3L1718.9 1367.1L1719.1 1489.6L1720.1 1257.7L1720.7 1141.7L1721.6 1271.4L1722.8 1259.7L1724.1 1313.8L1725.2 1206.2L1726.7 1339.8L1728.1 1366.0L1729.3 1365.6L1729.6 1110.5L1730.7 1235.5L1732.2 1364.1L1733.7 1223.2L1735.0 1324.9L1736.4 1242.5L1737.6 1342.6L1738.8 1262.9L1740.3 1373.8L1741.7 1220.6L1743.0 1427.0L1743.2 1341.0L1744.5 1354.7L1745.8 1256.5L1747.3 1227.8L1748.4 1385.4L1749.9 1368.2L1750.9 1187.8L1751.2 1320.4L1752.7 1333.9L1754.0 1316.5L1755.4 1266.3L1756.8 1363.1L1758.2 1258.4L1758.9 1405.4L1759.3 1363.6L1760.8 1259.1L1762.0 1338.3L1763.4 1320.0L1764.5 1339.7L1766.1 1262.3L1767.6 1330.9L1768.4 1211.0L1769.2 1258.9L1770.4 1332.8L1771.7 1320.6L1773.2 1331.2L1774.8 1250.2L1776.3 1357.8L1777.5 1274.1L1778.5 1362.2L1780.1 1261.2L1781.3 1344.0L1782.6 1279.0L1783.9 1325.3L1785.5 1290.5L1786.8 1258.5L1787.9 1284.3L1789.2 1322.3L1790.3 1316.4L1791.5 1338.0L1792.8 1339.6L1794.4 1272.8L1795.7 1340.4L1797.3 1358.2L1798.7 1343.3L1800.2 1270.2L1801.4 1288.3L1802.6 1351.4L1803.9 1297.0L1805.5 1340.6L1806.9 1288.8L1808.2 1345.6L1809.4 1267.9L1810.5 1280.6L1811.3 1183.6L1811.9 1245.4L1813.4 1359.4L1814.9 1294.7L1816.2 1349.2L1817.7 1290.6L1819.1 1338.0L1820.3 1283.2L1821.4 1343.9L1822.6 1247.2L1823.9 1320.9L1825.1 1293.4L1825.6 1381.6L1826.3 1358.7L1827.8 1260.4L1829.3 1340.2L1830.7 1317.9L1832.2 1261.7L1833.5 1349.2L1834.8 1354.5L1835.9 1252.1L1837.1 1354.9L1838.7 1293.8L1840.2 1338.9L1841.8 1247.1L1843.3 1350.4L1844.7 1270.0L1846.1 1358.3L1847.6 1265.0L1849.2 1341.3L1850.4 1259.6L1851.6 1331.7L1852.9 1292.3L1854.4 1359.8L1855.6 1353.2L1857.0 1317.0L1857.4 1213.2L1858.3 1291.2L1859.6 1324.2L1860.8 1263.4L1862.3 1326.2L1863.7 1256.5L1865.2 1360.2L1866.5 1344.4L1867.6 1345.5L1868.5 1380.0L1869.1 1265.9L1870.2 1317.5L1871.3 1246.0L1872.6 1375.5L1873.7 1248.6L1874.8 1321.1L1876.4 1248.7L1877.9 1261.1L1879.1 1290.4L1880.7 1292.8L1881.8 1248.4L1883.2 1272.4L1884.7 1273.7L1885.8 1334.7L1887.2 1322.7L1888.5 1314.7L1889.9 1282.3L1891.4 1313.4L1892.5 1327.9L1894.1 1281.8L1895.4 1359.1L1896.8 1345.1L1898.2 1271.5L1899.7 1354.6L1901.1 1262.0L1902.4 1325.8L1902.8 1394.3L1903.5 1355.5L1905.1 1353.8L1906.3 1314.5L1907.7 1337.6L1909.2 1267.4L1910.7 1351.2L1912.0 1321.3L1913.4 1325.8L1914.8 1249.0L1916.3 1347.3L1917.8 1265.0L1919.0 1322.3L1920.5 1255.8L1921.8 1259.0L1923.2 1225.3L1924.1 1224.3L1924.6 1338.8L1926.2 1270.6L1927.7 1368.0L1929.2 1248.3L1930.8 1348.8L1932.3 1289.8L1933.8 1350.1L1935.3 1351.8L1936.7 1349.5L1938.0 1289.1L1939.4 1276.3L1940.8 1253.1L1942.4 1331.6L1943.5 1250.5L1944.7 1211.0L1944.8 1267.8L1945.9 1345.1L1947.1 1336.6L1948.5 1292.5L1950.0 1318.7L1951.3 1277.7L1952.7 1357.3L1954.0 1251.6L1955.5 1358.9L1956.7 1264.5L1957.9 1296.4L1959.2 1249.5L1960.3 1344.2L1961.4 1278.5L1962.9 1357.7L1964.1 1256.4L1965.2 1334.6L1966.8 1268.8L1968.1 1361.4L1969.3 1275.5L1970.4 1325.1L1971.9 1347.2L1973.1 1329.1L1974.6 1250.2L1975.9 1296.5L1977.5 1323.5L1979.0 1317.6L1980.3 1245.4L1981.5 1359.8L1982.7 1292.8L1982.9 1409.6L1984.3 1360.7L1985.9 1257.0L1987.4 1256.3L1989.0 1277.6L1990.3 1339.7L1991.6 1251.4L1992.9 1292.9L1994.5 1353.0L1995.7 1254.9L1997.0 1263.7L1998.4 1349.8L1999.6 1230.0L2000.8 1253.0L2002.3 1246.8L2003.8 1341.7L2005.1 1395.9L2005.3 1351.5L2006.7 1257.8L2008.3 1254.4L2009.6 1374.5L2010.9 1247.0L2012.1 1334.1L2013.6 1245.3L2015.2 1256.5L2016.5 1267.8L2017.8 1332.7L2019.4 1345.0L2020.5 1347.4L2021.8 1334.3L2023.0 1352.2L2024.3 1328.3L2025.7 1348.7L2027.0 1261.4L2028.4 1261.9L2029.8 1250.5L2030.5 1413.4L2031.2 1281.0L2032.6 1249.8L2034.1 1354.7L2035.7 1247.2L2037.0 1316.2L2038.4 1259.8L2038.5 1421.3L2039.5 1327.9L2040.8 1253.3L2042.4 1328.3L2043.8 1294.3L2045.1 1327.5L2046.5 1267.9L2047.8 1328.2L2048.9 1287.9L2050.4 1346.8L2051.2 1399.1L2051.7 1310.6L2052.9 1318.3L2054.1 1290.5L2055.7 1357.7L2057.2 1295.5L2058.9 1358.3L2060.3 1247.1L2061.8 1352.2L2063.2 1358.5L2064.5 1356.0L2066.1 1255.0L2067.7 1309.5L2069.2 1295.8L2070.3 1200.5L2070.4 1346.5L2072.0 1288.0L2073.5 1350.2L2074.8 1255.7L2076.3 1250.6L2077.4 1257.1L2078.9 1254.8L2080.4 1261.0L2081.6 1251.4L2083.0 1264.4L2084.3 1325.1L2085.9 1312.1L2087.4 1359.6L2088.7 1291.4L2090.2 1312.3L2091.7 1292.8L2093.2 1355.7L2094.5 1351.6L2095.8 1335.4L2097.3 1271.6L2098.7 1322.9L2100.3 1272.4L2101.8 1332.6L2103.4 1266.6L2104.8 1322.0L2106.3 1253.8L2107.5 1360.4L2109.1 1253.4L2110.0 1210.0L2110.2 1340.0L2111.6 1361.1L2112.7 1347.9L2114.1 1271.1L2115.2 1339.1L2116.5 1254.3L2117.9 1339.7L2119.1 1272.6L2120.7 1264.3L2122.0 1275.6L2123.4 1359.6L2124.9 1263.9L2126.1 1315.3L2127.6 1251.7L2128.9 1321.3L2129.0 1424.5L2130.2 1244.4L2131.6 1335.3L2132.8 1247.9L2134.3 1335.5L2135.7 1247.0L2137.0 1256.2L2138.4 1328.0L2139.6 1326.5L2141.2 1259.6L2142.4 1335.9L2143.9 1359.0L2145.5 1324.9L2146.8 1283.7L2148.1 1340.1L2149.6 1256.5L2151.0 1322.1L2152.2 1245.1L2153.6 1361.3L2155.0 1332.6L2156.6 1336.7L2158.2 1317.6L2159.5 1330.6L2161.1 1294.1L2162.3 1312.6L2163.7 1272.3L2165.0 1322.5L2166.4 1254.8L2167.2 1395.3L2168.0 1318.4L2169.3 1281.7L2170.7 1345.0L2171.8 1264.1L2173.4 1318.1L2174.7 1245.5L2175.8 1334.1L2176.7 1409.6L2177.2 1249.3L2178.6 1340.6L2180.2 1247.8L2181.3 1339.8L2182.6 1263.6L2183.1 1216.4L2184.0 1328.1L2185.3 1269.9L2186.9 1327.2L2188.0 1244.0L2189.2 1243.4L2190.4 1279.9L2191.0 1211.6L2191.6 1357.8L2193.0 1264.4L2194.6 1346.3L2195.8 1343.0L2197.1 1329.9L2198.5 1286.3L2199.6 1311.0L2201.0 1265.7L2201.2 1192.5L2202.5 1344.7L2204.1 1253.1L2205.3 1243.7L2206.7 1269.6L2208.3 1339.1L2209.8 1263.6L2211.4 1343.1L2212.8 1278.1L2213.9 1260.8L2215.4 1275.4L2216.7 1350.8L2217.8 1291.7L2219.0 1347.0L2220.2 1263.8L2221.5 1343.5L2222.8 1248.6L2224.1 1362.0L2225.6 1260.6L2226.8 1347.2L2228.3 1362.2L2229.1 1214.8L2229.5 1360.0L2230.7 1397.5L2231.1 1285.4L2232.5 1312.0L2234.0 1351.2L2235.6 1247.4L2237.2 1278.3L2238.6 1318.5L2239.7 1272.1L2240.9 1347.6L2242.2 1355.9L2243.5 1337.5L2244.8 1235.7L2246.2 1319.5L2247.6 1280.9L2249.0 1352.2L2250.4 1276.0L2251.9 1276.7L2253.0 1275.6L2254.5 1292.8L2256.1 1273.0L2257.3 1310.8L2258.8 1242.4L2260.1 1341.1L2261.6 1278.9L2263.0 1355.4L2263.5 1197.3L2264.4 1258.0L2265.6 1357.1L2266.9 1233.5L2268.2 1352.1L2269.7 1266.3L2271.2 1321.8L2272.3 1248.1L2273.7 1261.8L2275.0 1246.9L2276.5 1256.2L2277.6 1232.0L2279.2 1259.2L2280.0 1403.2L2280.5 1262.8L2281.7 1333.1L2282.8 1283.2L2284.1 1331.5L2285.7 1243.9L2286.9 1361.5L2288.1 1293.2L2289.7 1322.9L2290.8 1277.0L2292.3 1361.3L2293.6 1274.8L2294.7 1342.5L2295.9 1267.2L2297.2 1363.7L2298.6 1252.1L2299.0 1198.9L2300.1 1331.8L2301.6 1263.2L2303.2 1337.7L2304.6 1262.2L2306.1 1323.0L2307.4 1287.2L2308.9 1352.2L2310.0 1271.7L2311.1 1319.8L2311.8 1416.5L2312.3 1267.8L2313.5 1352.7L2315.1 1249.9L2316.5 1342.1L2318.0 1313.0L2319.4 1322.7L2320.8 1254.8L2321.9 1292.3L2323.1 1284.9L2324.5 1354.6L2325.6 1265.9L2326.8 1347.4L2328.2 1254.7L2329.8 1355.8L2331.0 1281.9L2332.1 1352.8L2333.7 1282.4L2334.0 1469.0L2335.2 1334.5L2336.7 1324.6L2337.9 1354.3L2339.0 1261.0L2340.4 1214.8L2340.6 1268.0L2341.8 1318.0L2343.0 1320.6L2344.3 1275.0L2345.6 1319.9L2346.9 1349.0L2348.0 1247.9L2348.3 1211.6L2349.3 1258.6L2350.3 1342.1L2352.0 1262.8L2353.1 1349.8L2354.1 1290.9L2354.7 1486.5L2355.4 1244.7L2356.9 1295.3L2358.1 1362.6"/>
<path stroke="#000" d="M351.0 1264.1L351.9 1270.0L352.8 1255.3L353.7 1270.6L354.6 1261.7L355.5 1279.4L356.4 1259.5L357.3 1266.5L358.2 1258.6L359.1 1265.6L360.0 1257.0L360.9 1268.8L361.8 1260.6L362.7 1270.3L363.6 1259.9L364.5 1267.1L365.4 1260.4L366.3 1268.6L367.2 1262.5L368.1 1269.9L369.0 1263.6L369.9 1271.4L370.8 1261.8L371.7 1272.0L372.6 1250.9L373.5 1271.3L374.4 1262.0L375.3 1268.0L376.2 1259.6L377.1 1276.2L378.0 1258.9L378.9 1269.0L379.8 1260.0L380.7 1277.4L381.6 1259.3L382.5 1268.4L383.4 1257.5L384.3 1267.0L385.2 1259.4L386.1 1267.4L387.0 1259.7L387.9 1278.4L388.8 1262.1L389.7 1268.4L390.6 1261.0L391.5 1269.8L392.4 1260.4L393.3 1269.3L394.2 1263.1L395.1 1269.6L396.0 1263.4L396.9 1271.3L397.8 1261.7L398.7 1268.9L399.6 1260.5L400.5 1270.6L401.4 1263.9L402.3 1272.9L403.2 1261.5L404.1 1270.3L405.0 1261.0L405.9 1270.7L406.8 1262.3L407.7 1272.7L408.6 1261.8L409.5 1272.6L410.4 1263.9L411.3 1270.7L412.2 1261.1L413.1 1271.2L414.0 1260.1L414.9 1283.2L415.8 1265.3L416.7 1270.3L417.6 1263.7L418.5 1273.9L419.4 1265.0L420.3 1274.1L421.2 1265.9L422.1 1274.0L423.0 1262.5L423.9 1274.4L424.8 1264.9L425.7 1271.3L426.6 1260.3L427.5 1274.1L428.4 1262.5L429.3 1274.5L430.2 1265.7L431.1 1274.2L432.0 1266.1L432.9 1274.6L433.8 1264.6L434.7 1275.8L435.6 1265.2L436.5 1273.3L437.4 1260.9L438.3 1271.9L439.2 1262.5L440.1 1270.1L441.0 1253.1L441.9 1265.6L442.8 1255.4L443.7 1265.3L444.6 1255.3L445.5 1264.4L446.4 1256.8L447.3 1265.0L448.2 1255.6L449.1 1264.8L450.0 1254.6L450.9 1264.3L451.8 1256.5L452.7 1267.0L453.6 1255.9L454.5 1268.6L455.4 1258.3L456.3 1269.7L457.2 1260.7L458.1 1270.0L459.0 1264.1L459.9 1270.8L460.8 1263.3L461.7 1275.3L462.6 1264.8L463.5 1273.1L464.4 1266.4L465.3 1273.7L466.2 1265.7L467.1 1272.1L468.0 1263.7L468.9 1273.5L469.8 1265.5L470.7 1272.2L471.6 1263.9L472.5 1271.2L473.4 1259.4L474.3 1275.1L475.2 1262.4L476.1 1274.4L477.0 1263.7L477.9 1271.5L478.8 1263.2L479.7 1271.8L480.6 1265.0L481.5 1274.2L482.4 1265.9L483.3 1272.3L484.2 1266.7L485.1 1274.4L486.0 1263.6L486.9 1274.2L487.8 1265.5L488.7 1274.6L489.6 1263.1L490.5 1273.4L491.4 1264.3L492.3 1274.4L493.2 1262.7L494.1 1273.7L495.0 1263.4L495.9 1276.6L496.8 1255.9L497.7 1268.5L498.6 1259.5L499.5 1267.2L500.4 1257.0L501.3 1268.4L502.2 1255.9L503.1 1270.5L504.0 1258.4L504.9 1266.9L505.8 1254.5L506.7 1265.8L507.6 1256.2L508.5 1265.5L509.4 1256.9L510.3 1268.7L511.2 1259.0L512.1 1269.7L513.0 1263.3L513.9 1269.7L514.8 1261.6L515.7 1279.9L516.6 1261.5L517.5 1273.6L518.4 1264.9L519.3 1269.3L520.2 1261.5L521.1 1270.6L522.0 1259.1L522.9 1266.9L523.8 1254.1L524.7 1262.7L525.6 1253.0L526.5 1261.8L527.4 1248.9L528.3 1257.1L529.2 1249.9L530.1 1256.6L531.0 1245.2L531.9 1257.1L532.8 1241.1L533.7 1259.1L534.6 1249.8L535.5 1269.2L536.4 1254.5L537.3 1265.0L538.2 1257.2L539.1 1265.5L540.0 1261.0L540.9 1271.2L541.8 1252.2L542.7 1271.0L543.6 1264.7L544.5 1272.0L545.4 1264.9L546.3 1273.4L547.2 1263.1L548.1 1273.3L549.0 1264.9L549.9 1274.5L550.8 1258.6L551.7 1274.0L552.6 1262.7L553.5 1274.2L554.4 1262.1L555.3 1274.0L556.2 1265.6L557.1 1274.8L558.0 1264.5L558.9 1271.2L559.8 1263.1L560.7 1272.7L561.6 1262.3L562.5 1272.6L563.4 1264.5L564.3 1272.3L565.2 1260.6L566.1 1270.1L567.0 1260.2L567.9 1269.6L568.8 1262.9L569.7 1269.8L570.6 1259.2L571.5 1269.3L572.4 1258.7L573.3 1267.2L574.2 1260.5L575.1 1271.0L576.0 1261.6L576.9 1271.6L577.8 1263.6L578.7 1272.5L579.6 1263.4L580.5 1271.8L581.4 1265.4L582.3 1274.0L583.2 1263.1L584.1 1268.3L585.0 1260.0L585.9 1267.9L586.8 1255.4L587.7 1261.9L588.6 1251.6L589.5 1260.7L590.4 1250.3L591.3 1257.4L592.2 1250.0L593.1 1256.1L594.0 1250.4L594.9 1256.7L595.8 1250.0L596.7 1261.3L597.6 1252.3L598.5 1262.9L599.4 1253.7L600.3 1263.8L601.2 1256.1L602.1 1267.0L603.0 1259.4L603.9 1266.1L604.8 1261.9L605.7 1268.4L606.6 1262.3L607.5 1273.5L608.4 1260.6L609.3 1273.1L610.2 1260.8L611.1 1271.4L612.0 1262.8L612.9 1271.9L613.8 1262.6L614.7 1273.6L615.6 1265.1L616.5 1273.6L617.4 1261.9L618.3 1274.2L619.2 1264.3L620.1 1270.4L621.0 1260.8L621.9 1268.4L622.8 1258.2L623.7 1265.9L624.6 1254.8L625.5 1260.1L626.4 1252.1L627.3 1257.1L628.2 1248.2L629.1 1257.6L630.0 1245.7L630.9 1252.3L631.8 1246.6L632.7 1250.3L633.6 1244.5L634.5 1251.3L635.4 1245.5L636.3 1254.2L637.2 1244.1L638.1 1254.8L639.0 1244.2L639.9 1253.0L640.8 1247.9L641.7 1258.4L642.6 1254.9L643.5 1265.6L644.4 1255.0L645.3 1268.9L646.2 1260.8L647.1 1263.5L648.0 1247.8L648.9 1260.4L649.8 1250.6L650.7 1254.3L651.6 1244.8L652.5 1256.3L653.4 1245.9L654.3 1252.7L655.2 1244.5L656.1 1254.5L657.0 1248.4L657.9 1256.6L658.8 1248.8L659.7 1257.4L660.6 1250.3L661.5 1261.1L662.4 1251.9L663.3 1261.6L664.2 1257.2L665.1 1269.5L666.0 1261.6L666.9 1269.2L667.8 1263.1L668.7 1270.3L669.6 1263.1L670.5 1269.7L671.4 1264.4L672.3 1272.1L673.2 1263.7L674.1 1268.7L675.0 1261.4L675.9 1270.7L676.8 1262.9L677.7 1271.6L678.6 1263.1L679.5 1268.9L680.4 1263.2L681.3 1266.7L682.2 1259.0L683.1 1261.8L684.0 1254.1L684.9 1258.2L685.8 1251.8L686.7 1259.9L687.6 1249.0L688.5 1259.3L689.4 1250.6L690.3 1259.2L691.2 1251.9L692.1 1261.9L693.0 1253.3L693.9 1264.3L694.8 1258.0L695.7 1266.0L696.6 1258.4L697.5 1271.1L698.4 1262.9L699.3 1272.1L700.2 1259.8L701.1 1266.5L702.0 1249.8L702.9 1258.1L703.8 1248.5L704.7 1257.0L705.6 1246.6L706.5 1254.2L707.4 1248.5L708.3 1259.9L709.2 1254.2L710.1 1263.5L711.0 1260.0L711.9 1271.4L712.8 1262.1L713.7 1265.7L714.6 1255.3L715.5 1258.4L716.4 1249.2L717.3 1257.6L718.2 1247.9L719.1 1254.9L720.0 1245.7L720.9 1254.8L721.8 1245.7L722.7 1251.9L723.6 1235.7L724.5 1253.1L725.4 1236.9L726.3 1251.2L727.2 1244.7L728.1 1256.0L729.0 1246.5L729.9 1254.5L730.8 1246.7L731.7 1255.4L732.6 1251.3L733.5 1262.1L734.4 1255.1L735.3 1266.8L736.2 1257.9L737.1 1268.6L738.0 1258.8L738.9 1268.4L739.8 1262.1L740.7 1272.7L741.6 1263.2L742.5 1270.8L743.4 1263.3L744.3 1269.4L745.2 1263.6L746.1 1269.9L747.0 1260.6L747.9 1268.7L748.8 1263.8L749.7 1267.8L750.6 1261.6L751.5 1268.5L752.4 1260.1L753.3 1270.2L754.2 1261.2L755.1 1266.5L756.0 1261.7L756.9 1271.0L757.8 1260.0L758.7 1266.4L759.6 1252.7L760.5 1252.9L761.4 1242.0L762.3 1246.6L763.2 1239.8L764.1 1245.2L765.0 1239.7L765.9 1245.8L766.8 1238.7L767.7 1244.5L768.6 1237.5L769.5 1245.0L770.4 1238.1L771.3 1245.0L772.2 1239.4L773.1 1243.8L774.0 1239.1L774.9 1244.7L775.8 1240.5L776.7 1245.2L777.6 1239.0L778.5 1246.4L779.4 1240.8L780.3 1245.5L781.2 1240.7L782.1 1246.8L783.0 1240.5L783.9 1246.7L784.8 1240.3L785.7 1251.2L786.6 1249.8L787.5 1261.1L788.4 1257.6L789.3 1261.0L790.2 1254.9L791.1 1256.3L792.0 1248.6L792.9 1253.0L793.8 1247.6L794.7 1250.5L795.6 1246.6L796.5 1252.7L797.4 1252.4L798.3 1264.7L799.2 1262.5L800.1 1269.1L801.0 1264.1L801.9 1269.8L802.8 1260.4L803.7 1263.1L804.6 1253.8L805.5 1256.8L806.4 1245.4L807.3 1249.6L808.2 1240.2L809.1 1244.5L810.0 1237.5L810.9 1243.2L811.8 1236.4L812.7 1244.2L813.6 1238.1L814.5 1243.1L815.4 1234.3L816.3 1244.1L817.2 1238.9L818.1 1244.7L819.0 1237.9L819.9 1251.8L820.8 1248.7L821.7 1257.6L822.6 1254.8L823.5 1263.5L824.4 1258.2L825.3 1268.7L826.2 1259.7L827.1 1261.2L828.0 1252.6L828.9 1255.1L829.8 1247.2L830.7 1251.0L831.6 1242.6L832.5 1249.1L833.4 1241.6L834.3 1246.0L835.2 1238.4L836.1 1251.7L837.0 1238.7L837.9 1245.1L838.8 1239.9L839.7 1245.5L840.6 1238.9L841.5 1245.8L842.4 1238.6L843.3 1248.1L844.2 1239.3L845.1 1246.1L846.0 1240.9L846.9 1245.7L847.8 1240.8L848.7 1248.8L849.6 1247.6L850.5 1257.5L851.4 1258.6L852.3 1265.8L853.2 1260.7L854.1 1273.5L855.0 1263.4L855.9 1272.0L856.8 1262.8L857.7 1268.6L858.6 1263.9L859.5 1269.8L860.4 1263.0L861.3 1269.4L862.2 1261.7L863.1 1269.8L864.0 1262.9L864.9 1268.5L865.8 1255.7L866.7 1259.3L867.6 1249.0L868.5 1255.8L869.4 1243.0L870.3 1249.1L871.2 1241.3L872.1 1247.5L873.0 1240.7L873.9 1244.9L874.8 1238.9L875.7 1244.9L876.6 1237.6L877.5 1249.0L878.4 1239.4L879.3 1245.7L880.2 1239.9L881.1 1243.1L882.0 1238.1L882.9 1243.1L883.8 1239.3L884.7 1245.2L885.6 1237.9L886.5 1243.2L887.4 1238.9L888.3 1244.8L889.2 1237.9L890.1 1243.7L891.0 1235.9L891.9 1245.0L892.8 1238.8L893.7 1244.7L894.6 1237.4L895.5 1244.9L896.4 1234.5L897.3 1243.5L898.2 1238.7L899.1 1244.0L900.0 1233.7L900.9 1243.8L901.8 1239.0L902.7 1242.9L903.6 1238.5L904.5 1244.4L905.4 1237.3L906.3 1247.6L907.2 1246.0L908.1 1254.5L909.0 1253.1L909.9 1264.3L910.8 1259.6L911.7 1267.5L912.6 1263.4L913.5 1267.5L914.4 1261.6L915.3 1268.7L916.2 1261.6L917.1 1267.0L918.0 1261.2L918.9 1263.2L919.8 1252.5L920.7 1254.6L921.6 1242.7L922.5 1249.1L923.4 1244.1L924.3 1246.7L925.2 1241.5L926.1 1247.5L927.0 1242.0L927.9 1246.2L928.8 1241.6L929.7 1245.4L930.6 1235.6L931.5 1247.2L932.4 1239.7L933.3 1247.2L934.2 1240.7L935.1 1246.0L936.0 1240.8L936.9 1251.0L937.8 1239.0L938.7 1246.6L939.6 1239.1L940.5 1245.1L941.4 1238.7L942.3 1245.0L943.2 1239.2L944.1 1244.7L945.0 1235.6L945.9 1245.5L946.8 1239.4L947.7 1245.9L948.6 1240.5L949.5 1245.1L950.4 1238.4L951.3 1245.9L952.2 1239.6L953.1 1244.4L954.0 1238.5L954.9 1245.6L955.8 1238.3L956.7 1244.4L957.6 1239.8L958.5 1244.2L959.4 1237.6L960.3 1245.4L961.2 1237.9L962.1 1244.7L963.0 1239.3L963.9 1243.5L964.8 1237.3L965.7 1244.2L966.6 1239.3L967.5 1243.5L968.4 1238.4L969.3 1243.3L970.2 1239.2L971.1 1244.0L972.0 1237.2L972.9 1248.0L973.8 1252.7L974.7 1260.6L975.6 1256.9L976.5 1264.3L977.4 1247.3L978.3 1251.6L979.2 1240.9L980.1 1251.1L981.0 1241.5L981.9 1247.0L982.8 1239.1L983.7 1247.3L984.6 1241.2L985.5 1246.8L986.4 1240.1L987.3 1245.5L988.2 1240.4L989.1 1245.6L990.0 1240.6L990.9 1246.2L991.8 1239.0L992.7 1244.5L993.6 1240.5L994.5 1245.9L995.4 1240.6L996.3 1245.3L997.2 1239.0L998.1 1244.8L999.0 1240.3L999.9 1245.3L1000.8 1240.7L1001.7 1246.1L1002.6 1238.2L1003.5 1244.6L1004.4 1238.9L1005.3 1244.0L1006.2 1239.0L1007.1 1244.4L1008.0 1238.6L1008.9 1243.4L1009.8 1238.9L1010.7 1244.8L1011.6 1246.4L1012.5 1256.2L1013.4 1254.5L1014.3 1263.9L1015.2 1258.5L1016.1 1261.3L1017.0 1251.6L1017.9 1253.8L1018.8 1245.0L1019.7 1248.7L1020.6 1239.4L1021.5 1244.2L1022.4 1237.4L1023.3 1242.8L1024.2 1236.9L1025.1 1247.4L1026.0 1235.9L1026.9 1241.3L1027.8 1230.3L1028.7 1242.5L1029.6 1235.8L1030.5 1243.2L1031.4 1235.9L1032.3 1243.0L1033.2 1235.8L1034.1 1243.1L1035.0 1237.6L1035.9 1243.0L1036.8 1237.5L1037.7 1242.1L1038.6 1237.1L1039.5 1241.7L1040.4 1236.6L1041.3 1243.0L1042.2 1238.5L1043.1 1242.5L1044.0 1239.3L1044.9 1244.8L1045.8 1238.9L1046.7 1244.6L1047.6 1240.3L1048.5 1248.0L1049.4 1249.2L1050.3 1260.4L1051.2 1259.4L1052.1 1258.1L1053.0 1248.2L1053.9 1248.7L1054.8 1240.8L1055.7 1244.8L1056.6 1238.6L1057.5 1243.8L1058.4 1238.4L1059.3 1242.5L1060.2 1238.9L1061.1 1242.2L1062.0 1238.7L1062.9 1243.6L1063.8 1237.5L1064.7 1243.8L1065.6 1237.4L1066.5 1243.0L1067.4 1239.1L1068.3 1242.0L1069.2 1238.5L1070.1 1242.5L1071.0 1237.3L1071.9 1243.1L1072.8 1239.1L1073.7 1242.8L1074.6 1237.7L1075.5 1243.1L1076.4 1238.9L1077.3 1243.8L1078.2 1238.9L1079.1 1248.5L1080.0 1249.2L1080.9 1260.3L1081.8 1253.3L1082.7 1254.6L1083.6 1244.2L1084.5 1243.2L1085.4 1237.1L1086.3 1244.5L1087.2 1238.4L1088.1 1244.5L1089.0 1238.3L1089.9 1242.7L1090.8 1238.3L1091.7 1243.5L1092.6 1237.9L1093.5 1244.2L1094.4 1237.3L1095.3 1243.8L1096.2 1237.5L1097.1 1242.1L1098.0 1237.6L1098.9 1245.8L1099.8 1244.0L1100.7 1252.5L1101.6 1251.9L1102.5 1256.0L1103.4 1246.7L1104.3 1252.6L1105.2 1238.9L1106.1 1242.4L1107.0 1238.6L1107.9 1243.6L1108.8 1238.5L1109.7 1242.6L1110.6 1237.5L1111.5 1243.5L1112.4 1237.4L1113.3 1242.7L1114.2 1238.7L1115.1 1244.0L1116.0 1238.8L1116.9 1244.0L1117.8 1238.3L1118.7 1242.6L1119.6 1239.1L1120.5 1243.2L1121.4 1236.9L1122.3 1242.1L1123.2 1238.0L1124.1 1243.3L1125.0 1237.1L1125.9 1242.8L1126.8 1245.5L1127.7 1255.1L1128.6 1258.3L1129.5 1262.0L1130.4 1248.2L1131.3 1250.0L1132.2 1240.1L1133.1 1244.7L1134.0 1240.6L1134.9 1246.1L1135.8 1241.6L1136.7 1246.3L1137.6 1245.8L1138.5 1255.1L1139.4 1257.6L1140.3 1265.1L1141.2 1253.6L1142.1 1252.3L1143.0 1242.3L1143.9 1244.3L1144.8 1239.7L1145.7 1244.0L1146.6 1238.4L1147.5 1243.7L1148.4 1238.3L1149.3 1243.7L1150.2 1239.5L1151.1 1243.9L1152.0 1238.4L1152.9 1243.3L1153.8 1239.6L1154.7 1247.5L1155.6 1237.4L1156.5 1243.9L1157.4 1237.6L1158.3 1242.0L1159.2 1237.6L1160.1 1242.8L1161.0 1238.3L1161.9 1242.8L1162.8 1236.8L1163.7 1242.1L1164.6 1241.3L1165.5 1251.8L1166.4 1253.4L1167.3 1261.0L1168.2 1251.2L1169.1 1251.7L1170.0 1242.1L1170.9 1244.1L1171.8 1240.3L1172.7 1243.7L1173.6 1239.6L1174.5 1243.6L1175.4 1238.9L1176.3 1243.6L1177.2 1238.6L1178.1 1243.9L1179.0 1238.8L1179.9 1243.4L1180.8 1233.2L1181.7 1242.5L1182.6 1238.8L1183.5 1242.3L1184.4 1239.4L1185.3 1243.0L1186.2 1239.1L1187.1 1247.0L1188.0 1247.0L1188.9 1256.9L1189.8 1253.6L1190.7 1253.0L1191.6 1243.0L1192.5 1244.3L1193.4 1239.5L1194.3 1244.9L1195.2 1239.4L1196.1 1242.5L1197.0 1238.2L1197.9 1242.7L1198.8 1238.7L1199.7 1242.3L1200.6 1238.2L1201.5 1242.4L1202.4 1238.0L1203.3 1243.4L1204.2 1238.5L1205.1 1242.7L1206.0 1238.8L1206.9 1243.5L1207.8 1237.8L1208.7 1245.7L1209.6 1239.2L1210.5 1243.1L1211.4 1239.6L1212.3 1244.0L1213.2 1238.0L1214.1 1244.8L1215.0 1243.0L1215.9 1251.5L1216.8 1245.5L1217.7 1248.9L1218.6 1242.8L1219.5 1243.9L1220.4 1239.0L1221.3 1244.8L1222.2 1239.0L1223.1 1245.3L1224.0 1239.5L1224.9 1245.1L1225.8 1241.7L1226.7 1245.1L1227.6 1241.5L1228.5 1250.4L1229.4 1248.5L1230.3 1249.7L1231.2 1243.9L1232.1 1249.3L1233.0 1241.4L1233.9 1247.3L1234.8 1243.3L1235.7 1247.8L1236.6 1244.6L1237.5 1247.8L1238.4 1248.0L1239.3 1257.5L1240.2 1255.9L1241.1 1257.7L1242.0 1247.2L1242.9 1247.8L1243.8 1240.3L1244.7 1245.0L1245.6 1240.8L1246.5 1245.9L1247.4 1241.0L1248.3 1244.7L1249.2 1241.4L1250.1 1244.2L1251.0 1239.2L1251.9 1244.3L1252.8 1240.5L1253.7 1244.9L1254.6 1239.4L1255.5 1243.6L1256.4 1240.3L1257.3 1245.3L1258.2 1239.6L1259.1 1244.3L1260.0 1241.5L1260.9 1245.6L1261.8 1244.0L1262.7 1248.4L1263.6 1242.3L1264.5 1245.0L1265.4 1240.0L1266.3 1244.3L1267.2 1238.5L1268.1 1243.8L1269.0 1239.8L1269.9 1245.3L1270.8 1239.0L1271.7 1244.5L1272.6 1239.5L1273.5 1244.6L1274.4 1240.7L1275.3 1246.1L1276.2 1240.2L1277.1 1244.4L1278.0 1240.9L1278.9 1245.6L1279.8 1241.7L1280.7 1251.6L1281.6 1240.7L1282.5 1249.4L1283.4 1247.8L1284.3 1253.9L1285.2 1247.8L1286.1 1249.9L1287.0 1243.7L1287.9 1244.9L1288.8 1240.2L1289.7 1246.0L1290.6 1242.1L1291.5 1247.2L1292.4 1242.2L1293.3 1248.0L1294.2 1241.9L1295.1 1251.0L1296.0 1251.7L1296.9 1260.3L1297.8 1254.3L1298.7 1255.3L1299.6 1247.1L1300.5 1248.0L1301.4 1242.1L1302.3 1246.3L1303.2 1241.7L1304.1 1247.6L1305.0 1243.2L1305.9 1247.0L1306.8 1242.2L1307.7 1246.9L1308.6 1242.9L1309.5 1246.6L1310.4 1242.9L1311.3 1251.7L1312.2 1242.6L1313.1 1253.2L1314.0 1242.8L1314.9 1250.5L1315.8 1246.0L1316.7 1255.2L1317.6 1249.9L1318.5 1263.3L1319.4 1251.4L1320.3 1252.2L1321.2 1242.4L1322.1 1247.3L1323.0 1243.8L1323.9 1248.6L1324.8 1238.9L1325.7 1247.9L1326.6 1244.8L1327.5 1248.2L1328.4 1245.5L1329.3 1251.7L1330.2 1249.1L1331.1 1254.9L1332.0 1248.6L1332.9 1251.6L1333.8 1244.9L1334.7 1247.8L1335.6 1244.9L1336.5 1247.4L1337.4 1243.5L1338.3 1247.9L1339.2 1244.0L1340.1 1247.4L1341.0 1243.5L1341.9 1246.9L1342.8 1236.3L1343.7 1248.1L1344.6 1243.2L1345.5 1248.4L1346.4 1243.7L1347.3 1249.6L1348.2 1242.2L1349.1 1252.7L1350.0 1245.3L1350.9 1252.0L1351.8 1245.8L1352.7 1255.6L1353.6 1246.1L1354.5 1255.6L1355.4 1247.1L1356.3 1255.6L1357.2 1245.9L1358.1 1258.6L1359.0 1244.8L1359.9 1256.1L1360.8 1247.1L1361.7 1256.4L1362.6 1247.2L1363.5 1258.8L1364.4 1247.5L1365.3 1254.0L1366.2 1245.6L1367.1 1258.0L1368.0 1245.4L1368.9 1257.1L1369.8 1243.8L1370.7 1256.7L1371.6 1247.3L1372.5 1255.6L1373.4 1245.9L1374.3 1258.3L1375.2 1247.9L1376.1 1258.2L1377.0 1245.1L1377.9 1253.7L1378.8 1244.4L1379.7 1253.6L1380.6 1245.7L1381.5 1256.7L1382.4 1243.2L1383.3 1257.1L1384.2 1247.1L1385.1 1255.0L1386.0 1245.9L1386.9 1263.7L1387.8 1247.3L1388.7 1256.1L1389.6 1245.5L1390.5 1253.6L1391.4 1246.2L1392.3 1253.7L1393.2 1246.8L1394.1 1254.9L1395.0 1241.1L1395.9 1257.4L1396.8 1243.6L1397.7 1257.8L1398.6 1246.9L1399.5 1255.5L1400.4 1247.4L1401.3 1259.3L1402.2 1246.9L1403.1 1255.1L1404.0 1246.0L1404.9 1257.7L1405.8 1246.6L1406.7 1256.0L1407.6 1248.0L1408.5 1255.4L1409.4 1244.6L1410.3 1257.6L1411.2 1249.4L1412.1 1257.5L1413.0 1245.7L1413.9 1260.0L1414.8 1246.0L1415.7 1259.6L1416.6 1249.5L1417.5 1256.7L1418.4 1248.0L1419.3 1258.6L1420.2 1249.6L1421.1 1260.0L1422.0 1247.9L1422.9 1258.6L1423.8 1248.1L1424.7 1256.3L1425.6 1247.3L1426.5 1256.6L1427.4 1247.9L1428.3 1259.7L1429.2 1236.6L1430.1 1259.1L1431.0 1249.6L1431.9 1257.3L1432.8 1245.8L1433.7 1256.3L1434.6 1241.4L1435.5 1271.2L1436.4 1234.6L1437.3 1255.5L1438.2 1245.6L1439.1 1257.3L1440.0 1247.0L1440.9 1258.4L1441.8 1244.2L1442.7 1258.1L1443.6 1249.2L1444.5 1256.9L1445.4 1253.2L1446.3 1257.6L1447.2 1250.8L1448.1 1260.0L1449.0 1253.6L1449.9 1258.3L1450.8 1254.3L1451.7 1259.3L1452.6 1255.2L1453.5 1258.5L1454.4 1254.5L1455.3 1258.9L1456.2 1251.6L1457.1 1259.1L1458.0 1254.3L1458.9 1258.9L1459.8 1255.1L1460.7 1258.3L1461.6 1252.9L1462.5 1259.7L1463.4 1254.8L1464.3 1258.5L1465.2 1254.3L1466.1 1259.2L1467.0 1254.7L1467.9 1258.4L1468.8 1253.4L1469.7 1257.8L1470.6 1252.8L1471.5 1258.4L1472.4 1252.9L1473.3 1260.2L1474.2 1254.3L1475.1 1258.3L1476.0 1254.8L1476.9 1258.7L1477.8 1253.1L1478.7 1259.5L1479.6 1254.0L1480.5 1259.4L1481.4 1253.4L1482.3 1258.4L1483.2 1252.8L1484.1 1259.3L1485.0 1252.7L1485.9 1257.4L1486.8 1254.5L1487.7 1257.5L1488.6 1252.8L1489.5 1259.0L1490.4 1252.6L1491.3 1259.0L1492.2 1252.0L1493.1 1258.8L1494.0 1253.9L1494.9 1259.0L1495.8 1252.5L1496.7 1258.7L1497.6 1252.8L1498.5 1258.4L1499.4 1253.0L1500.3 1262.6L1501.2 1251.9L1502.1 1258.5L1503.0 1247.8L1503.9 1256.9L1504.8 1252.2L1505.7 1258.3L1506.6 1252.1L1507.5 1256.7L1508.4 1252.3L1509.3 1257.4L1510.2 1252.7L1511.1 1257.7L1512.0 1251.4L1512.9 1257.0L1513.8 1251.5L1514.7 1261.6L1515.6 1250.9L1516.5 1257.2L1517.4 1252.0L1518.3 1255.1L1519.2 1251.1L1520.1 1255.4L1521.0 1251.8L1521.9 1255.4L1522.8 1250.8L1523.7 1257.6L1524.6 1251.8L1525.5 1255.8L1526.4 1251.1L1527.3 1258.0L1528.2 1251.2L1529.1 1256.7L1530.0 1250.1L1530.9 1257.4L1531.8 1249.8L1532.7 1255.5L1533.6 1250.8L1534.5 1256.0L1535.4 1250.8L1536.3 1256.6L1537.2 1251.0L1538.1 1255.5L1539.0 1250.9L1539.9 1254.5L1540.8 1249.9L1541.7 1256.0L1542.6 1250.4L1543.5 1255.4L1544.4 1249.8L1545.3 1256.4L1546.2 1249.7L1547.1 1255.1L1548.0 1250.4L1548.9 1255.3L1549.8 1248.6L1550.7 1252.8L1551.6 1246.6L1552.5 1242.1L1553.4 1200.9L1554.3 1166.3L1555.2 1146.5L1556.1 1148.4L1557.0 1179.6L1557.9 1215.1L1558.8 1243.0L1559.7 1252.4L1560.6 1246.9L1561.5 1252.5L1562.4 1249.4L1563.3 1254.0L1564.2 1248.4L1565.1 1260.3L1566.0 1248.8L1566.9 1256.2L1567.8 1245.4L1568.7 1257.8L1569.6 1250.7L1570.5 1257.6L1571.4 1248.3L1572.3 1254.3L1573.2 1249.1L1574.1 1256.2L1575.0 1250.3L1575.9 1255.9L1576.8 1248.9L1577.7 1256.2L1578.6 1250.1L1579.5 1255.5L1580.4 1250.1L1581.3 1261.6L1582.2 1250.7L1583.1 1258.1L1584.0 1250.5L1584.9 1256.2L1585.8 1250.8L1586.7 1253.7L1587.6 1249.3L1588.5 1255.2L1589.4 1250.6L1590.3 1259.3L1591.2 1249.2L1592.1 1256.2L1593.0 1249.5L1593.9 1254.5L1594.8 1249.1L1595.7 1254.6L1596.6 1250.2L1597.5 1254.9L1598.4 1248.6L1599.3 1256.1L1600.2 1249.9L1601.1 1254.9L1602.0 1248.3L1602.9 1256.0L1603.8 1248.7L1604.7 1255.0L1605.6 1250.6L1606.5 1255.6L1607.4 1248.5L1608.3 1254.6L1609.2 1248.9L1610.1 1254.3L1611.0 1250.1L1611.9 1255.1L1612.8 1249.0L1613.7 1254.0L1614.6 1249.1L1615.5 1255.3L1616.4 1249.2L1617.3 1254.7L1618.2 1250.3L1619.1 1255.9L1620.0 1248.4L1620.9 1253.8L1621.8 1249.7L1622.7 1254.4L1623.6 1249.8L1624.5 1255.7L1625.4 1248.7L1626.3 1255.6L1627.2 1250.6L1628.1 1256.0L1629.0 1249.6L1629.9 1255.9L1630.8 1250.8L1631.7 1254.3L1632.6 1248.8L1633.5 1260.6L1634.4 1249.7L1635.3 1255.2L1636.2 1250.2L1637.1 1253.8L1638.0 1250.4L1638.9 1253.7L1639.8 1250.7L1640.7 1254.4L1641.6 1249.7L1642.5 1255.0L1643.4 1248.9L1644.3 1255.7L1645.2 1249.3L1646.1 1256.2L1647.0 1249.6L1647.9 1254.1L1648.8 1250.3L1649.7 1253.9L1650.6 1250.3L1651.5 1255.1L1652.4 1249.2L1653.3 1255.8L1654.2 1249.4L1655.1 1254.3L1656.0 1250.7L1656.9 1256.1L1657.8 1249.4L1658.7 1258.6L1659.6 1249.6L1660.5 1254.4L1661.4 1249.7L1662.3 1253.8L1663.2 1250.6L1664.1 1253.7L1665.0 1250.2L1665.9 1255.6L1666.8 1250.4L1667.7 1255.1L1668.6 1250.0L1669.5 1259.7L1670.4 1247.7L1671.3 1255.5L1672.2 1249.8L1673.1 1254.3L1674.0 1249.9L1674.9 1254.7L1675.8 1247.2L1676.7 1255.2L1677.6 1246.9L1678.5 1254.7L1679.4 1247.4L1680.3 1255.3L1681.2 1245.8L1682.1 1255.1L1683.0 1245.1L1683.9 1252.6L1684.8 1243.0L1685.7 1249.9L1686.6 1239.7L1687.5 1249.2L1688.4 1236.0L1689.3 1244.1L1690.2 1234.0L1691.1 1244.8L1692.0 1230.0L1692.9 1237.8L1693.8 1226.2L1694.7 1234.7L1695.6 1221.9L1696.5 1229.0L1697.4 1214.8L1698.3 1225.6L1699.2 1214.2L1700.1 1222.3L1701.0 1207.6L1701.9 1218.0L1702.8 1202.0L1703.7 1213.3L1704.6 1201.4L1705.5 1211.0L1706.4 1199.3L1707.3 1208.8L1708.2 1195.6L1709.1 1207.1L1710.0 1193.5L1710.9 1203.2L1711.8 1192.2L1712.7 1205.3L1713.6 1190.6L1714.5 1205.2L1715.4 1191.2L1716.3 1205.1L1717.2 1195.7L1718.1 1203.7L1719.0 1193.0L1719.9 1202.6L1720.8 1197.1L1721.7 1207.3L1722.6 1198.3L1723.5 1211.6L1724.4 1199.2L1725.3 1212.6L1726.2 1203.0L1727.1 1216.5L1728.0 1206.9L1728.9 1223.4L1729.8 1213.4L1730.7 1225.3L1731.6 1216.5L1732.5 1230.1L1733.4 1222.3L1734.3 1238.2L1735.2 1229.1L1736.1 1239.5L1737.0 1230.7L1737.9 1240.4L1738.8 1235.5L1739.7 1243.5L1740.6 1235.4L1741.5 1243.9L1742.4 1239.2L1743.3 1245.6L1744.2 1240.8L1745.1 1245.8L1746.0 1238.7L1746.9 1246.8L1747.8 1239.6L1748.7 1244.7L1749.6 1240.3L1750.5 1245.9L1751.4 1239.7L1752.3 1244.9L1753.2 1238.7L1754.1 1246.1L1755.0 1240.0L1755.9 1244.5L1756.8 1239.8L1757.7 1243.8L1758.6 1238.3L1759.5 1246.4L1760.4 1237.9L1761.3 1245.4L1762.2 1239.6L1763.1 1248.9L1764.0 1238.8L1764.9 1243.3L1765.8 1238.4L1766.7 1248.2L1767.6 1238.5L1768.5 1244.8L1769.4 1239.4L1770.3 1245.7L1771.2 1237.5L1772.1 1243.0L1773.0 1237.5L1773.9 1243.1L1774.8 1238.3L1775.7 1243.6L1776.6 1236.9L1777.5 1245.2L1778.4 1238.0L1779.3 1242.6L1780.2 1238.3L1781.1 1245.1L1782.0 1239.1L1782.9 1242.4L1783.8 1238.1L1784.7 1247.2L1785.6 1236.8L1786.5 1244.6L1787.4 1238.7L1788.3 1243.3L1789.2 1236.7L1790.1 1243.8L1791.0 1237.6L1791.9 1243.8L1792.8 1236.9L1793.7 1243.0L1794.6 1237.8L1795.5 1243.7L1796.4 1236.1L1797.3 1243.5L1798.2 1236.6L1799.1 1243.2L1800.0 1236.9L1800.9 1246.0L1801.8 1237.2L1802.7 1243.5L1803.6 1231.8L1804.5 1241.3L1805.4 1236.7L1806.3 1241.3L1807.2 1235.9L1808.1 1243.5L1809.0 1237.7L1809.9 1241.0L1810.8 1235.8L1811.7 1242.6L1812.6 1236.2L1813.5 1242.2L1814.4 1235.9L1815.3 1241.3L1816.2 1231.4L1817.1 1240.9L1818.0 1235.8L1818.9 1240.3L1819.8 1237.1L1820.7 1240.3L1821.6 1235.0L1822.5 1240.7L1823.4 1236.5L1824.3 1241.5L1825.2 1235.0L1826.1 1240.8L1827.0 1236.9L1827.9 1239.8L1828.8 1236.8L1829.7 1240.8L1830.6 1236.1L1831.5 1241.0L1832.4 1236.5L1833.3 1239.4L1834.2 1236.2L1835.1 1247.0L1836.0 1236.0L1836.9 1240.3L1837.8 1233.7L1838.7 1240.2L1839.6 1235.3L1840.5 1238.9L1841.4 1233.8L1842.3 1240.7L1843.2 1234.2L1844.1 1238.9L1845.0 1234.3L1845.9 1238.6L1846.8 1235.2L1847.7 1239.1L1848.6 1235.4L1849.5 1238.3L1850.4 1234.0L1851.3 1239.3L1852.2 1232.8L1853.1 1240.2L1854.0 1234.2L1854.9 1238.7L1855.8 1233.2L1856.7 1238.8L1857.6 1233.4L1858.5 1239.2L1859.4 1233.9L1860.3 1244.8L1861.2 1232.9L1862.1 1239.1L1863.0 1234.5L1863.9 1238.8L1864.8 1234.2L1865.7 1238.3L1866.6 1231.9L1867.5 1238.3L1868.4 1233.1L1869.3 1237.1L1870.2 1231.9L1871.1 1238.9L1872.0 1231.8L1872.9 1238.3L1873.8 1233.4L1874.7 1237.7L1875.6 1233.5L1876.5 1237.1L1877.4 1232.9L1878.3 1238.3L1879.2 1231.5L1880.1 1237.9L1881.0 1231.6L1881.9 1238.1L1882.8 1233.0L1883.7 1238.8L1884.6 1233.4L1885.5 1237.6L1886.4 1233.0L1887.3 1239.2L1888.2 1233.1L1889.1 1238.7L1890.0 1230.8L1890.9 1237.3L1891.8 1231.4L1892.7 1237.6L1893.6 1225.7L1894.5 1237.2L1895.4 1232.7L1896.3 1238.4L1897.2 1231.5L1898.1 1236.9L1899.0 1232.9L1899.9 1239.0L1900.8 1232.4L1901.7 1237.3L1902.6 1231.3L1903.5 1239.1L1904.4 1231.9L1905.3 1239.0L1906.2 1233.0L1907.1 1238.1L1908.0 1233.6L1908.9 1236.6L1909.8 1231.7L1910.7 1237.7L1911.6 1232.3L1912.5 1238.1L1913.4 1233.2L1914.3 1237.9L1915.2 1231.4L1916.1 1237.3L1917.0 1232.5L1917.9 1241.9L1918.8 1231.2L1919.7 1238.6L1920.6 1231.0L1921.5 1237.9L1922.4 1233.5L1923.3 1236.9L1924.2 1231.4L1925.1 1237.9L1926.0 1233.1L1926.9 1238.1L1927.8 1231.8L1928.7 1238.3L1929.6 1231.6L1930.5 1237.0L1931.4 1232.8L1932.3 1238.0L1933.2 1230.6L1934.1 1236.8L1935.0 1231.7L1935.9 1237.7L1936.8 1231.5L1937.7 1238.4L1938.6 1232.6L1939.5 1237.3L1940.4 1231.0L1941.3 1240.6L1942.2 1232.6L1943.1 1237.5L1944.0 1230.8L1944.9 1237.2L1945.8 1232.7L1946.7 1237.9L1947.6 1231.8L1948.5 1236.8L1949.4 1232.3L1950.3 1236.2L1951.2 1232.7L1952.1 1238.3L1953.0 1230.7L1953.9 1237.7L1954.8 1232.4L1955.7 1236.6L1956.6 1231.0L1957.5 1236.1L1958.4 1230.8L1959.3 1236.1L1960.2 1225.9L1961.1 1238.4L1962.0 1232.4L1962.9 1237.5L1963.8 1232.5L1964.7 1237.8L1965.6 1231.3L1966.5 1237.4L1967.4 1232.9L1968.3 1236.3L1969.2 1231.0L1970.1 1237.3L1971.0 1232.1L1971.9 1236.5L1972.8 1229.5L1973.7 1236.9L1974.6 1230.7L1975.5 1235.7L1976.4 1229.6L1977.3 1240.9L1978.2 1228.9L1979.1 1234.6L1980.0 1228.3L1980.9 1241.2L1981.8 1228.9L1982.7 1234.2L1983.6 1225.8L1984.5 1233.7L1985.4 1227.8L1986.3 1233.3L1987.2 1227.4L1988.1 1232.6L1989.0 1228.6L1989.9 1233.6L1990.8 1227.9L1991.7 1233.8L1992.6 1226.9L1993.5 1231.5L1994.4 1226.8L1995.3 1231.1L1996.2 1226.3L1997.1 1231.6L1998.0 1225.5L1998.9 1231.1L1999.8 1226.3L2000.7 1229.6L2001.6 1223.4L2002.5 1229.3L2003.4 1221.6L2004.3 1228.5L2005.2 1222.5L2006.1 1226.7L2007.0 1220.0L2007.9 1224.1L2008.8 1218.2L2009.7 1223.4L2010.6 1217.9L2011.5 1225.0L2012.4 1217.8L2013.3 1223.5L2014.2 1217.2L2015.1 1223.2L2016.0 1216.7L2016.9 1222.2L2017.8 1217.3L2018.7 1221.6L2019.6 1217.8L2020.5 1222.5L2021.4 1217.1L2022.3 1221.6L2023.2 1217.0L2024.1 1222.4L2025.0 1218.6L2025.9 1222.8L2026.8 1216.7L2027.7 1222.2L2028.6 1213.9L2029.5 1223.6L2030.4 1219.0L2031.3 1223.3L2032.2 1219.9L2033.1 1225.6L2034.0 1220.3L2034.9 1225.3L2035.8 1220.9L2036.7 1225.7L2037.6 1222.7L2038.5 1227.8L2039.4 1223.7L2040.3 1228.8L2041.2 1224.5L2042.1 1230.3L2043.0 1219.4L2043.9 1229.6L2044.8 1225.7L2045.7 1230.8L2046.6 1226.1L2047.5 1231.9L2048.4 1226.9L2049.3 1233.1L2050.2 1227.3L2051.1 1230.8L2052.0 1227.8L2052.9 1232.5L2053.8 1227.3L2054.7 1232.5L2055.6 1225.7L2056.5 1231.1L2057.4 1227.7L2058.3 1231.3L2059.2 1226.6L2060.1 1231.6L2061.0 1226.1L2061.9 1232.3L2062.8 1226.1L2063.7 1230.6L2064.6 1225.8L2065.5 1230.3L2066.4 1224.3L2067.3 1228.5L2068.2 1223.2L2069.1 1228.9L2070.0 1222.8L2070.9 1225.8L2071.8 1221.0L2072.7 1225.6L2073.6 1214.9L2074.5 1223.7L2075.4 1218.6L2076.3 1221.6L2077.2 1209.4L2078.1 1220.0L2079.0 1211.8L2079.9 1216.2L2080.8 1210.9L2081.7 1214.6L2082.6 1204.7L2083.5 1213.8L2084.4 1209.3L2085.3 1218.4L2086.2 1211.8L2087.1 1217.0L2088.0 1212.7L2088.9 1219.3L2089.8 1215.5L2090.7 1222.6L2091.6 1217.3L2092.5 1222.1L2093.4 1217.6L2094.3 1223.8L2095.2 1220.3L2096.1 1225.6L2097.0 1221.7L2097.9 1227.2L2098.8 1222.5L2099.7 1229.1L2100.6 1223.8L2101.5 1229.3L2102.4 1225.4L2103.3 1230.2L2104.2 1224.7L2105.1 1230.5L2106.0 1226.2L2106.9 1232.6L2107.8 1226.5L2108.7 1231.5L2109.6 1227.9L2110.5 1231.8L2111.4 1228.3L2112.3 1233.5L2113.2 1228.3L2114.1 1232.9L2115.0 1228.0L2115.9 1232.9L2116.8 1228.0L2117.7 1233.3L2118.6 1226.5L2119.5 1232.8L2120.4 1226.7L2121.3 1231.5L2122.2 1221.7L2123.1 1233.2L2124.0 1228.3L2124.9 1231.6L2125.8 1227.2L2126.7 1231.6L2127.6 1226.5L2128.5 1233.8L2129.4 1227.2L2130.3 1233.3L2131.2 1227.4L2132.1 1233.6L2133.0 1228.3L2133.9 1232.3L2134.8 1228.2L2135.7 1233.7L2136.6 1220.9L2137.5 1233.5L2138.4 1228.3L2139.3 1232.3L2140.2 1228.2L2141.1 1234.0L2142.0 1226.9L2142.9 1233.8L2143.8 1227.4L2144.7 1233.6L2145.6 1228.0L2146.5 1237.9L2147.4 1221.5L2148.3 1231.7L2149.2 1226.8L2150.1 1233.8L2151.0 1228.3L2151.9 1231.8L2152.8 1227.8L2153.7 1232.4L2154.6 1227.9L2155.5 1233.9L2156.4 1227.1L2157.3 1233.9L2158.2 1227.2L2159.1 1236.7L2160.0 1227.9L2160.9 1232.0L2161.8 1226.4L2162.7 1233.5L2163.6 1228.7L2164.5 1233.1L2165.4 1226.9L2166.3 1232.9L2167.2 1228.7L2168.1 1233.9L2169.0 1227.6L2169.9 1233.1L2170.8 1228.8L2171.7 1232.9L2172.6 1227.7L2173.5 1232.9L2174.4 1228.4L2175.3 1232.4L2176.2 1226.7L2177.1 1233.9L2178.0 1228.8L2178.9 1233.6L2179.8 1226.5L2180.7 1232.7L2181.6 1228.1L2182.5 1232.7L2183.4 1228.6L2184.3 1234.0L2185.2 1227.1L2186.1 1234.8L2187.0 1226.8L2187.9 1234.6L2188.8 1228.7L2189.7 1235.8L2190.6 1228.0L2191.5 1232.3L2192.4 1228.0L2193.3 1232.8L2194.2 1228.7L2195.1 1232.9L2196.0 1227.4L2196.9 1234.8L2197.8 1228.2L2198.7 1234.2L2199.6 1222.1L2200.5 1234.6L2201.4 1227.7L2202.3 1232.5L2203.2 1228.2L2204.1 1239.3L2205.0 1229.3L2205.9 1232.9L2206.8 1229.0L2207.7 1232.9L2208.6 1229.0L2209.5 1233.8L2210.4 1227.6L2211.3 1234.5L2212.2 1229.2L2213.1 1233.8L2214.0 1227.9L2214.9 1234.6L2215.8 1229.4L2216.7 1233.9L2217.6 1229.4L2218.5 1233.5L2219.4 1229.8L2220.3 1234.4L2221.2 1228.1L2222.1 1233.0L2223.0 1227.8L2223.9 1235.0L2224.8 1227.4L2225.7 1234.2L2226.6 1224.3L2227.5 1234.3L2228.4 1228.3L2229.3 1233.0L2230.2 1227.6L2231.1 1235.6L2232.0 1227.3L2232.9 1233.0L2233.8 1228.3L2234.7 1239.4L2235.6 1228.4L2236.5 1232.9L2237.4 1226.8L2238.3 1237.9L2239.2 1228.3L2240.1 1231.3L2241.0 1227.9L2241.9 1232.5L2242.8 1227.7L2243.7 1231.2L2244.6 1227.3L2245.5 1232.4L2246.4 1226.0L2247.3 1231.6L2248.2 1225.6L2249.1 1237.6L2250.0 1225.3L2250.9 1232.3L2251.8 1227.2L2252.7 1232.8L2253.6 1226.2L2254.5 1231.6L2255.4 1227.0L2256.3 1230.7L2257.2 1225.6L2258.1 1231.4L2259.0 1226.0L2259.9 1230.0L2260.8 1225.5L2261.7 1231.0L2262.6 1225.6L2263.5 1230.6L2264.4 1224.2L2265.3 1231.6L2266.2 1224.3L2267.1 1230.7L2268.0 1223.6L2268.9 1229.8L2269.8 1225.7L2270.7 1230.0L2271.6 1224.9L2272.5 1230.1L2273.4 1219.1L2274.3 1228.6L2275.2 1222.6L2276.1 1228.1L2277.0 1224.6L2277.9 1228.5L2278.8 1223.7L2279.7 1229.0L2280.6 1224.1L2281.5 1228.9L2282.4 1223.4L2283.3 1228.2L2284.2 1223.7L2285.1 1228.5L2286.0 1223.1L2286.9 1226.7L2287.8 1221.3L2288.7 1227.0L2289.6 1214.8L2290.5 1226.6L2291.4 1221.4L2292.3 1225.5L2293.2 1220.7L2294.1 1225.4L2295.0 1221.3L2295.9 1225.9L2296.8 1221.1L2297.7 1225.5L2298.6 1214.4L2299.5 1225.5L2300.4 1220.2L2301.3 1224.5L2302.2 1219.4L2303.1 1222.6L2304.0 1218.7L2304.9 1223.0L2305.8 1217.1L2306.7 1220.8L2307.6 1215.8L2308.5 1220.6L2309.4 1213.5L2310.3 1218.2L2311.2 1212.5L2312.1 1215.7L2313.0 1211.0L2313.9 1214.8L2314.8 1207.4L2315.7 1212.8L2316.6 1204.7L2317.5 1210.3L2318.4 1202.0L2319.3 1206.9L2320.2 1198.8L2321.1 1204.2L2322.0 1195.3L2322.9 1206.1L2323.8 1192.5L2324.7 1197.4L2325.6 1189.5L2326.5 1191.3L2327.4 1184.4L2328.3 1192.7L2329.2 1178.1L2330.1 1182.6L2331.0 1171.1L2331.9 1184.8L2332.8 1173.0L2333.7 1178.7L2334.6 1168.1L2335.5 1175.7L2336.4 1168.7L2337.3 1173.8L2338.2 1168.3L2339.1 1176.2L2340.0 1169.0L2340.9 1177.8L2341.8 1170.2L2342.7 1180.7L2343.6 1172.8L2344.5 1181.1L2345.4 1178.7L2346.3 1187.0L2347.2 1180.9L2348.1 1192.6L2349.0 1178.9L2349.9 1197.3L2350.8 1192.7L2351.7 1202.9L2352.6 1194.6L2353.5 1203.7L2354.4 1196.3L2355.3 1206.1L2356.2 1199.8L2357.1 1208.5L2358.0 1198.8L2358.9 1207.4"/>
<path stroke="#000" d="M351.0 1340.2L351.9 1329.5L352.8 1339.2L353.7 1333.7L354.6 1339.4L355.5 1332.4L356.4 1340.8L357.3 1332.6L358.2 1343.8L359.1 1337.0L360.0 1342.5L360.9 1333.1L361.8 1342.9L362.7 1331.9L363.6 1341.8L364.5 1334.6L365.4 1341.5L366.3 1331.7L367.2 1339.4L368.1 1331.0L369.0 1341.7L369.9 1330.6L370.8 1342.7L371.7 1331.7L372.6 1339.4L373.5 1325.7L374.4 1340.2L375.3 1332.9L376.2 1341.3L377.1 1331.4L378.0 1342.9L378.9 1332.3L379.8 1345.9L380.7 1330.9L381.6 1343.6L382.5 1331.2L383.4 1340.6L384.3 1331.8L385.2 1341.6L386.1 1334.5L387.0 1340.1L387.9 1331.6L388.8 1342.9L389.7 1324.1L390.6 1340.6L391.5 1332.0L392.4 1341.2L393.3 1331.0L394.2 1342.2L395.1 1329.4L396.0 1341.9L396.9 1333.4L397.8 1339.8L398.7 1331.4L399.6 1341.1L400.5 1331.0L401.4 1339.8L402.3 1329.6L403.2 1341.3L404.1 1328.8L405.0 1350.8L405.9 1331.3L406.8 1337.6L407.7 1330.5L408.6 1338.0L409.5 1331.2L410.4 1340.7L411.3 1329.6L412.2 1338.9L413.1 1331.3L414.0 1340.9L414.9 1328.8L415.8 1339.2L416.7 1329.4L417.6 1340.3L418.5 1319.7L419.4 1338.0L420.3 1327.7L421.2 1338.6L422.1 1320.0L423.0 1338.6L423.9 1329.7L424.8 1338.5L425.7 1328.8L426.6 1335.9L427.5 1328.0L428.4 1337.8L429.3 1328.4L430.2 1335.5L431.1 1329.8L432.0 1338.9L432.9 1329.5L433.8 1339.0L434.7 1317.2L435.6 1337.9L436.5 1330.8L437.4 1338.1L438.3 1330.3L439.2 1341.0L440.1 1328.4L441.0 1343.7L441.9 1336.9L442.8 1344.9L443.7 1335.8L444.6 1345.0L445.5 1338.6L446.4 1348.7L447.3 1337.0L448.2 1344.7L449.1 1335.4L450.0 1356.0L450.9 1335.7L451.8 1346.5L452.7 1335.5L453.6 1346.2L454.5 1333.2L455.4 1341.6L456.3 1334.0L457.2 1342.2L458.1 1330.7L459.0 1337.6L459.9 1319.2L460.8 1338.2L461.7 1329.2L462.6 1337.1L463.5 1328.6L464.4 1338.4L465.3 1328.3L466.2 1339.1L467.1 1330.6L468.0 1339.3L468.9 1330.4L469.8 1338.6L470.7 1328.2L471.6 1339.1L472.5 1329.5L473.4 1339.0L474.3 1327.5L475.2 1335.9L476.1 1328.5L477.0 1338.3L477.9 1329.5L478.8 1338.7L479.7 1327.8L480.6 1339.1L481.5 1328.5L482.4 1337.4L483.3 1326.5L484.2 1336.1L485.1 1329.5L486.0 1337.5L486.9 1326.8L487.8 1339.0L488.7 1327.0L489.6 1336.1L490.5 1326.0L491.4 1336.2L492.3 1327.0L493.2 1339.0L494.1 1329.1L495.0 1339.6L495.9 1332.1L496.8 1341.4L497.7 1331.8L498.6 1341.2L499.5 1333.8L500.4 1341.8L501.3 1333.0L502.2 1343.5L503.1 1334.3L504.0 1349.8L504.9 1337.9L505.8 1347.5L506.7 1339.1L507.6 1345.6L508.5 1337.0L509.4 1345.0L510.3 1337.3L511.2 1344.0L512.1 1330.7L513.0 1341.5L513.9 1330.6L514.8 1337.4L515.7 1329.3L516.6 1338.2L517.5 1329.4L518.4 1337.6L519.3 1329.0L520.2 1340.3L521.1 1333.6L522.0 1343.1L522.9 1335.9L523.8 1346.3L524.7 1338.4L525.6 1350.7L526.5 1343.8L527.4 1351.6L528.3 1342.2L529.2 1352.9L530.1 1344.7L531.0 1356.0L531.9 1343.8L532.8 1352.2L533.7 1343.7L534.6 1350.9L535.5 1338.4L536.4 1352.7L537.3 1335.8L538.2 1346.8L539.1 1334.7L540.0 1344.8L540.9 1331.9L541.8 1339.9L542.7 1329.3L543.6 1339.8L544.5 1328.7L545.4 1336.1L546.3 1327.5L547.2 1337.4L548.1 1329.9L549.0 1336.2L549.9 1327.7L550.8 1338.6L551.7 1330.0L552.6 1337.7L553.5 1329.5L554.4 1336.8L555.3 1330.0L556.2 1337.2L557.1 1329.3L558.0 1337.0L558.9 1329.0L559.8 1338.4L560.7 1327.5L561.6 1337.9L562.5 1329.7L563.4 1341.7L564.3 1329.7L565.2 1338.6L566.1 1328.8L567.0 1339.2L567.9 1332.2L568.8 1341.3L569.7 1332.1L570.6 1343.7L571.5 1335.2L572.4 1340.7L573.3 1333.8L574.2 1342.7L575.1 1330.6L576.0 1341.7L576.9 1329.4L577.8 1338.1L578.7 1328.1L579.6 1337.6L580.5 1331.2L581.4 1339.6L582.3 1328.4L583.2 1339.8L584.1 1333.3L585.0 1344.9L585.9 1336.7L586.8 1345.8L587.7 1340.7L588.6 1347.6L589.5 1340.0L590.4 1349.6L591.3 1342.7L592.2 1351.3L593.1 1344.9L594.0 1352.8L594.9 1343.0L595.8 1353.4L596.7 1341.1L597.6 1348.4L598.5 1338.7L599.4 1350.5L600.3 1337.1L601.2 1347.3L602.1 1335.6L603.0 1345.4L603.9 1335.3L604.8 1342.5L605.7 1333.9L606.6 1340.2L607.5 1331.5L608.4 1339.5L609.3 1330.9L610.2 1340.3L611.1 1330.4L612.0 1338.7L612.9 1327.7L613.8 1338.6L614.7 1330.3L615.6 1340.3L616.5 1327.9L617.4 1337.0L618.3 1328.4L619.2 1338.2L620.1 1329.3L621.0 1340.6L621.9 1335.4L622.8 1343.2L623.7 1339.2L624.6 1351.2L625.5 1341.4L626.4 1350.8L627.3 1343.4L628.2 1353.5L629.1 1346.2L630.0 1356.4L630.9 1349.4L631.8 1355.2L632.7 1350.1L633.6 1357.8L634.5 1348.6L635.4 1357.5L636.3 1339.8L637.2 1355.8L638.1 1349.1L639.0 1357.5L639.9 1347.7L640.8 1352.5L641.7 1342.1L642.6 1346.6L643.5 1335.7L644.4 1340.5L645.3 1331.2L646.2 1341.4L647.1 1338.1L648.0 1354.7L648.9 1341.0L649.8 1352.9L650.7 1346.0L651.6 1352.7L652.5 1349.2L653.4 1355.0L654.3 1349.2L655.2 1356.6L656.1 1349.3L657.0 1353.1L657.9 1346.7L658.8 1352.8L659.7 1345.0L660.6 1353.3L661.5 1342.8L662.4 1346.6L663.3 1338.6L664.2 1344.0L665.1 1333.9L666.0 1342.6L666.9 1330.5L667.8 1340.2L668.7 1330.7L669.6 1340.1L670.5 1331.9L671.4 1338.2L672.3 1329.9L673.2 1338.9L674.1 1329.9L675.0 1338.0L675.9 1330.5L676.8 1340.3L677.7 1330.4L678.6 1341.3L679.5 1333.7L680.4 1339.5L681.3 1335.9L682.2 1342.6L683.1 1339.9L684.0 1346.4L684.9 1343.8L685.8 1351.4L686.7 1342.9L687.6 1359.3L688.5 1344.1L689.4 1352.3L690.3 1345.0L691.2 1349.1L692.1 1342.3L693.0 1349.7L693.9 1337.8L694.8 1351.8L695.7 1334.6L696.6 1343.5L697.5 1330.9L698.4 1336.9L699.3 1330.7L700.2 1341.8L701.1 1337.6L702.0 1348.0L702.9 1341.3L703.8 1354.6L704.7 1346.2L705.6 1354.1L706.5 1346.2L707.4 1354.0L708.3 1343.6L709.2 1348.9L710.1 1337.1L711.0 1342.9L711.9 1332.9L712.8 1340.6L713.7 1337.1L714.6 1348.4L715.5 1342.8L716.4 1351.3L717.3 1345.4L718.2 1355.5L719.1 1346.6L720.0 1355.1L720.9 1349.2L721.8 1354.7L722.7 1348.3L723.6 1357.2L724.5 1348.6L725.4 1357.1L726.3 1347.6L727.2 1361.2L728.1 1348.6L729.0 1354.2L729.9 1346.2L730.8 1355.6L731.7 1346.1L732.6 1350.4L733.5 1338.9L734.4 1347.3L735.3 1336.6L736.2 1343.1L737.1 1334.8L738.0 1343.1L738.9 1334.5L739.8 1341.2L740.7 1333.1L741.6 1338.6L742.5 1330.4L743.4 1347.3L744.3 1331.3L745.2 1338.6L746.1 1331.4L747.0 1339.9L747.9 1333.5L748.8 1344.3L749.7 1332.0L750.6 1339.0L751.5 1333.2L752.4 1338.6L753.3 1334.1L754.2 1340.6L755.1 1333.4L756.0 1341.3L756.9 1336.5L757.8 1341.2L758.7 1337.4L759.6 1349.5L760.5 1350.4L761.4 1361.2L762.3 1355.6L763.2 1361.8L764.1 1351.1L765.0 1361.6L765.9 1356.9L766.8 1363.8L767.7 1358.5L768.6 1364.7L769.5 1358.8L770.4 1362.5L771.3 1356.9L772.2 1362.9L773.1 1357.4L774.0 1362.0L774.9 1358.4L775.8 1363.4L776.7 1357.3L777.6 1361.9L778.5 1356.1L779.4 1361.4L780.3 1355.6L781.2 1362.8L782.1 1356.0L783.0 1362.8L783.9 1356.3L784.8 1361.3L785.7 1351.0L786.6 1351.2L787.5 1340.0L788.4 1342.2L789.3 1338.9L790.2 1348.1L791.1 1344.5L792.0 1359.6L792.9 1350.0L793.8 1355.9L794.7 1345.7L795.6 1356.5L796.5 1349.0L797.4 1347.9L798.3 1338.6L799.2 1345.3L800.1 1334.1L801.0 1338.2L801.9 1332.1L802.8 1344.7L803.7 1339.3L804.6 1347.4L805.5 1347.2L806.4 1355.3L807.3 1353.0L808.2 1360.1L809.1 1357.4L810.0 1364.0L810.9 1358.3L811.8 1365.4L812.7 1358.8L813.6 1363.3L814.5 1358.9L815.4 1364.2L816.3 1357.5L817.2 1364.4L818.1 1356.6L819.0 1360.2L819.9 1350.3L820.8 1352.5L821.7 1344.4L822.6 1347.7L823.5 1338.6L824.4 1345.0L825.3 1337.2L826.2 1341.2L827.1 1340.7L828.0 1348.0L828.9 1346.6L829.8 1354.7L830.7 1352.8L831.6 1360.2L832.5 1354.7L833.4 1360.5L834.3 1354.8L835.2 1363.1L836.1 1357.9L837.0 1362.6L837.9 1356.8L838.8 1363.3L839.7 1355.7L840.6 1361.7L841.5 1356.3L842.4 1363.1L843.3 1355.3L844.2 1363.1L845.1 1355.5L846.0 1360.6L846.9 1357.0L847.8 1360.7L848.7 1353.6L849.6 1353.9L850.5 1344.5L851.4 1343.6L852.3 1336.3L853.2 1340.5L854.1 1333.2L855.0 1337.4L855.9 1332.7L856.8 1339.5L857.7 1334.5L858.6 1338.1L859.5 1332.1L860.4 1339.2L861.3 1333.9L862.2 1339.3L863.1 1334.4L864.0 1338.4L864.9 1335.0L865.8 1345.6L866.7 1342.2L867.6 1351.2L868.5 1351.6L869.4 1361.0L870.3 1352.7L871.2 1360.2L872.1 1355.0L873.0 1362.3L873.9 1357.5L874.8 1363.5L875.7 1358.0L876.6 1363.6L877.5 1358.2L878.4 1363.1L879.3 1357.9L880.2 1363.7L881.1 1357.6L882.0 1362.5L882.9 1357.9L883.8 1362.9L884.7 1358.8L885.6 1363.1L886.5 1357.9L887.4 1362.3L888.3 1357.2L889.2 1364.8L890.1 1358.1L891.0 1363.1L891.9 1358.4L892.8 1364.7L893.7 1354.8L894.6 1363.9L895.5 1357.8L896.4 1362.6L897.3 1357.1L898.2 1364.7L899.1 1357.2L900.0 1364.5L900.9 1358.6L901.8 1363.6L902.7 1358.6L903.6 1363.0L904.5 1357.0L905.4 1363.9L906.3 1353.2L907.2 1356.5L908.1 1347.8L909.0 1349.7L909.9 1338.7L910.8 1340.9L911.7 1333.7L912.6 1338.6L913.5 1333.6L914.4 1338.9L915.3 1333.6L916.2 1340.5L917.1 1333.8L918.0 1341.6L918.9 1337.7L919.8 1348.8L920.7 1347.1L921.6 1358.3L922.5 1354.3L923.4 1358.2L924.3 1353.3L925.2 1359.0L926.1 1354.6L927.0 1362.2L927.9 1357.2L928.8 1362.7L929.7 1355.2L930.6 1361.9L931.5 1355.0L932.4 1363.0L933.3 1356.8L934.2 1362.1L935.1 1356.4L936.0 1361.1L936.9 1353.5L937.8 1362.4L938.7 1357.6L939.6 1361.5L940.5 1355.6L941.4 1368.8L942.3 1349.7L943.2 1362.5L944.1 1357.1L945.0 1361.4L945.9 1356.1L946.8 1362.0L947.7 1356.6L948.6 1365.1L949.5 1356.0L950.4 1362.2L951.3 1358.3L952.2 1362.5L953.1 1357.4L954.0 1364.2L954.9 1356.2L955.8 1363.5L956.7 1356.2L957.6 1364.0L958.5 1357.1L959.4 1363.9L960.3 1357.9L961.2 1363.6L962.1 1358.8L963.0 1362.1L963.9 1357.8L964.8 1364.4L965.7 1357.2L966.6 1363.5L967.5 1357.7L968.4 1363.5L969.3 1358.8L970.2 1364.2L971.1 1358.3L972.0 1370.1L972.9 1353.0L973.8 1350.3L974.7 1342.4L975.6 1344.8L976.5 1343.8L977.4 1355.2L978.3 1352.5L979.2 1361.9L980.1 1356.9L981.0 1361.2L981.9 1355.4L982.8 1361.1L983.7 1353.2L984.6 1360.5L985.5 1356.5L986.4 1361.2L987.3 1354.3L988.2 1363.0L989.1 1356.2L990.0 1360.9L990.9 1357.6L991.8 1361.1L992.7 1356.0L993.6 1362.7L994.5 1357.6L995.4 1361.2L996.3 1356.6L997.2 1361.9L998.1 1357.0L999.0 1363.1L999.9 1356.7L1000.8 1363.7L1001.7 1357.2L1002.6 1361.4L1003.5 1355.8L1004.4 1361.4L1005.3 1357.9L1006.2 1362.7L1007.1 1358.5L1008.0 1363.4L1008.9 1357.0L1009.8 1363.5L1010.7 1355.8L1011.6 1361.3L1012.5 1345.9L1013.4 1352.8L1014.3 1339.6L1015.2 1343.5L1016.1 1341.2L1017.0 1350.0L1017.9 1348.0L1018.8 1355.5L1019.7 1354.7L1020.6 1361.2L1021.5 1357.0L1022.4 1362.6L1023.3 1358.3L1024.2 1365.6L1025.1 1360.5L1026.0 1364.1L1026.9 1359.3L1027.8 1364.8L1028.7 1360.5L1029.6 1364.6L1030.5 1358.7L1031.4 1363.9L1032.3 1358.6L1033.2 1365.3L1034.1 1359.0L1035.0 1364.2L1035.9 1357.9L1036.8 1364.9L1037.7 1352.8L1038.6 1364.0L1039.5 1359.5L1040.4 1365.4L1041.3 1359.0L1042.2 1365.4L1043.1 1360.5L1044.0 1364.8L1044.9 1357.4L1045.8 1363.1L1046.7 1357.2L1047.6 1361.6L1048.5 1352.0L1049.4 1352.3L1050.3 1342.2L1051.2 1343.5L1052.1 1343.6L1053.0 1352.9L1053.9 1353.0L1054.8 1360.5L1055.7 1356.8L1056.6 1363.2L1057.5 1357.9L1058.4 1364.4L1059.3 1358.6L1060.2 1365.3L1061.1 1359.9L1062.0 1364.1L1062.9 1360.3L1063.8 1365.9L1064.7 1358.5L1065.6 1363.3L1066.5 1358.5L1067.4 1364.3L1068.3 1359.7L1069.2 1363.7L1070.1 1358.6L1071.0 1363.5L1071.9 1358.1L1072.8 1362.6L1073.7 1359.0L1074.6 1363.6L1075.5 1355.8L1076.4 1365.3L1077.3 1358.2L1078.2 1362.9L1079.1 1352.7L1080.0 1352.8L1080.9 1343.0L1081.8 1348.1L1082.7 1347.3L1083.6 1357.2L1084.5 1357.4L1085.4 1363.1L1086.3 1358.0L1087.2 1364.8L1088.1 1357.3L1089.0 1363.2L1089.9 1358.6L1090.8 1363.3L1091.7 1358.6L1092.6 1364.5L1093.5 1358.8L1094.4 1365.6L1095.3 1357.7L1096.2 1364.7L1097.1 1358.8L1098.0 1363.8L1098.9 1359.6L1099.8 1359.4L1100.7 1348.8L1101.6 1351.1L1102.5 1346.4L1103.4 1354.4L1104.3 1355.3L1105.2 1362.5L1106.1 1358.3L1107.0 1363.3L1107.9 1359.4L1108.8 1362.7L1109.7 1358.3L1110.6 1362.7L1111.5 1359.5L1112.4 1366.5L1113.3 1358.0L1114.2 1363.3L1115.1 1358.4L1116.0 1363.1L1116.9 1358.4L1117.8 1363.4L1118.7 1359.7L1119.6 1365.1L1120.5 1354.7L1121.4 1364.2L1122.3 1360.3L1123.2 1365.2L1124.1 1358.4L1125.0 1363.2L1125.9 1358.4L1126.8 1356.7L1127.7 1345.7L1128.6 1343.7L1129.5 1339.9L1130.4 1350.8L1131.3 1351.9L1132.2 1361.9L1133.1 1355.2L1134.0 1361.9L1134.9 1357.3L1135.8 1360.9L1136.7 1356.5L1137.6 1356.1L1138.5 1345.4L1139.4 1344.3L1140.3 1336.1L1141.2 1348.3L1142.1 1350.8L1143.0 1365.8L1143.9 1357.8L1144.8 1363.7L1145.7 1358.3L1146.6 1362.5L1147.5 1359.2L1148.4 1363.0L1149.3 1358.4L1150.2 1363.8L1151.1 1357.6L1152.0 1363.4L1152.9 1358.5L1153.8 1363.2L1154.7 1359.1L1155.6 1367.7L1156.5 1358.6L1157.4 1364.7L1158.3 1357.9L1159.2 1363.6L1160.1 1358.7L1161.0 1363.4L1161.9 1360.3L1162.8 1365.1L1163.7 1360.3L1164.6 1360.1L1165.5 1350.7L1166.4 1348.7L1167.3 1342.2L1168.2 1350.6L1169.1 1351.5L1170.0 1360.4L1170.9 1357.1L1171.8 1362.7L1172.7 1358.4L1173.6 1361.7L1174.5 1358.3L1175.4 1365.9L1176.3 1358.0L1177.2 1362.2L1178.1 1352.4L1179.0 1368.7L1179.9 1357.6L1180.8 1363.0L1181.7 1359.6L1182.6 1364.4L1183.5 1357.7L1184.4 1363.6L1185.3 1357.7L1186.2 1364.0L1187.1 1353.1L1188.0 1353.2L1188.9 1345.4L1189.8 1352.2L1190.7 1348.4L1191.6 1358.3L1192.5 1357.9L1193.4 1362.7L1194.3 1358.5L1195.2 1362.8L1196.1 1357.8L1197.0 1363.3L1197.9 1359.6L1198.8 1364.3L1199.7 1358.6L1200.6 1364.1L1201.5 1358.0L1202.4 1363.7L1203.3 1358.6L1204.2 1362.8L1205.1 1359.5L1206.0 1363.8L1206.9 1358.0L1207.8 1363.2L1208.7 1359.3L1209.6 1364.6L1210.5 1356.9L1211.4 1362.7L1212.3 1359.5L1213.2 1362.4L1214.1 1355.6L1215.0 1358.3L1215.9 1350.4L1216.8 1356.2L1217.7 1352.6L1218.6 1360.4L1219.5 1357.8L1220.4 1362.2L1221.3 1357.0L1222.2 1362.6L1223.1 1353.2L1224.0 1360.8L1224.9 1355.9L1225.8 1360.6L1226.7 1357.4L1227.6 1360.5L1228.5 1351.5L1229.4 1355.0L1230.3 1352.2L1231.2 1358.6L1232.1 1356.8L1233.0 1361.1L1233.9 1355.2L1234.8 1358.9L1235.7 1354.8L1236.6 1357.9L1237.5 1352.4L1238.4 1353.2L1239.3 1343.7L1240.2 1345.8L1241.1 1344.2L1242.0 1354.0L1242.9 1353.2L1243.8 1360.2L1244.7 1356.4L1245.6 1360.3L1246.5 1355.6L1247.4 1362.4L1248.3 1356.3L1249.2 1364.1L1250.1 1357.4L1251.0 1361.9L1251.9 1356.9L1252.8 1360.9L1253.7 1357.4L1254.6 1361.6L1255.5 1358.5L1256.4 1361.8L1257.3 1358.7L1258.2 1361.5L1259.1 1358.9L1260.0 1360.9L1260.9 1356.2L1261.8 1358.6L1262.7 1353.5L1263.6 1361.2L1264.5 1356.0L1265.4 1361.3L1266.3 1357.1L1267.2 1361.6L1268.1 1353.9L1269.0 1363.1L1269.9 1357.5L1270.8 1362.6L1271.7 1357.7L1272.6 1362.8L1273.5 1357.8L1274.4 1362.0L1275.3 1352.2L1276.2 1362.6L1277.1 1356.7L1278.0 1362.2L1278.9 1357.4L1279.8 1360.8L1280.7 1355.3L1281.6 1360.1L1282.5 1354.2L1283.4 1355.7L1284.3 1347.4L1285.2 1353.7L1286.1 1351.3L1287.0 1359.3L1287.9 1357.3L1288.8 1361.4L1289.7 1356.3L1290.6 1359.6L1291.5 1351.5L1292.4 1360.8L1293.3 1355.4L1294.2 1360.1L1295.1 1349.6L1296.0 1351.1L1296.9 1343.0L1297.8 1347.2L1298.7 1345.8L1299.6 1354.0L1300.5 1354.9L1301.4 1360.3L1302.3 1355.1L1303.2 1359.3L1304.1 1354.1L1305.0 1359.7L1305.9 1354.9L1306.8 1358.5L1307.7 1351.7L1308.6 1360.4L1309.5 1354.3L1310.4 1359.7L1311.3 1355.2L1312.2 1359.0L1313.1 1350.1L1314.0 1358.5L1314.9 1354.4L1315.8 1355.6L1316.7 1347.3L1317.6 1348.1L1318.5 1340.2L1319.4 1351.3L1320.3 1346.2L1321.2 1359.7L1322.1 1353.5L1323.0 1359.9L1323.9 1354.8L1324.8 1358.7L1325.7 1354.2L1326.6 1357.2L1327.5 1348.6L1328.4 1356.2L1329.3 1350.2L1330.2 1351.6L1331.1 1347.5L1332.0 1353.8L1332.9 1351.9L1333.8 1356.9L1334.7 1352.2L1335.6 1357.7L1336.5 1352.9L1337.4 1357.4L1338.3 1353.9L1339.2 1358.2L1340.1 1355.2L1341.0 1359.6L1341.9 1355.1L1342.8 1359.0L1343.7 1353.4L1344.6 1357.6L1345.5 1352.4L1346.4 1358.4L1347.3 1351.3L1348.2 1358.8L1349.1 1349.0L1350.0 1357.7L1350.9 1348.5L1351.8 1355.7L1352.7 1350.0L1353.6 1359.0L1354.5 1345.0L1355.4 1356.4L1356.3 1345.8L1357.2 1362.5L1358.1 1343.3L1359.0 1355.1L1359.9 1343.5L1360.8 1357.9L1361.7 1347.9L1362.6 1354.2L1363.5 1345.3L1364.4 1356.0L1365.3 1347.8L1366.2 1357.6L1367.1 1345.4L1368.0 1354.5L1368.9 1344.0L1369.8 1357.8L1370.7 1342.8L1371.6 1356.7L1372.5 1347.8L1373.4 1355.6L1374.3 1343.9L1375.2 1356.2L1376.1 1344.8L1377.0 1358.5L1377.9 1345.3L1378.8 1357.3L1379.7 1348.3L1380.6 1356.4L1381.5 1347.7L1382.4 1355.5L1383.3 1343.8L1384.2 1358.3L1385.1 1346.4L1386.0 1357.1L1386.9 1344.4L1387.8 1358.6L1388.7 1347.8L1389.6 1355.1L1390.5 1347.6L1391.4 1354.4L1392.3 1345.8L1393.2 1357.3L1394.1 1348.1L1395.0 1354.3L1395.9 1346.2L1396.8 1355.6L1397.7 1348.0L1398.6 1364.7L1399.5 1347.1L1400.4 1357.9L1401.3 1344.6L1402.2 1356.4L1403.1 1346.8L1404.0 1353.5L1404.9 1342.4L1405.8 1364.5L1406.7 1343.5L1407.6 1355.8L1408.5 1342.3L1409.4 1354.3L1410.3 1346.0L1411.2 1354.3L1412.1 1341.9L1413.0 1354.5L1413.9 1342.7L1414.8 1352.2L1415.7 1345.9L1416.6 1354.6L1417.5 1342.4L1418.4 1353.8L1419.3 1343.2L1420.2 1353.8L1421.1 1341.6L1422.0 1353.5L1422.9 1345.1L1423.8 1356.4L1424.7 1344.4L1425.6 1354.2L1426.5 1331.8L1427.4 1353.7L1428.3 1342.2L1429.2 1356.1L1430.1 1341.7L1431.0 1356.1L1431.9 1342.3L1432.8 1356.2L1433.7 1346.0L1434.6 1357.4L1435.5 1342.0L1436.4 1355.5L1437.3 1343.7L1438.2 1356.3L1439.1 1345.8L1440.0 1353.4L1440.9 1344.9L1441.8 1351.6L1442.7 1342.4L1443.6 1349.9L1444.5 1343.5L1445.4 1351.4L1446.3 1343.4L1447.2 1348.0L1448.1 1344.4L1449.0 1347.5L1449.9 1343.9L1450.8 1348.9L1451.7 1342.7L1452.6 1346.7L1453.5 1343.4L1454.4 1348.5L1455.3 1343.0L1456.2 1346.7L1457.1 1342.4L1458.0 1348.7L1458.9 1343.6L1459.8 1348.9L1460.7 1340.1L1461.6 1347.8L1462.5 1342.2L1463.4 1347.1L1464.3 1343.5L1465.2 1348.0L1466.1 1344.2L1467.0 1347.5L1467.9 1343.0L1468.8 1347.3L1469.7 1343.7L1470.6 1347.8L1471.5 1342.2L1472.4 1347.7L1473.3 1343.9L1474.2 1349.3L1475.1 1343.1L1476.0 1348.2L1476.9 1342.9L1477.8 1348.9L1478.7 1342.2L1479.6 1347.3L1480.5 1344.1L1481.4 1347.5L1482.3 1342.5L1483.2 1349.3L1484.1 1343.3L1485.0 1347.4L1485.9 1344.1L1486.8 1348.5L1487.7 1344.6L1488.6 1349.3L1489.5 1343.2L1490.4 1348.3L1491.3 1343.4L1492.2 1349.8L1493.1 1343.8L1494.0 1348.3L1494.9 1344.2L1495.8 1350.2L1496.7 1344.8L1497.6 1350.3L1498.5 1345.2L1499.4 1350.9L1500.3 1343.8L1501.2 1349.3L1502.1 1341.9L1503.0 1350.6L1503.9 1345.2L1504.8 1350.4L1505.7 1344.4L1506.6 1349.9L1507.5 1344.1L1508.4 1349.3L1509.3 1345.5L1510.2 1350.0L1511.1 1345.5L1512.0 1351.0L1512.9 1344.5L1513.8 1354.2L1514.7 1344.4L1515.6 1350.8L1516.5 1344.5L1517.4 1350.3L1518.3 1346.5L1519.2 1351.1L1520.1 1345.7L1521.0 1350.1L1521.9 1342.6L1522.8 1349.7L1523.7 1343.1L1524.6 1350.5L1525.5 1344.9L1526.4 1350.4L1527.3 1341.8L1528.2 1351.6L1529.1 1345.2L1530.0 1352.2L1530.9 1345.9L1531.8 1351.1L1532.7 1345.1L1533.6 1350.0L1534.5 1347.1L1535.4 1351.4L1536.3 1345.6L1537.2 1350.1L1538.1 1346.9L1539.0 1351.8L1539.9 1347.5L1540.8 1350.6L1541.7 1346.9L1542.6 1350.9L1543.5 1347.5L1544.4 1350.5L1545.3 1347.3L1546.2 1351.6L1547.1 1347.4L1548.0 1351.3L1548.9 1347.4L1549.8 1351.8L1550.7 1344.7L1551.6 1354.3L1552.5 1360.2L1553.4 1401.3L1554.3 1435.6L1555.2 1455.5L1556.1 1453.6L1557.0 1421.7L1557.9 1387.2L1558.8 1359.8L1559.7 1348.3L1560.6 1354.2L1561.5 1347.9L1562.4 1353.2L1563.3 1348.0L1564.2 1351.2L1565.1 1347.9L1566.0 1352.1L1566.9 1347.7L1567.8 1352.3L1568.7 1346.1L1569.6 1353.1L1570.5 1346.7L1571.4 1352.9L1572.3 1346.7L1573.2 1351.9L1574.1 1347.7L1575.0 1351.4L1575.9 1346.3L1576.8 1353.3L1577.7 1347.9L1578.6 1351.3L1579.5 1347.9L1580.4 1359.0L1581.3 1347.8L1582.2 1351.9L1583.1 1348.3L1584.0 1352.3L1584.9 1347.0L1585.8 1352.8L1586.7 1347.7L1587.6 1352.5L1588.5 1343.7L1589.4 1353.7L1590.3 1346.9L1591.2 1353.5L1592.1 1348.0L1593.0 1353.0L1593.9 1348.2L1594.8 1352.2L1595.7 1347.2L1596.6 1353.6L1597.5 1348.3L1598.4 1353.3L1599.3 1348.3L1600.2 1352.2L1601.1 1346.7L1602.0 1352.1L1602.9 1348.0L1603.8 1351.4L1604.7 1347.0L1605.6 1351.3L1606.5 1346.7L1607.4 1351.3L1608.3 1344.5L1609.2 1351.2L1610.1 1346.4L1611.0 1351.3L1611.9 1347.7L1612.8 1351.7L1613.7 1345.9L1614.6 1353.5L1615.5 1347.4L1616.4 1351.2L1617.3 1346.5L1618.2 1358.4L1619.1 1347.8L1620.0 1351.9L1620.9 1347.8L1621.8 1351.3L1622.7 1346.8L1623.6 1352.0L1624.5 1346.5L1625.4 1356.8L1626.3 1348.1L1627.2 1353.5L1628.1 1348.1L1629.0 1353.2L1629.9 1344.4L1630.8 1352.1L1631.7 1347.5L1632.6 1351.8L1633.5 1347.0L1634.4 1352.0L1635.3 1345.8L1636.2 1353.2L1637.1 1346.4L1638.0 1353.7L1638.9 1346.9L1639.8 1352.1L1640.7 1346.4L1641.6 1353.3L1642.5 1347.3L1643.4 1353.0L1644.3 1347.4L1645.2 1353.7L1646.1 1347.7L1647.0 1351.3L1647.9 1344.3L1648.8 1351.8L1649.7 1347.9L1650.6 1352.8L1651.5 1348.0L1652.4 1352.0L1653.3 1348.0L1654.2 1352.3L1655.1 1346.0L1656.0 1351.9L1656.9 1345.8L1657.8 1351.8L1658.7 1346.7L1659.6 1352.6L1660.5 1343.0L1661.4 1351.6L1662.3 1347.9L1663.2 1351.7L1664.1 1348.3L1665.0 1352.2L1665.9 1347.1L1666.8 1353.0L1667.7 1348.5L1668.6 1353.6L1669.5 1346.4L1670.4 1353.1L1671.3 1346.6L1672.2 1352.0L1673.1 1349.1L1674.0 1352.2L1674.9 1348.3L1675.8 1353.2L1676.7 1348.8L1677.6 1354.6L1678.5 1347.5L1679.4 1355.0L1680.3 1348.3L1681.2 1358.1L1682.1 1349.5L1683.0 1357.3L1683.9 1350.4L1684.8 1358.0L1685.7 1349.4L1686.6 1362.2L1687.5 1354.4L1688.4 1365.4L1689.3 1354.9L1690.2 1365.9L1691.1 1360.8L1692.0 1373.5L1692.9 1365.0L1693.8 1380.0L1694.7 1368.4L1695.6 1378.6L1696.5 1371.2L1697.4 1386.1L1698.3 1378.2L1699.2 1388.5L1700.1 1381.9L1701.0 1395.7L1701.9 1382.6L1702.8 1397.4L1703.7 1387.4L1704.6 1401.0L1705.5 1391.1L1706.4 1400.9L1707.3 1392.4L1708.2 1403.9L1709.1 1395.3L1710.0 1407.5L1710.9 1396.7L1711.8 1407.7L1712.7 1397.4L1713.6 1409.1L1714.5 1396.5L1715.4 1407.2L1716.3 1396.4L1717.2 1407.4L1718.1 1397.3L1719.0 1408.0L1719.9 1388.3L1720.8 1408.5L1721.7 1395.9L1722.6 1404.3L1723.5 1392.7L1724.4 1398.4L1725.3 1387.5L1726.2 1397.0L1727.1 1383.0L1728.0 1392.7L1728.9 1377.5L1729.8 1390.6L1730.7 1371.0L1731.6 1385.2L1732.5 1366.5L1733.4 1377.2L1734.3 1368.0L1735.2 1377.2L1736.1 1361.3L1737.0 1373.8L1737.9 1358.5L1738.8 1381.3L1739.7 1358.7L1740.6 1371.7L1741.5 1356.7L1742.4 1363.4L1743.3 1356.4L1744.2 1362.2L1745.1 1354.0L1746.0 1362.0L1746.9 1356.4L1747.8 1362.5L1748.7 1355.5L1749.6 1361.7L1750.5 1357.3L1751.4 1361.7L1752.3 1356.7L1753.2 1361.4L1754.1 1357.5L1755.0 1363.8L1755.9 1358.1L1756.8 1362.4L1757.7 1356.4L1758.6 1362.4L1759.5 1353.2L1760.4 1363.4L1761.3 1356.2L1762.2 1364.4L1763.1 1357.4L1764.0 1367.8L1764.9 1358.5L1765.8 1362.3L1766.7 1358.2L1767.6 1363.3L1768.5 1358.1L1769.4 1362.5L1770.3 1357.4L1771.2 1362.4L1772.1 1358.8L1773.0 1365.1L1773.9 1358.0L1774.8 1365.4L1775.7 1359.1L1776.6 1363.0L1777.5 1358.3L1778.4 1364.5L1779.3 1357.0L1780.2 1365.1L1781.1 1357.3L1782.0 1362.9L1782.9 1357.2L1783.8 1365.0L1784.7 1357.5L1785.6 1364.5L1786.5 1357.9L1787.4 1365.8L1788.3 1355.7L1789.2 1365.3L1790.1 1358.9L1791.0 1364.8L1791.9 1358.3L1792.8 1364.7L1793.7 1357.5L1794.6 1368.3L1795.5 1360.1L1796.4 1364.0L1797.3 1358.5L1798.2 1364.9L1799.1 1360.5L1800.0 1365.8L1800.9 1360.6L1801.8 1364.5L1802.7 1359.0L1803.6 1365.8L1804.5 1359.9L1805.4 1364.1L1806.3 1358.8L1807.2 1366.3L1808.1 1359.7L1809.0 1364.0L1809.9 1360.0L1810.8 1364.8L1811.7 1360.2L1812.6 1366.6L1813.5 1355.2L1814.4 1365.2L1815.3 1358.2L1816.2 1365.2L1817.1 1359.5L1818.0 1365.3L1818.9 1361.0L1819.8 1365.9L1820.7 1360.1L1821.6 1367.1L1822.5 1361.1L1823.4 1365.6L1824.3 1361.4L1825.2 1365.8L1826.1 1360.2L1827.0 1366.8L1827.9 1360.4L1828.8 1365.9L1829.7 1357.8L1830.6 1367.5L1831.5 1361.8L1832.4 1367.5L1833.3 1361.3L1834.2 1365.7L1835.1 1361.1L1836.0 1367.2L1836.9 1361.2L1837.8 1366.4L1838.7 1360.9L1839.6 1367.3L1840.5 1362.6L1841.4 1366.5L1842.3 1361.4L1843.2 1366.3L1844.1 1361.5L1845.0 1367.1L1845.9 1362.8L1846.8 1367.5L1847.7 1361.3L1848.6 1366.5L1849.5 1361.5L1850.4 1369.1L1851.3 1362.4L1852.2 1374.9L1853.1 1362.0L1854.0 1368.2L1854.9 1363.6L1855.8 1367.8L1856.7 1364.1L1857.6 1368.3L1858.5 1363.3L1859.4 1368.8L1860.3 1363.5L1861.2 1367.9L1862.1 1364.5L1863.0 1369.5L1863.9 1363.2L1864.8 1369.9L1865.7 1362.8L1866.6 1369.6L1867.5 1363.7L1868.4 1369.4L1869.3 1362.8L1870.2 1368.8L1871.1 1362.9L1872.0 1369.2L1872.9 1364.1L1873.8 1370.0L1874.7 1363.6L1875.6 1368.3L1876.5 1364.6L1877.4 1370.3L1878.3 1364.1L1879.2 1370.2L1880.1 1363.4L1881.0 1368.2L1881.9 1363.7L1882.8 1369.0L1883.7 1363.8L1884.6 1368.6L1885.5 1364.0L1886.4 1370.0L1887.3 1364.5L1888.2 1369.3L1889.1 1364.9L1890.0 1369.1L1890.9 1363.3L1891.8 1368.5L1892.7 1363.9L1893.6 1369.2L1894.5 1365.2L1895.4 1369.3L1896.3 1364.6L1897.2 1368.3L1898.1 1363.7L1899.0 1370.7L1899.9 1363.2L1900.8 1370.4L1901.7 1363.3L1902.6 1369.8L1903.5 1362.9L1904.4 1369.6L1905.3 1365.1L1906.2 1369.7L1907.1 1364.5L1908.0 1369.3L1908.9 1364.0L1909.8 1370.1L1910.7 1363.9L1911.6 1369.1L1912.5 1365.6L1913.4 1369.5L1914.3 1364.4L1915.2 1369.2L1916.1 1365.4L1917.0 1368.7L1917.9 1363.1L1918.8 1369.8L1919.7 1364.2L1920.6 1370.7L1921.5 1363.2L1922.4 1370.3L1923.3 1364.3L1924.2 1369.2L1925.1 1365.6L1926.0 1368.7L1926.9 1365.2L1927.8 1369.8L1928.7 1364.0L1929.6 1369.5L1930.5 1364.3L1931.4 1370.0L1932.3 1363.3L1933.2 1371.1L1934.1 1363.4L1935.0 1369.5L1935.9 1364.1L1936.8 1371.1L1937.7 1365.1L1938.6 1369.7L1939.5 1364.2L1940.4 1369.4L1941.3 1365.0L1942.2 1371.1L1943.1 1364.8L1944.0 1371.1L1944.9 1365.0L1945.8 1370.2L1946.7 1364.9L1947.6 1369.9L1948.5 1364.7L1949.4 1370.9L1950.3 1364.7L1951.2 1368.9L1952.1 1364.0L1953.0 1370.9L1953.9 1363.4L1954.8 1370.2L1955.7 1364.2L1956.6 1371.0L1957.5 1364.2L1958.4 1375.0L1959.3 1364.4L1960.2 1370.8L1961.1 1358.3L1962.0 1370.9L1962.9 1364.1L1963.8 1369.8L1964.7 1363.7L1965.6 1370.5L1966.5 1363.6L1967.4 1370.0L1968.3 1360.0L1969.2 1370.8L1970.1 1366.5L1971.0 1371.6L1971.9 1361.9L1972.8 1371.4L1973.7 1365.3L1974.6 1371.5L1975.5 1367.0L1976.4 1372.7L1977.3 1367.5L1978.2 1372.3L1979.1 1366.7L1980.0 1372.2L1980.9 1366.5L1981.8 1372.3L1982.7 1367.3L1983.6 1374.0L1984.5 1368.4L1985.4 1373.4L1986.3 1367.5L1987.2 1373.3L1988.1 1368.3L1989.0 1373.8L1989.9 1367.7L1990.8 1376.0L1991.7 1369.1L1992.6 1375.5L1993.5 1369.3L1994.4 1375.2L1995.3 1369.5L1996.2 1375.6L1997.1 1369.4L1998.0 1374.9L1998.9 1371.1L1999.8 1377.5L2000.7 1372.9L2001.6 1377.9L2002.5 1372.1L2003.4 1378.2L2004.3 1374.4L2005.2 1381.7L2006.1 1375.5L2007.0 1382.7L2007.9 1377.5L2008.8 1381.8L2009.7 1376.7L2010.6 1388.9L2011.5 1379.5L2012.4 1383.1L2013.3 1377.5L2014.2 1384.8L2015.1 1379.8L2016.0 1385.0L2016.9 1380.4L2017.8 1386.2L2018.7 1378.5L2019.6 1385.6L2020.5 1379.7L2021.4 1385.3L2022.3 1378.3L2023.2 1383.2L2024.1 1378.6L2025.0 1385.2L2025.9 1378.9L2026.8 1385.1L2027.7 1378.5L2028.6 1383.8L2029.5 1377.9L2030.4 1383.2L2031.3 1378.6L2032.2 1382.7L2033.1 1377.4L2034.0 1382.3L2034.9 1376.0L2035.8 1380.5L2036.7 1374.6L2037.6 1379.9L2038.5 1374.7L2039.4 1378.1L2040.3 1373.4L2041.2 1377.7L2042.1 1371.8L2043.0 1378.2L2043.9 1372.2L2044.8 1375.1L2045.7 1371.6L2046.6 1376.8L2047.5 1371.0L2048.4 1376.0L2049.3 1370.0L2050.2 1375.3L2051.1 1368.8L2052.0 1376.5L2052.9 1369.2L2053.8 1380.9L2054.7 1368.9L2055.6 1375.2L2056.5 1369.0L2057.4 1375.2L2058.3 1370.0L2059.2 1375.5L2060.1 1368.6L2061.0 1374.1L2061.9 1368.0L2062.8 1375.1L2063.7 1370.2L2064.6 1377.4L2065.5 1370.2L2066.4 1378.2L2067.3 1372.0L2068.2 1380.0L2069.1 1372.9L2070.0 1379.2L2070.9 1375.5L2071.8 1381.2L2072.7 1376.4L2073.6 1381.6L2074.5 1377.8L2075.4 1383.4L2076.3 1379.9L2077.2 1386.4L2078.1 1383.1L2079.0 1389.4L2079.9 1384.0L2080.8 1392.6L2081.7 1388.0L2082.6 1392.9L2083.5 1389.8L2084.4 1393.9L2085.3 1387.5L2086.2 1389.6L2087.1 1383.1L2088.0 1389.5L2088.9 1381.3L2089.8 1385.7L2090.7 1381.2L2091.6 1391.6L2092.5 1377.4L2093.4 1383.6L2094.3 1376.4L2095.2 1382.7L2096.1 1375.4L2097.0 1381.3L2097.9 1373.9L2098.8 1384.4L2099.7 1373.3L2100.6 1377.8L2101.5 1373.4L2102.4 1376.7L2103.3 1372.6L2104.2 1376.3L2105.1 1369.9L2106.0 1376.1L2106.9 1368.2L2107.8 1374.0L2108.7 1370.1L2109.6 1374.5L2110.5 1368.5L2111.4 1375.5L2112.3 1370.4L2113.2 1373.9L2114.1 1368.1L2115.0 1377.1L2115.9 1370.1L2116.8 1374.9L2117.7 1369.7L2118.6 1373.6L2119.5 1370.5L2120.4 1375.1L2121.3 1369.4L2122.2 1374.3L2123.1 1368.5L2124.0 1374.5L2124.9 1370.4L2125.8 1375.2L2126.7 1364.2L2127.6 1373.8L2128.5 1368.3L2129.4 1373.7L2130.3 1369.0L2131.2 1375.7L2132.1 1369.9L2133.0 1374.4L2133.9 1368.0L2134.8 1375.0L2135.7 1369.7L2136.6 1375.8L2137.5 1368.3L2138.4 1373.6L2139.3 1369.6L2140.2 1375.4L2141.1 1369.4L2142.0 1375.8L2142.9 1368.2L2143.8 1374.6L2144.7 1368.0L2145.6 1373.5L2146.5 1368.1L2147.4 1375.9L2148.3 1367.5L2149.2 1375.2L2150.1 1368.1L2151.0 1375.0L2151.9 1368.1L2152.8 1373.5L2153.7 1370.0L2154.6 1374.2L2155.5 1368.5L2156.4 1375.8L2157.3 1369.2L2158.2 1373.7L2159.1 1368.2L2160.0 1375.6L2160.9 1370.2L2161.8 1376.4L2162.7 1370.3L2163.6 1375.1L2164.5 1368.6L2165.4 1374.6L2166.3 1368.7L2167.2 1373.6L2168.1 1368.2L2169.0 1373.4L2169.9 1369.6L2170.8 1375.4L2171.7 1368.6L2172.6 1375.5L2173.5 1367.9L2174.4 1374.2L2175.3 1368.9L2176.2 1374.3L2177.1 1369.3L2178.0 1374.3L2178.9 1368.1L2179.8 1373.9L2180.7 1368.6L2181.6 1373.3L2182.5 1366.9L2183.4 1373.0L2184.3 1368.3L2185.2 1373.5L2186.1 1369.2L2187.0 1374.4L2187.9 1368.2L2188.8 1373.6L2189.7 1368.5L2190.6 1379.7L2191.5 1369.2L2192.4 1372.9L2193.3 1368.7L2194.2 1374.7L2195.1 1362.0L2196.0 1373.2L2196.9 1369.0L2197.8 1374.3L2198.7 1367.9L2199.6 1374.1L2200.5 1369.2L2201.4 1377.8L2202.3 1367.2L2203.2 1373.7L2204.1 1368.0L2205.0 1374.8L2205.9 1368.5L2206.8 1374.1L2207.7 1368.1L2208.6 1372.8L2209.5 1368.8L2210.4 1374.3L2211.3 1368.6L2212.2 1372.7L2213.1 1363.0L2214.0 1373.0L2214.9 1369.0L2215.8 1380.1L2216.7 1366.9L2217.6 1373.3L2218.5 1369.0L2219.4 1372.4L2220.3 1366.9L2221.2 1372.7L2222.1 1367.1L2223.0 1374.2L2223.9 1368.5L2224.8 1380.6L2225.7 1368.8L2226.6 1373.7L2227.5 1369.6L2228.4 1379.6L2229.3 1368.2L2230.2 1374.8L2231.1 1369.0L2232.0 1375.1L2232.9 1367.9L2233.8 1375.5L2234.7 1368.2L2235.6 1373.8L2236.5 1370.2L2237.4 1375.8L2238.3 1370.0L2239.2 1375.8L2240.1 1368.3L2241.0 1374.2L2241.9 1369.0L2242.8 1375.8L2243.7 1370.4L2244.6 1374.4L2245.5 1370.4L2246.4 1374.1L2247.3 1370.3L2248.2 1376.7L2249.1 1369.2L2250.0 1375.2L2250.9 1369.9L2251.8 1374.7L2252.7 1371.8L2253.6 1382.8L2254.5 1370.4L2255.4 1377.3L2256.3 1369.8L2257.2 1375.2L2258.1 1371.5L2259.0 1377.1L2259.9 1368.5L2260.8 1376.0L2261.7 1370.1L2262.6 1377.0L2263.5 1371.3L2264.4 1376.5L2265.3 1370.7L2266.2 1377.0L2267.1 1371.1L2268.0 1378.1L2268.9 1372.6L2269.8 1378.0L2270.7 1370.9L2271.6 1378.0L2272.5 1371.4L2273.4 1378.6L2274.3 1370.2L2275.2 1378.7L2276.1 1372.4L2277.0 1377.8L2277.9 1372.7L2278.8 1378.0L2279.7 1374.3L2280.6 1378.2L2281.5 1374.5L2282.4 1378.8L2283.3 1374.0L2284.2 1380.4L2285.1 1373.9L2286.0 1379.0L2286.9 1373.3L2287.8 1380.9L2288.7 1374.6L2289.6 1380.4L2290.5 1374.6L2291.4 1381.7L2292.3 1375.0L2293.2 1380.9L2294.1 1375.9L2295.0 1379.9L2295.9 1375.9L2296.8 1382.0L2297.7 1376.0L2298.6 1380.7L2299.5 1375.5L2300.4 1382.7L2301.3 1377.6L2302.2 1384.0L2303.1 1377.7L2304.0 1383.3L2304.9 1379.4L2305.8 1387.5L2306.7 1380.1L2307.6 1387.0L2308.5 1383.6L2309.4 1389.6L2310.3 1383.7L2311.2 1389.0L2312.1 1384.8L2313.0 1391.2L2313.9 1387.5L2314.8 1394.3L2315.7 1389.9L2316.6 1395.2L2317.5 1391.9L2318.4 1399.1L2319.3 1394.8L2320.2 1401.9L2321.1 1398.6L2322.0 1404.7L2322.9 1399.8L2323.8 1407.7L2324.7 1404.1L2325.6 1413.7L2326.5 1410.7L2327.4 1418.0L2328.3 1414.3L2329.2 1427.8L2330.1 1418.8L2331.0 1430.2L2331.9 1420.7L2332.8 1429.5L2333.7 1423.1L2334.6 1431.5L2335.5 1421.9L2336.4 1432.2L2337.3 1427.9L2338.2 1434.0L2339.1 1428.8L2340.0 1433.3L2340.9 1423.0L2341.8 1429.5L2342.7 1423.6L2343.6 1432.0L2344.5 1419.2L2345.4 1424.6L2346.3 1414.0L2347.2 1419.2L2348.1 1411.1L2349.0 1414.4L2349.9 1404.6L2350.8 1410.4L2351.7 1398.7L2352.6 1406.9L2353.5 1398.4L2354.4 1406.1L2355.3 1397.3L2356.2 1403.8L2357.1 1394.0L2358.0 1400.9L2358.9 1393.0"/>
</g>
<g shape-rendering="crispEdges">
<rect x="349" y="25" width="2012" height="3" fill="#000"/>
<rect x="349" y="1011" width="2012" height="3" fill="#000"/>
<rect x="349" y="25" width="4" height="989" fill="#000"/>
<rect x="2357" y="25" width="4" height="989" fill="#000"/>
<rect x="349" y="1048" width="2012" height="4" fill="#000"/>
<rect x="349" y="1550" width="2012" height="4" fill="#000"/>
<rect x="349" y="1048" width="4" height="506" fill="#000"/>
<rect x="2357" y="1048" width="4" height="506" fill="#000"/>
<rect x="606" y="28" width="4" height="18" fill="#000"/>
<rect x="606" y="993" width="4" height="18" fill="#000"/>
<rect x="606" y="1052" width="4" height="18" fill="#000"/>
<rect x="606" y="1532" width="4" height="18" fill="#000"/>
<rect x="864" y="28" width="4" height="36" fill="#000"/>
<rect x="864" y="975" width="4" height="36" fill="#000"/>
<rect x="864" y="1052" width="4" height="36" fill="#000"/>
<rect x="864" y="1514" width="4" height="36" fill="#000"/>
<rect x="1121" y="28" width="4" height="18" fill="#000"/>
<rect x="1121" y="993" width="4" height="18" fill="#000"/>
<rect x="1121" y="1052" width="4" height="18" fill="#000"/>
<rect x="1121" y="1532" width="4" height="18" fill="#000"/>
<rect x="1379" y="28" width="4" height="36" fill="#000"/>
<rect x="1379" y="975" width="4" height="36" fill="#000"/>
<rect x="1379" y="1052" width="4" height="36" fill="#000"/>
<rect x="1379" y="1514" width="4" height="36" fill="#000"/>
<rect x="1636" y="28" width="4" height="18" fill="#000"/>
<rect x="1636" y="993" width="4" height="18" fill="#000"/>
<rect x="1636" y="1052" width="4" height="18" fill="#000"/>
<rect x="1636" y="1532" width="4" height="18" fill="#000"/>
<rect x="1894" y="28" width="4" height="36" fill="#000"/>
<rect x="1894" y="975" width="4" height="36" fill="#000"/>
<rect x="1894" y="1052" width="4" height="36" fill="#000"/>
<rect x="1894" y="1514" width="4" height="36" fill="#000"/>
<rect x="2151" y="28" width="4" height="18" fill="#000"/>
<rect x="2151" y="993" width="4" height="18" fill="#000"/>
<rect x="2151" y="1052" width="4" height="18" fill="#000"/>
<rect x="2151" y="1532" width="4" height="18" fill="#000"/>
<rect x="353" y="856" width="17" height="4" fill="#000"/>
<rect x="2340" y="856" width="17" height="4" fill="#000"/>
<rect x="353" y="702" width="35" height="4" fill="#000"/>
<rect x="2322" y="702" width="35" height="4" fill="#000"/>
<rect x="353" y="548" width="17" height="4" fill="#000"/>
<rect x="2340" y="548" width="17" height="4" fill="#000"/>
<rect x="353" y="394" width="35" height="4" fill="#000"/>
<rect x="2322" y="394" width="35" height="4" fill="#000"/>
<rect x="353" y="240" width="17" height="4" fill="#000"/>
<rect x="2340" y="240" width="17" height="4" fill="#000"/>
<rect x="353" y="86" width="35" height="4" fill="#000"/>
<rect x="2322" y="86" width="35" height="4" fill="#000"/>
<rect x="353" y="1508" width="35" height="4" fill="#000"/>
<rect x="2322" y="1508" width="35" height="4" fill="#000"/>
<rect x="353" y="1404" width="17" height="4" fill="#000"/>
<rect x="2340" y="1404" width="17" height="4" fill="#000"/>
<rect x="353" y="1299" width="35" height="4" fill="#000"/>
<rect x="2322" y="1299" width="35" height="4" fill="#000"/>
<rect x="353" y="1194" width="17" height="4" fill="#000"/>
<rect x="2340" y="1194" width="17" height="4" fill="#000"/>
<rect x="353" y="1090" width="35" height="4" fill="#000"/>
<rect x="2322" y="1090" width="35" height="4" fill="#000"/>
</g>

<text x="334" y="113.4" font-size="77.5" text-anchor="end">0.075</text>
<text x="334" y="421.6" font-size="77.5" text-anchor="end">0.05</text>
<text x="334" y="729.7" font-size="77.5" text-anchor="end">0.025</text>
<text x="334" y="1036.8" font-size="77.5" text-anchor="end">0</text>
<text x="334" y="1117.3" font-size="77.5" text-anchor="end">0.005</text>
<text x="334" y="1326.5" font-size="77.5" text-anchor="end">0</text>
<text x="334" y="1535.7" font-size="77.5" text-anchor="end">-0.005</text>
<text x="351.0" y="1622.5" font-size="77.5" text-anchor="middle">200</text>
<text x="865.9" y="1622.5" font-size="77.5" text-anchor="middle">400</text>
<text x="1380.7" y="1622.5" font-size="77.5" text-anchor="middle">600</text>
<text x="1895.6" y="1622.5" font-size="77.5" text-anchor="middle">800</text>
<text y="1750" font-size="100" style="font-kerning:none"><tspan x="960.4" letter-spacing="-0.9">Wavenumber (cm</tspan><tspan x="1666.7" y="1691" font-size="71">-1</tspan><tspan x="1723.2" y="1750">)</tspan></text>
<text transform="translate(116,1020) rotate(-90)" y="0" font-size="100" style="font-kerning:none"><tspan x="0" letter-spacing="-0.6">Radiance</tspan><tspan x="393">(</tspan><tspan x="425.5">W</tspan><tspan x="516.4">/</tspan><tspan x="545">m</tspan><tspan x="621.3" y="-60" font-size="71">2</tspan><tspan x="656.5" y="0" letter-spacing="-0.4">-sr-cm</tspan><tspan x="914.5" y="-60" font-size="71">-1</tspan><tspan x="970.9" y="0">)</tspan></text>
<text transform="translate(107,1498) rotate(-90)" font-size="100" style="font-kerning:none">Rad. Diff.</text>
<rect x="1746" y="83.5" width="517" height="148" fill="#fff" stroke="#000" stroke-width="4"/>
<rect x="1765" y="122" width="75" height="4" fill="#000"/>
<rect x="1765" y="187" width="75" height="4" fill="#f00"/>
<text x="1877" y="146" font-size="67.7">Measurement</text>
<text x="1877" y="212.5" font-size="67.7">Simulated</text>
</svg>
</body></html>
